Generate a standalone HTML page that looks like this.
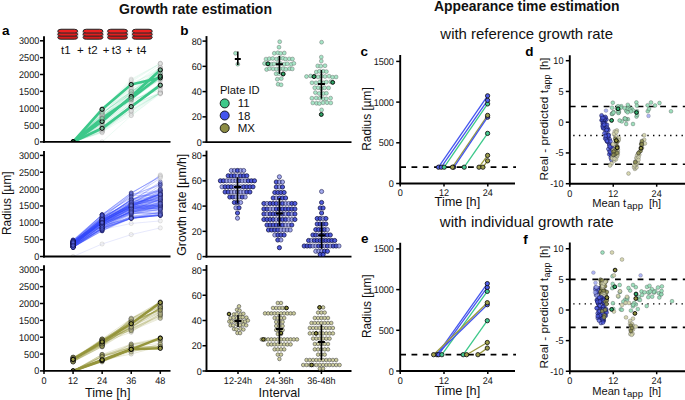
<!DOCTYPE html>
<html><head><meta charset="utf-8"><style>
html,body{margin:0;padding:0;background:#fff;width:685px;height:400px;overflow:hidden}
svg{display:block;font-family:"Liberation Sans", sans-serif}
.c0{fill:#e4e4e4;fill-opacity:0.4;stroke:#888;stroke-width:0.6;stroke-opacity:0.35}
.c1{fill:#8fd0ae;fill-opacity:0.5;stroke:#666;stroke-width:0.6;stroke-opacity:0.5}
.c2{fill:#3aa06a;fill-opacity:0.55;stroke:#000;stroke-width:1.0;stroke-opacity:1}
.c3{fill:#6cc496;fill-opacity:0.7;stroke:#444;stroke-width:0.7;stroke-opacity:0.7}
.c4{fill:#5a68e0;fill-opacity:0.55;stroke:#14145a;stroke-width:0.7;stroke-opacity:0.75}
.c5{fill:#6a76dc;fill-opacity:0.45;stroke:#1a1a5a;stroke-width:0.6;stroke-opacity:0.6}
.c6{fill:#a8a860;fill-opacity:0.45;stroke:#222;stroke-width:0.6;stroke-opacity:0.55}
.c7{fill:#d0d0a8;fill-opacity:0.45;stroke:#666;stroke-width:0.6;stroke-opacity:0.45}
.c8{fill:#a8a860;fill-opacity:0.6;stroke:#222;stroke-width:0.7;stroke-opacity:0.7}
.c9{fill:#9a9a40;fill-opacity:0.8;stroke:#000;stroke-width:1.0;stroke-opacity:1}
.c10{fill:#3ec98a;fill-opacity:1;stroke:#111;stroke-width:0.9;stroke-opacity:1}
.c11{fill:#4455ee;fill-opacity:1;stroke:#111;stroke-width:0.9;stroke-opacity:1}
.c12{fill:#8c8c44;fill-opacity:1;stroke:#111;stroke-width:0.9;stroke-opacity:1}
.c13{fill:#a2e4c4;fill-opacity:0.95;stroke:#555;stroke-width:0.55;stroke-opacity:0.7}
.c14{fill:#2fa466;fill-opacity:1;stroke:#000;stroke-width:0.9;stroke-opacity:1}
.c15{fill:#7c86e6;fill-opacity:0.7;stroke:#1a1a50;stroke-width:0.7;stroke-opacity:0.85}
.c16{fill:#3e4bd8;fill-opacity:0.9;stroke:#0e0e3e;stroke-width:0.8;stroke-opacity:0.95}
.c17{fill:#cdcd9e;fill-opacity:1;stroke:#333;stroke-width:0.6;stroke-opacity:0.85}
.c18{fill:#8e8e3a;fill-opacity:1;stroke:#000;stroke-width:0.9;stroke-opacity:1}
.c19{fill:#4f5eea;fill-opacity:1;stroke:#111;stroke-width:0.85;stroke-opacity:1}
.c20{fill:#45c98f;fill-opacity:1;stroke:#111;stroke-width:0.85;stroke-opacity:1}
.c21{fill:#9d9d4a;fill-opacity:1;stroke:#111;stroke-width:0.85;stroke-opacity:1}
.c22{fill:#4e5ce6;fill-opacity:0.7;stroke:#14144e;stroke-width:0.65;stroke-opacity:0.8}
.c23{fill:#d2d2a8;fill-opacity:0.9;stroke:#555;stroke-width:0.55;stroke-opacity:0.6}
.c24{fill:#8c8c50;fill-opacity:0.9;stroke:#222;stroke-width:0.6;stroke-opacity:0.7}
.c25{fill:#94dcb6;fill-opacity:0.9;stroke:#444;stroke-width:0.55;stroke-opacity:0.6}
.c26{fill:#9aa2f0;fill-opacity:0.8;stroke:#555;stroke-width:0.5;stroke-opacity:0.5}
.c27{fill:#2fae6c;fill-opacity:1;stroke:#000;stroke-width:0.9;stroke-opacity:1}
.c28{fill:#8e8e3a;fill-opacity:1;stroke:#000;stroke-width:0.9;stroke-opacity:1}
</style></head><body>
<svg width="685" height="400" viewBox="0 0 685 400">
<rect width="685" height="400" fill="#fff"/>
<text x="195.50" y="14.00" font-size="14" text-anchor="middle" font-weight="bold" fill="#111" textLength="153" lengthAdjust="spacingAndGlyphs">Growth rate estimation</text>
<text x="526.80" y="11.40" font-size="14" text-anchor="middle" font-weight="bold" fill="#111" textLength="185.5" lengthAdjust="spacingAndGlyphs">Appearance time estimation</text>
<text x="526.70" y="38.60" font-size="15" text-anchor="middle" font-weight="normal" fill="#111" textLength="172.7" lengthAdjust="spacingAndGlyphs">with reference growth rate</text>
<text x="526.70" y="227.10" font-size="15" text-anchor="middle" font-weight="normal" fill="#111" textLength="173.7" lengthAdjust="spacingAndGlyphs">with individual growth rate</text>
<text x="2.00" y="35.00" font-size="13.5" text-anchor="start" font-weight="bold" fill="#000" >a</text>
<text x="180.20" y="35.00" font-size="13.5" text-anchor="start" font-weight="bold" fill="#000" >b</text>
<text x="360.50" y="56.20" font-size="13.5" text-anchor="start" font-weight="bold" fill="#000" >c</text>
<text x="525.30" y="55.90" font-size="13.5" text-anchor="start" font-weight="bold" fill="#000" >d</text>
<text x="361.00" y="242.80" font-size="13.5" text-anchor="start" font-weight="bold" fill="#000" >e</text>
<text x="523.30" y="243.50" font-size="13.5" text-anchor="start" font-weight="bold" fill="#000" >f</text>
<clipPath id="ca0"><rect x="40" y="29.9" width="140" height="112"/></clipPath>
<clipPath id="ca1"><rect x="40" y="144.5" width="140" height="112"/></clipPath>
<clipPath id="ca2"><rect x="40" y="258.9" width="140" height="112"/></clipPath>
<text x="10.60" y="203.00" font-size="11.9" text-anchor="middle" font-weight="normal" fill="#111" transform="rotate(-90 10.8 203)" textLength="63.5" lengthAdjust="spacingAndGlyphs">Radius [µm]</text>
<text x="107.70" y="396.70" font-size="11.9" text-anchor="middle" font-weight="normal" fill="#111" textLength="45.5" lengthAdjust="spacingAndGlyphs">Time [h]</text>
<g transform="translate(57.20,28.8)">
<rect x="-0.4" y="-0.2" width="21.8" height="11.2" rx="5" ry="4" fill="#999" opacity="0.35"/>
<rect x="0.6" y="6.9" width="19.8" height="3.5" rx="3.2" ry="1.75" fill="#d81a1a" stroke="#2a2a2a" stroke-width="1"/>
<rect x="0.6" y="3.8" width="19.8" height="3.5" rx="3.2" ry="1.75" fill="#e21e1e" stroke="#2a2a2a" stroke-width="1"/>
<rect x="0.6" y="0.5" width="19.8" height="3.7" rx="3.2" ry="1.85" fill="#ec2222" stroke="#2a2a2a" stroke-width="1"/>
</g>
<g transform="translate(82.50,28.8)">
<rect x="-0.4" y="-0.2" width="21.8" height="11.2" rx="5" ry="4" fill="#999" opacity="0.35"/>
<rect x="0.6" y="6.9" width="19.8" height="3.5" rx="3.2" ry="1.75" fill="#d81a1a" stroke="#2a2a2a" stroke-width="1"/>
<rect x="0.6" y="3.8" width="19.8" height="3.5" rx="3.2" ry="1.75" fill="#e21e1e" stroke="#2a2a2a" stroke-width="1"/>
<rect x="0.6" y="0.5" width="19.8" height="3.7" rx="3.2" ry="1.85" fill="#ec2222" stroke="#2a2a2a" stroke-width="1"/>
</g>
<g transform="translate(107.00,28.8)">
<rect x="-0.4" y="-0.2" width="21.8" height="11.2" rx="5" ry="4" fill="#999" opacity="0.35"/>
<rect x="0.6" y="6.9" width="19.8" height="3.5" rx="3.2" ry="1.75" fill="#d81a1a" stroke="#2a2a2a" stroke-width="1"/>
<rect x="0.6" y="3.8" width="19.8" height="3.5" rx="3.2" ry="1.75" fill="#e21e1e" stroke="#2a2a2a" stroke-width="1"/>
<rect x="0.6" y="0.5" width="19.8" height="3.7" rx="3.2" ry="1.85" fill="#ec2222" stroke="#2a2a2a" stroke-width="1"/>
</g>
<g transform="translate(131.80,28.8)">
<rect x="-0.4" y="-0.2" width="21.8" height="11.2" rx="5" ry="4" fill="#999" opacity="0.35"/>
<rect x="0.6" y="6.9" width="19.8" height="3.5" rx="3.2" ry="1.75" fill="#d81a1a" stroke="#2a2a2a" stroke-width="1"/>
<rect x="0.6" y="3.8" width="19.8" height="3.5" rx="3.2" ry="1.75" fill="#e21e1e" stroke="#2a2a2a" stroke-width="1"/>
<rect x="0.6" y="0.5" width="19.8" height="3.7" rx="3.2" ry="1.85" fill="#ec2222" stroke="#2a2a2a" stroke-width="1"/>
</g>
<text x="61.00" y="54.40" font-size="11.5" text-anchor="start" font-weight="normal" fill="#111" >t1</text>
<text x="77.00" y="54.40" font-size="11.5" text-anchor="start" font-weight="normal" fill="#111" >+</text>
<text x="88.00" y="54.40" font-size="11.5" text-anchor="start" font-weight="normal" fill="#111" >t2</text>
<text x="102.70" y="54.40" font-size="11.5" text-anchor="start" font-weight="normal" fill="#111" >+</text>
<text x="111.80" y="54.40" font-size="11.5" text-anchor="start" font-weight="normal" fill="#111" >t3</text>
<text x="125.80" y="54.40" font-size="11.5" text-anchor="start" font-weight="normal" fill="#111" >+</text>
<text x="136.80" y="54.40" font-size="11.5" text-anchor="start" font-weight="normal" fill="#111" >t4</text>
<g clip-path="url(#ca0)">
<polyline points="73.1,141.9 102.1,124.4 131.2,106.5 160.3,87.1" fill="none" stroke="#3cc88a" stroke-width="0.9" stroke-opacity="0.1" stroke-linejoin="round"/>
<polyline points="73.1,141.9 102.1,131.4 131.2,106.4 160.3,91.8" fill="none" stroke="#3cc88a" stroke-width="0.9" stroke-opacity="0.1" stroke-linejoin="round"/>
<polyline points="73.1,141.9 102.1,131.9 131.2,107.3 160.3,93.0" fill="none" stroke="#3cc88a" stroke-width="0.9" stroke-opacity="0.1" stroke-linejoin="round"/>
<polyline points="73.1,141.9 102.1,121.3 131.2,104.9 160.3,93.0" fill="none" stroke="#3cc88a" stroke-width="0.9" stroke-opacity="0.1" stroke-linejoin="round"/>
<polyline points="73.1,141.9 102.1,121.6 131.2,91.1 160.3,80.6" fill="none" stroke="#3cc88a" stroke-width="0.9" stroke-opacity="0.1" stroke-linejoin="round"/>
<polyline points="73.1,141.9 102.1,127.2 131.2,100.4 160.3,76.0" fill="none" stroke="#3cc88a" stroke-width="0.9" stroke-opacity="0.1" stroke-linejoin="round"/>
<polyline points="73.1,141.9 102.1,117.3 131.2,94.8 160.3,69.9" fill="none" stroke="#3cc88a" stroke-width="0.9" stroke-opacity="0.1" stroke-linejoin="round"/>
<polyline points="73.1,141.9 102.1,132.2 131.2,101.1 160.3,87.8" fill="none" stroke="#3cc88a" stroke-width="0.9" stroke-opacity="0.1" stroke-linejoin="round"/>
<polyline points="73.1,141.9 102.1,129.4 131.2,112.1 160.3,93.0" fill="none" stroke="#3cc88a" stroke-width="0.9" stroke-opacity="0.1" stroke-linejoin="round"/>
<polyline points="73.1,141.9 102.1,110.6 131.2,92.1 160.3,73.9" fill="none" stroke="#3cc88a" stroke-width="0.9" stroke-opacity="0.1" stroke-linejoin="round"/>
<polyline points="73.1,141.9 102.1,115.6 131.2,93.5 160.3,75.9" fill="none" stroke="#3cc88a" stroke-width="0.9" stroke-opacity="0.1" stroke-linejoin="round"/>
<polyline points="73.1,141.9 102.1,131.7 131.2,115.4 160.3,93.0" fill="none" stroke="#3cc88a" stroke-width="0.9" stroke-opacity="0.1" stroke-linejoin="round"/>
<polyline points="73.1,141.9 102.1,114.4 131.2,91.4 160.3,77.6" fill="none" stroke="#3cc88a" stroke-width="0.9" stroke-opacity="0.1" stroke-linejoin="round"/>
<polyline points="73.1,141.9 102.1,117.1 131.2,93.5 160.3,80.1" fill="none" stroke="#3cc88a" stroke-width="0.9" stroke-opacity="0.1" stroke-linejoin="round"/>
<polyline points="73.1,141.9 102.1,111.3 131.2,83.1 160.3,70.6" fill="none" stroke="#3cc88a" stroke-width="0.9" stroke-opacity="0.1" stroke-linejoin="round"/>
<polyline points="73.1,141.9 102.1,117.4 131.2,92.5 160.3,69.3" fill="none" stroke="#3cc88a" stroke-width="0.9" stroke-opacity="0.1" stroke-linejoin="round"/>
<polyline points="73.1,141.9 102.1,113.1 131.2,92.6 160.3,67.6" fill="none" stroke="#3cc88a" stroke-width="0.9" stroke-opacity="0.1" stroke-linejoin="round"/>
<polyline points="73.1,141.9 102.1,130.2 131.2,107.3 160.3,86.1" fill="none" stroke="#3cc88a" stroke-width="0.9" stroke-opacity="0.1" stroke-linejoin="round"/>
<polyline points="73.1,141.9 102.1,129.2 131.2,105.0 160.3,93.0" fill="none" stroke="#3cc88a" stroke-width="0.9" stroke-opacity="0.1" stroke-linejoin="round"/>
<polyline points="73.1,141.9 102.1,114.8 131.2,85.4 160.3,67.4" fill="none" stroke="#3cc88a" stroke-width="0.9" stroke-opacity="0.1" stroke-linejoin="round"/>
<polyline points="73.1,141.9 102.1,109.0 131.2,88.0 160.3,67.9" fill="none" stroke="#3cc88a" stroke-width="0.9" stroke-opacity="0.1" stroke-linejoin="round"/>
<polyline points="73.1,141.9 102.1,116.8 131.2,90.9 160.3,74.8" fill="none" stroke="#3cc88a" stroke-width="0.9" stroke-opacity="0.1" stroke-linejoin="round"/>
<polyline points="73.1,141.9 102.1,110.0 131.2,79.2 160.3,63.4" fill="none" stroke="#3cc88a" stroke-width="0.9" stroke-opacity="0.1" stroke-linejoin="round"/>
<polyline points="73.1,141.9 102.1,114.9 131.2,98.6 160.3,78.4" fill="none" stroke="#3cc88a" stroke-width="0.9" stroke-opacity="0.1" stroke-linejoin="round"/>
<polyline points="73.1,141.9 102.1,115.4 131.2,81.8 160.3,63.4" fill="none" stroke="#3cc88a" stroke-width="0.9" stroke-opacity="0.1" stroke-linejoin="round"/>
<polyline points="73.1,141.9 102.1,125.5 131.2,103.2 160.3,83.5" fill="none" stroke="#3cc88a" stroke-width="0.9" stroke-opacity="0.1" stroke-linejoin="round"/>
<polyline points="73.1,141.9 102.1,132.8 131.2,109.1 160.3,93.0" fill="none" stroke="#3cc88a" stroke-width="0.9" stroke-opacity="0.1" stroke-linejoin="round"/>
<polyline points="73.1,141.9 102.1,130.2 131.2,113.9 160.3,92.6" fill="none" stroke="#3cc88a" stroke-width="0.9" stroke-opacity="0.1" stroke-linejoin="round"/>
<polyline points="73.1,141.9 102.1,129.9 131.2,110.1 160.3,93.0" fill="none" stroke="#3cc88a" stroke-width="0.9" stroke-opacity="0.1" stroke-linejoin="round"/>
<polyline points="73.1,141.9 102.1,109.1 131.2,92.4 160.3,76.4" fill="none" stroke="#3cc88a" stroke-width="0.9" stroke-opacity="0.1" stroke-linejoin="round"/>
<polyline points="73.1,141.9 102.1,118.1 131.2,86.6 160.3,64.3" fill="none" stroke="#3cc88a" stroke-width="0.9" stroke-opacity="0.1" stroke-linejoin="round"/>
<polyline points="73.1,141.9 102.1,109.3 131.2,89.0 160.3,73.6" fill="none" stroke="#3cc88a" stroke-width="0.9" stroke-opacity="0.1" stroke-linejoin="round"/>
<polyline points="73.1,141.9 102.1,123.4 131.2,91.9 160.3,67.3" fill="none" stroke="#3cc88a" stroke-width="0.9" stroke-opacity="0.1" stroke-linejoin="round"/>
<polyline points="73.1,141.9 102.1,129.3 131.2,110.8 160.3,93.0" fill="none" stroke="#3cc88a" stroke-width="0.9" stroke-opacity="0.1" stroke-linejoin="round"/>
<polyline points="73.1,141.9 102.1,126.9 131.2,102.8 160.3,84.4" fill="none" stroke="#3cc88a" stroke-width="0.9" stroke-opacity="0.1" stroke-linejoin="round"/>
<polyline points="73.1,141.9 102.1,126.1 131.2,110.9 160.3,93.0" fill="none" stroke="#3cc88a" stroke-width="0.9" stroke-opacity="0.1" stroke-linejoin="round"/>
<polyline points="73.1,141.9 102.1,123.1 131.2,97.5 160.3,73.0" fill="none" stroke="#3cc88a" stroke-width="0.9" stroke-opacity="0.1" stroke-linejoin="round"/>
<polyline points="73.1,141.9 102.1,114.2 131.2,89.4 160.3,70.6" fill="none" stroke="#3cc88a" stroke-width="0.9" stroke-opacity="0.1" stroke-linejoin="round"/>
<polyline points="73.1,141.9 102.1,114.6 131.2,98.4 160.3,74.8" fill="none" stroke="#3cc88a" stroke-width="0.9" stroke-opacity="0.1" stroke-linejoin="round"/>
<polyline points="73.1,141.9 102.1,111.7 131.2,80.3 160.3,63.4" fill="none" stroke="#3cc88a" stroke-width="0.9" stroke-opacity="0.1" stroke-linejoin="round"/>
<polyline points="73.1,141.9 102.1,122.5 131.2,99.9 160.3,89.8" fill="none" stroke="#3cc88a" stroke-width="0.9" stroke-opacity="0.1" stroke-linejoin="round"/>
<polyline points="73.1,141.9 102.1,115.7 131.2,99.4 160.3,89.9" fill="none" stroke="#3cc88a" stroke-width="0.9" stroke-opacity="0.1" stroke-linejoin="round"/>
<polyline points="73.1,141.9 102.1,141.9 131.2,115.6 160.3,94.0" fill="none" stroke="#3cc88a" stroke-width="0.9" stroke-opacity="0.1" stroke-linejoin="round"/>
<polyline points="73.1,141.9 102.1,113.6 131.2,91.3 160.3,73.8" fill="none" stroke="#3cc88a" stroke-width="1.0" stroke-opacity="0.2" stroke-linejoin="round"/>
<polyline points="73.1,141.9 102.1,124.4 131.2,99.8 160.3,78.9" fill="none" stroke="#3cc88a" stroke-width="1.0" stroke-opacity="0.2" stroke-linejoin="round"/>
<polyline points="73.1,141.9 102.1,112.2 131.2,94.0 160.3,72.5" fill="none" stroke="#3cc88a" stroke-width="1.0" stroke-opacity="0.2" stroke-linejoin="round"/>
<polyline points="73.1,141.9 102.1,109.3 131.2,84.5 160.3,77.8" fill="none" stroke="#3cc88a" stroke-width="2.7" stroke-opacity="1" stroke-linejoin="round"/>
<polyline points="73.1,141.9 102.1,121.5 131.2,96.5 160.3,69.9" fill="none" stroke="#3cc88a" stroke-width="2.7" stroke-opacity="1" stroke-linejoin="round"/>
<polyline points="73.1,141.9 102.1,128.3 131.2,106.6 160.3,85.2" fill="none" stroke="#3cc88a" stroke-width="2.7" stroke-opacity="1" stroke-linejoin="round"/>
<polyline points="73.1,141.9 102.1,118.3 131.2,98.3 160.3,76.2" fill="none" stroke="#3cc88a" stroke-width="2.7" stroke-opacity="1" stroke-linejoin="round"/>
<circle class="c0" cx="102.1" cy="124.4" r="2.1"/>
<circle class="c0" cx="131.2" cy="106.5" r="2.1"/>
<circle class="c0" cx="160.3" cy="87.1" r="2.1"/>
<circle class="c0" cx="102.1" cy="131.4" r="2.1"/>
<circle class="c0" cx="131.2" cy="106.4" r="2.1"/>
<circle class="c0" cx="160.3" cy="91.8" r="2.1"/>
<circle class="c0" cx="102.1" cy="131.9" r="2.1"/>
<circle class="c0" cx="131.2" cy="107.3" r="2.1"/>
<circle class="c0" cx="160.3" cy="93.0" r="2.1"/>
<circle class="c0" cx="102.1" cy="121.3" r="2.1"/>
<circle class="c0" cx="131.2" cy="104.9" r="2.1"/>
<circle class="c0" cx="160.3" cy="93.0" r="2.1"/>
<circle class="c0" cx="102.1" cy="121.6" r="2.1"/>
<circle class="c0" cx="131.2" cy="91.1" r="2.1"/>
<circle class="c0" cx="160.3" cy="80.6" r="2.1"/>
<circle class="c0" cx="102.1" cy="127.2" r="2.1"/>
<circle class="c0" cx="131.2" cy="100.4" r="2.1"/>
<circle class="c0" cx="160.3" cy="76.0" r="2.1"/>
<circle class="c0" cx="102.1" cy="117.3" r="2.1"/>
<circle class="c0" cx="131.2" cy="94.8" r="2.1"/>
<circle class="c0" cx="160.3" cy="69.9" r="2.1"/>
<circle class="c0" cx="102.1" cy="132.2" r="2.1"/>
<circle class="c0" cx="131.2" cy="101.1" r="2.1"/>
<circle class="c0" cx="160.3" cy="87.8" r="2.1"/>
<circle class="c0" cx="102.1" cy="129.4" r="2.1"/>
<circle class="c0" cx="131.2" cy="112.1" r="2.1"/>
<circle class="c0" cx="160.3" cy="93.0" r="2.1"/>
<circle class="c0" cx="102.1" cy="110.6" r="2.1"/>
<circle class="c0" cx="131.2" cy="92.1" r="2.1"/>
<circle class="c0" cx="160.3" cy="73.9" r="2.1"/>
<circle class="c0" cx="102.1" cy="115.6" r="2.1"/>
<circle class="c0" cx="131.2" cy="93.5" r="2.1"/>
<circle class="c0" cx="160.3" cy="75.9" r="2.1"/>
<circle class="c0" cx="102.1" cy="131.7" r="2.1"/>
<circle class="c0" cx="131.2" cy="115.4" r="2.1"/>
<circle class="c0" cx="160.3" cy="93.0" r="2.1"/>
<circle class="c0" cx="102.1" cy="114.4" r="2.1"/>
<circle class="c0" cx="131.2" cy="91.4" r="2.1"/>
<circle class="c0" cx="160.3" cy="77.6" r="2.1"/>
<circle class="c0" cx="102.1" cy="117.1" r="2.1"/>
<circle class="c0" cx="131.2" cy="93.5" r="2.1"/>
<circle class="c0" cx="160.3" cy="80.1" r="2.1"/>
<circle class="c0" cx="102.1" cy="111.3" r="2.1"/>
<circle class="c0" cx="131.2" cy="83.1" r="2.1"/>
<circle class="c0" cx="160.3" cy="70.6" r="2.1"/>
<circle class="c0" cx="102.1" cy="117.4" r="2.1"/>
<circle class="c0" cx="131.2" cy="92.5" r="2.1"/>
<circle class="c0" cx="160.3" cy="69.3" r="2.1"/>
<circle class="c0" cx="102.1" cy="113.1" r="2.1"/>
<circle class="c0" cx="131.2" cy="92.6" r="2.1"/>
<circle class="c0" cx="160.3" cy="67.6" r="2.1"/>
<circle class="c0" cx="102.1" cy="130.2" r="2.1"/>
<circle class="c0" cx="131.2" cy="107.3" r="2.1"/>
<circle class="c0" cx="160.3" cy="86.1" r="2.1"/>
<circle class="c0" cx="102.1" cy="129.2" r="2.1"/>
<circle class="c0" cx="131.2" cy="105.0" r="2.1"/>
<circle class="c0" cx="160.3" cy="93.0" r="2.1"/>
<circle class="c0" cx="102.1" cy="114.8" r="2.1"/>
<circle class="c0" cx="131.2" cy="85.4" r="2.1"/>
<circle class="c0" cx="160.3" cy="67.4" r="2.1"/>
<circle class="c0" cx="102.1" cy="109.0" r="2.1"/>
<circle class="c0" cx="131.2" cy="88.0" r="2.1"/>
<circle class="c0" cx="160.3" cy="67.9" r="2.1"/>
<circle class="c0" cx="102.1" cy="116.8" r="2.1"/>
<circle class="c0" cx="131.2" cy="90.9" r="2.1"/>
<circle class="c0" cx="160.3" cy="74.8" r="2.1"/>
<circle class="c0" cx="102.1" cy="110.0" r="2.1"/>
<circle class="c0" cx="131.2" cy="79.2" r="2.1"/>
<circle class="c0" cx="160.3" cy="63.4" r="2.1"/>
<circle class="c0" cx="102.1" cy="114.9" r="2.1"/>
<circle class="c0" cx="131.2" cy="98.6" r="2.1"/>
<circle class="c0" cx="160.3" cy="78.4" r="2.1"/>
<circle class="c0" cx="102.1" cy="115.4" r="2.1"/>
<circle class="c0" cx="131.2" cy="81.8" r="2.1"/>
<circle class="c0" cx="160.3" cy="63.4" r="2.1"/>
<circle class="c0" cx="102.1" cy="125.5" r="2.1"/>
<circle class="c0" cx="131.2" cy="103.2" r="2.1"/>
<circle class="c0" cx="160.3" cy="83.5" r="2.1"/>
<circle class="c0" cx="102.1" cy="132.8" r="2.1"/>
<circle class="c0" cx="131.2" cy="109.1" r="2.1"/>
<circle class="c0" cx="160.3" cy="93.0" r="2.1"/>
<circle class="c0" cx="102.1" cy="130.2" r="2.1"/>
<circle class="c0" cx="131.2" cy="113.9" r="2.1"/>
<circle class="c0" cx="160.3" cy="92.6" r="2.1"/>
<circle class="c0" cx="102.1" cy="129.9" r="2.1"/>
<circle class="c0" cx="131.2" cy="110.1" r="2.1"/>
<circle class="c0" cx="160.3" cy="93.0" r="2.1"/>
<circle class="c0" cx="102.1" cy="109.1" r="2.1"/>
<circle class="c0" cx="131.2" cy="92.4" r="2.1"/>
<circle class="c0" cx="160.3" cy="76.4" r="2.1"/>
<circle class="c0" cx="102.1" cy="118.1" r="2.1"/>
<circle class="c0" cx="131.2" cy="86.6" r="2.1"/>
<circle class="c0" cx="160.3" cy="64.3" r="2.1"/>
<circle class="c0" cx="102.1" cy="109.3" r="2.1"/>
<circle class="c0" cx="131.2" cy="89.0" r="2.1"/>
<circle class="c0" cx="160.3" cy="73.6" r="2.1"/>
<circle class="c0" cx="102.1" cy="123.4" r="2.1"/>
<circle class="c0" cx="131.2" cy="91.9" r="2.1"/>
<circle class="c0" cx="160.3" cy="67.3" r="2.1"/>
<circle class="c0" cx="102.1" cy="129.3" r="2.1"/>
<circle class="c0" cx="131.2" cy="110.8" r="2.1"/>
<circle class="c0" cx="160.3" cy="93.0" r="2.1"/>
<circle class="c0" cx="102.1" cy="126.9" r="2.1"/>
<circle class="c0" cx="131.2" cy="102.8" r="2.1"/>
<circle class="c0" cx="160.3" cy="84.4" r="2.1"/>
<circle class="c0" cx="102.1" cy="126.1" r="2.1"/>
<circle class="c0" cx="131.2" cy="110.9" r="2.1"/>
<circle class="c0" cx="160.3" cy="93.0" r="2.1"/>
<circle class="c0" cx="102.1" cy="123.1" r="2.1"/>
<circle class="c0" cx="131.2" cy="97.5" r="2.1"/>
<circle class="c0" cx="160.3" cy="73.0" r="2.1"/>
<circle class="c0" cx="102.1" cy="114.2" r="2.1"/>
<circle class="c0" cx="131.2" cy="89.4" r="2.1"/>
<circle class="c0" cx="160.3" cy="70.6" r="2.1"/>
<circle class="c0" cx="102.1" cy="114.6" r="2.1"/>
<circle class="c0" cx="131.2" cy="98.4" r="2.1"/>
<circle class="c0" cx="160.3" cy="74.8" r="2.1"/>
<circle class="c0" cx="102.1" cy="111.7" r="2.1"/>
<circle class="c0" cx="131.2" cy="80.3" r="2.1"/>
<circle class="c0" cx="160.3" cy="63.4" r="2.1"/>
<circle class="c0" cx="102.1" cy="122.5" r="2.1"/>
<circle class="c0" cx="131.2" cy="99.9" r="2.1"/>
<circle class="c0" cx="160.3" cy="89.8" r="2.1"/>
<circle class="c0" cx="102.1" cy="115.7" r="2.1"/>
<circle class="c0" cx="131.2" cy="99.4" r="2.1"/>
<circle class="c0" cx="160.3" cy="89.9" r="2.1"/>
<circle class="c0" cx="102.1" cy="141.9" r="2.1"/>
<circle class="c0" cx="131.2" cy="115.6" r="2.1"/>
<circle class="c0" cx="160.3" cy="94.0" r="2.1"/>
<circle class="c1" cx="102.1" cy="113.6" r="2.1"/>
<circle class="c1" cx="131.2" cy="91.3" r="2.1"/>
<circle class="c1" cx="160.3" cy="73.8" r="2.1"/>
<circle class="c1" cx="102.1" cy="124.4" r="2.1"/>
<circle class="c1" cx="131.2" cy="99.8" r="2.1"/>
<circle class="c1" cx="160.3" cy="78.9" r="2.1"/>
<circle class="c1" cx="102.1" cy="112.2" r="2.1"/>
<circle class="c1" cx="131.2" cy="94.0" r="2.1"/>
<circle class="c1" cx="160.3" cy="72.5" r="2.1"/>
<circle class="c2" cx="73.1" cy="141.9" r="2.1"/>
<circle class="c2" cx="102.1" cy="109.3" r="2.1"/>
<circle class="c2" cx="131.2" cy="84.5" r="2.1"/>
<circle class="c2" cx="160.3" cy="77.8" r="2.1"/>
<circle class="c2" cx="73.1" cy="141.9" r="2.1"/>
<circle class="c2" cx="102.1" cy="121.5" r="2.1"/>
<circle class="c2" cx="131.2" cy="96.5" r="2.1"/>
<circle class="c2" cx="160.3" cy="69.9" r="2.1"/>
<circle class="c2" cx="73.1" cy="141.9" r="2.1"/>
<circle class="c2" cx="102.1" cy="128.3" r="2.1"/>
<circle class="c2" cx="131.2" cy="106.6" r="2.1"/>
<circle class="c2" cx="160.3" cy="85.2" r="2.1"/>
<circle class="c2" cx="73.1" cy="141.9" r="2.1"/>
<circle class="c3" cx="102.1" cy="118.3" r="2.1"/>
<circle class="c3" cx="131.2" cy="98.3" r="2.1"/>
<circle class="c2" cx="160.3" cy="76.2" r="2.1"/>
</g>
<g clip-path="url(#ca1)">
<polyline points="73.1,243.2 102.1,222.2 131.2,206.1 160.3,197.4" fill="none" stroke="#3248fa" stroke-width="1.0" stroke-opacity="0.24" stroke-linejoin="round"/>
<polyline points="73.1,243.3 102.1,221.6 131.2,202.9 160.3,199.7" fill="none" stroke="#3248fa" stroke-width="1.0" stroke-opacity="0.24" stroke-linejoin="round"/>
<polyline points="73.1,245.1 102.1,224.0 131.2,208.0 160.3,206.0" fill="none" stroke="#3248fa" stroke-width="1.0" stroke-opacity="0.24" stroke-linejoin="round"/>
<polyline points="73.1,241.5 102.1,225.0 131.2,208.0 160.3,196.5" fill="none" stroke="#3248fa" stroke-width="1.0" stroke-opacity="0.24" stroke-linejoin="round"/>
<polyline points="73.1,243.1 102.1,221.7 131.2,203.7 160.3,196.2" fill="none" stroke="#3248fa" stroke-width="1.0" stroke-opacity="0.24" stroke-linejoin="round"/>
<polyline points="73.1,242.5 102.1,223.8 131.2,212.0 160.3,206.0" fill="none" stroke="#3248fa" stroke-width="1.0" stroke-opacity="0.24" stroke-linejoin="round"/>
<polyline points="73.1,244.5 102.1,227.4 131.2,210.1 160.3,199.2" fill="none" stroke="#3248fa" stroke-width="1.0" stroke-opacity="0.24" stroke-linejoin="round"/>
<polyline points="73.1,246.1 102.1,225.2 131.2,212.5 160.3,206.0" fill="none" stroke="#3248fa" stroke-width="1.0" stroke-opacity="0.24" stroke-linejoin="round"/>
<polyline points="73.1,247.3 102.1,229.0 131.2,216.2 160.3,212.3" fill="none" stroke="#3248fa" stroke-width="1.0" stroke-opacity="0.24" stroke-linejoin="round"/>
<polyline points="73.1,246.6 102.1,230.9 131.2,218.4 160.3,215.4" fill="none" stroke="#3248fa" stroke-width="1.0" stroke-opacity="0.24" stroke-linejoin="round"/>
<polyline points="73.1,242.5 102.1,222.1 131.2,206.1 160.3,196.3" fill="none" stroke="#3248fa" stroke-width="1.0" stroke-opacity="0.24" stroke-linejoin="round"/>
<polyline points="73.1,243.9 102.1,219.6 131.2,204.3 160.3,200.7" fill="none" stroke="#3248fa" stroke-width="1.0" stroke-opacity="0.24" stroke-linejoin="round"/>
<polyline points="73.1,240.8 102.1,214.7 131.2,192.9 160.3,176.7" fill="none" stroke="#3248fa" stroke-width="1.0" stroke-opacity="0.24" stroke-linejoin="round"/>
<polyline points="73.1,242.6 102.1,219.0 131.2,207.1 160.3,200.1" fill="none" stroke="#3248fa" stroke-width="1.0" stroke-opacity="0.24" stroke-linejoin="round"/>
<polyline points="73.1,244.0 102.1,221.8 131.2,207.5 160.3,190.6" fill="none" stroke="#3248fa" stroke-width="1.0" stroke-opacity="0.24" stroke-linejoin="round"/>
<polyline points="73.1,241.3 102.1,221.2 131.2,203.2 160.3,198.3" fill="none" stroke="#3248fa" stroke-width="1.0" stroke-opacity="0.24" stroke-linejoin="round"/>
<polyline points="73.1,241.1 102.1,221.1 131.2,199.4 160.3,190.3" fill="none" stroke="#3248fa" stroke-width="1.0" stroke-opacity="0.24" stroke-linejoin="round"/>
<polyline points="73.1,246.3 102.1,221.0 131.2,208.9 160.3,204.7" fill="none" stroke="#3248fa" stroke-width="1.0" stroke-opacity="0.24" stroke-linejoin="round"/>
<polyline points="73.1,242.9 102.1,218.8 131.2,207.7 160.3,193.0" fill="none" stroke="#3248fa" stroke-width="1.0" stroke-opacity="0.24" stroke-linejoin="round"/>
<polyline points="73.1,240.1 102.1,217.5 131.2,200.6 160.3,183.6" fill="none" stroke="#3248fa" stroke-width="1.0" stroke-opacity="0.24" stroke-linejoin="round"/>
<polyline points="73.1,243.7 102.1,219.9 131.2,207.6 160.3,208.4" fill="none" stroke="#3248fa" stroke-width="1.0" stroke-opacity="0.24" stroke-linejoin="round"/>
<polyline points="73.1,246.6 102.1,222.6 131.2,209.2 160.3,206.7" fill="none" stroke="#3248fa" stroke-width="1.0" stroke-opacity="0.24" stroke-linejoin="round"/>
<polyline points="73.1,243.2 102.1,222.4 131.2,204.6 160.3,201.2" fill="none" stroke="#3248fa" stroke-width="1.0" stroke-opacity="0.24" stroke-linejoin="round"/>
<polyline points="73.1,240.8 102.1,216.3 131.2,203.1 160.3,188.2" fill="none" stroke="#3248fa" stroke-width="1.0" stroke-opacity="0.24" stroke-linejoin="round"/>
<polyline points="73.1,247.4 102.1,230.9 131.2,216.2 160.3,215.4" fill="none" stroke="#3248fa" stroke-width="1.0" stroke-opacity="0.24" stroke-linejoin="round"/>
<polyline points="73.1,244.2 102.1,222.6 131.2,209.1 160.3,200.1" fill="none" stroke="#3248fa" stroke-width="1.0" stroke-opacity="0.24" stroke-linejoin="round"/>
<polyline points="73.1,241.0 102.1,215.3 131.2,194.7 160.3,185.3" fill="none" stroke="#3248fa" stroke-width="1.0" stroke-opacity="0.24" stroke-linejoin="round"/>
<polyline points="73.1,246.7 102.1,225.3 131.2,218.4 160.3,214.6" fill="none" stroke="#3248fa" stroke-width="1.0" stroke-opacity="0.24" stroke-linejoin="round"/>
<polyline points="73.1,241.5 102.1,218.9 131.2,199.8 160.3,191.1" fill="none" stroke="#3248fa" stroke-width="1.0" stroke-opacity="0.24" stroke-linejoin="round"/>
<polyline points="73.1,247.4 102.1,227.6 131.2,212.4 160.3,213.7" fill="none" stroke="#3248fa" stroke-width="1.0" stroke-opacity="0.24" stroke-linejoin="round"/>
<polyline points="73.1,246.3 102.1,228.0 131.2,213.2 160.3,213.5" fill="none" stroke="#3248fa" stroke-width="1.0" stroke-opacity="0.24" stroke-linejoin="round"/>
<polyline points="73.1,245.8 102.1,220.7 131.2,207.0 160.3,204.8" fill="none" stroke="#3248fa" stroke-width="1.0" stroke-opacity="0.24" stroke-linejoin="round"/>
<polyline points="73.1,243.1 102.1,223.3 131.2,205.4 160.3,193.2" fill="none" stroke="#3248fa" stroke-width="1.0" stroke-opacity="0.24" stroke-linejoin="round"/>
<polyline points="73.1,244.0 102.1,223.0 131.2,208.8 160.3,203.9" fill="none" stroke="#3248fa" stroke-width="1.0" stroke-opacity="0.24" stroke-linejoin="round"/>
<polyline points="73.1,241.1 102.1,217.1 131.2,204.7 160.3,185.4" fill="none" stroke="#3248fa" stroke-width="1.0" stroke-opacity="0.24" stroke-linejoin="round"/>
<polyline points="73.1,242.1 102.1,218.5 131.2,195.3 160.3,195.5" fill="none" stroke="#3248fa" stroke-width="1.0" stroke-opacity="0.24" stroke-linejoin="round"/>
<polyline points="73.1,240.8 102.1,222.2 131.2,203.2 160.3,189.6" fill="none" stroke="#3248fa" stroke-width="1.0" stroke-opacity="0.24" stroke-linejoin="round"/>
<polyline points="73.1,243.7 102.1,221.5 131.2,210.5 160.3,202.3" fill="none" stroke="#3248fa" stroke-width="1.0" stroke-opacity="0.24" stroke-linejoin="round"/>
<polyline points="73.1,242.7 102.1,221.5 131.2,206.4 160.3,202.0" fill="none" stroke="#3248fa" stroke-width="1.0" stroke-opacity="0.24" stroke-linejoin="round"/>
<polyline points="73.1,243.7 102.1,223.6 131.2,211.8 160.3,207.3" fill="none" stroke="#3248fa" stroke-width="1.0" stroke-opacity="0.24" stroke-linejoin="round"/>
<polyline points="73.1,239.8 102.1,214.7 131.2,198.4 160.3,174.9" fill="none" stroke="#3248fa" stroke-width="1.0" stroke-opacity="0.24" stroke-linejoin="round"/>
<polyline points="73.1,241.5 102.1,220.1 131.2,205.0 160.3,194.6" fill="none" stroke="#3248fa" stroke-width="1.0" stroke-opacity="0.24" stroke-linejoin="round"/>
<polyline points="73.1,246.3 102.1,228.8 131.2,218.4 160.3,213.7" fill="none" stroke="#3248fa" stroke-width="1.0" stroke-opacity="0.24" stroke-linejoin="round"/>
<polyline points="73.1,242.4 102.1,217.1 131.2,196.3 160.3,183.8" fill="none" stroke="#3248fa" stroke-width="1.0" stroke-opacity="0.24" stroke-linejoin="round"/>
<polyline points="73.1,245.7 102.1,220.7 131.2,207.5 160.3,208.9" fill="none" stroke="#3248fa" stroke-width="1.0" stroke-opacity="0.24" stroke-linejoin="round"/>
<polyline points="73.1,244.6 102.1,225.7 131.2,211.3 160.3,210.1" fill="none" stroke="#3248fa" stroke-width="1.0" stroke-opacity="0.24" stroke-linejoin="round"/>
<polyline points="73.1,245.2 102.1,228.8 131.2,214.5 160.3,209.0" fill="none" stroke="#3248fa" stroke-width="1.0" stroke-opacity="0.24" stroke-linejoin="round"/>
<polyline points="73.1,243.9 102.1,220.8 131.2,203.5 160.3,194.7" fill="none" stroke="#3248fa" stroke-width="1.0" stroke-opacity="0.24" stroke-linejoin="round"/>
<polyline points="73.1,242.7 102.1,220.7 131.2,202.0 160.3,194.9" fill="none" stroke="#3248fa" stroke-width="1.0" stroke-opacity="0.24" stroke-linejoin="round"/>
<polyline points="73.1,246.1 102.1,225.4 131.2,212.8 160.3,207.8" fill="none" stroke="#3248fa" stroke-width="1.0" stroke-opacity="0.24" stroke-linejoin="round"/>
<polyline points="73.1,243.9 102.1,222.7 131.2,210.6 160.3,199.3" fill="none" stroke="#3248fa" stroke-width="1.0" stroke-opacity="0.24" stroke-linejoin="round"/>
<polyline points="73.1,241.8 102.1,219.0 131.2,200.4 160.3,194.9" fill="none" stroke="#3248fa" stroke-width="1.0" stroke-opacity="0.24" stroke-linejoin="round"/>
<polyline points="73.1,247.2 102.1,230.6 131.2,217.1 160.3,215.4" fill="none" stroke="#3248fa" stroke-width="1.0" stroke-opacity="0.24" stroke-linejoin="round"/>
<polyline points="73.1,247.4 102.1,227.9 131.2,218.4 160.3,215.4" fill="none" stroke="#3248fa" stroke-width="1.0" stroke-opacity="0.24" stroke-linejoin="round"/>
<polyline points="73.1,244.8 102.1,224.4 131.2,211.7 160.3,202.3" fill="none" stroke="#3248fa" stroke-width="1.0" stroke-opacity="0.24" stroke-linejoin="round"/>
<polyline points="73.1,242.9 102.1,219.1 131.2,199.6 160.3,190.9" fill="none" stroke="#3248fa" stroke-width="1.0" stroke-opacity="0.24" stroke-linejoin="round"/>
<polyline points="73.1,243.4 102.1,219.1 131.2,199.9 160.3,192.7" fill="none" stroke="#3248fa" stroke-width="1.0" stroke-opacity="0.24" stroke-linejoin="round"/>
<polyline points="73.1,241.6 102.1,217.3 131.2,201.8 160.3,181.7" fill="none" stroke="#3248fa" stroke-width="1.0" stroke-opacity="0.24" stroke-linejoin="round"/>
<polyline points="73.1,242.2 102.1,217.9 131.2,194.2 160.3,190.9" fill="none" stroke="#3248fa" stroke-width="1.0" stroke-opacity="0.24" stroke-linejoin="round"/>
<polyline points="73.1,241.6 102.1,219.4 131.2,205.2 160.3,192.2" fill="none" stroke="#3248fa" stroke-width="1.0" stroke-opacity="0.24" stroke-linejoin="round"/>
<polyline points="73.1,242.3 102.1,220.0 131.2,205.5 160.3,194.5" fill="none" stroke="#3248fa" stroke-width="1.0" stroke-opacity="0.24" stroke-linejoin="round"/>
<polyline points="73.1,242.9 102.1,220.5 131.2,205.0 160.3,193.4" fill="none" stroke="#3248fa" stroke-width="1.0" stroke-opacity="0.24" stroke-linejoin="round"/>
<polyline points="73.1,246.4 102.1,226.2 131.2,217.3 160.3,212.1" fill="none" stroke="#3248fa" stroke-width="1.0" stroke-opacity="0.24" stroke-linejoin="round"/>
<polyline points="73.1,247.4 102.1,228.7 131.2,218.1 160.3,215.4" fill="none" stroke="#3248fa" stroke-width="1.0" stroke-opacity="0.24" stroke-linejoin="round"/>
<polyline points="73.1,245.9 102.1,220.5 131.2,207.8 160.3,199.0" fill="none" stroke="#3248fa" stroke-width="1.0" stroke-opacity="0.24" stroke-linejoin="round"/>
<polyline points="73.1,245.7 102.1,228.3 131.2,211.0 160.3,205.5" fill="none" stroke="#3248fa" stroke-width="1.0" stroke-opacity="0.24" stroke-linejoin="round"/>
<polyline points="73.1,247.3 102.1,228.2 131.2,218.4 160.3,215.4" fill="none" stroke="#3248fa" stroke-width="1.0" stroke-opacity="0.24" stroke-linejoin="round"/>
<polyline points="73.1,246.5 102.1,228.4 131.2,213.8 160.3,209.7" fill="none" stroke="#3248fa" stroke-width="1.0" stroke-opacity="0.24" stroke-linejoin="round"/>
<polyline points="73.1,242.3 102.1,217.9 131.2,201.1 160.3,200.0" fill="none" stroke="#3248fa" stroke-width="1.0" stroke-opacity="0.24" stroke-linejoin="round"/>
<polyline points="73.1,246.0 102.1,225.9 131.2,210.8 160.3,205.5" fill="none" stroke="#3248fa" stroke-width="1.0" stroke-opacity="0.24" stroke-linejoin="round"/>
<polyline points="73.1,244.8 102.1,222.6 131.2,204.8 160.3,197.2" fill="none" stroke="#3248fa" stroke-width="1.0" stroke-opacity="0.24" stroke-linejoin="round"/>
<polyline points="73.1,244.6 102.1,224.7 131.2,207.8 160.3,202.4" fill="none" stroke="#3248fa" stroke-width="1.0" stroke-opacity="0.24" stroke-linejoin="round"/>
<polyline points="73.1,244.9 102.1,223.0 131.2,214.6 160.3,205.3" fill="none" stroke="#3248fa" stroke-width="1.0" stroke-opacity="0.24" stroke-linejoin="round"/>
<polyline points="73.1,245.5 102.1,222.0 131.2,207.1 160.3,205.7" fill="none" stroke="#3248fa" stroke-width="1.0" stroke-opacity="0.24" stroke-linejoin="round"/>
<polyline points="73.1,244.8 102.1,222.7 131.2,207.7 160.3,203.3" fill="none" stroke="#3248fa" stroke-width="1.0" stroke-opacity="0.24" stroke-linejoin="round"/>
<polyline points="73.1,245.6 102.1,225.6 131.2,210.9 160.3,207.5" fill="none" stroke="#3248fa" stroke-width="1.0" stroke-opacity="0.24" stroke-linejoin="round"/>
<polyline points="73.1,246.6 102.1,225.6 131.2,213.6 160.3,211.6" fill="none" stroke="#3248fa" stroke-width="1.0" stroke-opacity="0.24" stroke-linejoin="round"/>
<polyline points="73.1,244.7 102.1,222.7 131.2,207.1 160.3,203.5" fill="none" stroke="#3248fa" stroke-width="1.0" stroke-opacity="0.24" stroke-linejoin="round"/>
<polyline points="73.1,240.4 102.1,214.7 131.2,193.6 160.3,175.6" fill="none" stroke="#3248fa" stroke-width="1.0" stroke-opacity="0.24" stroke-linejoin="round"/>
<polyline points="73.1,247.4 102.1,229.9 131.2,218.4 160.3,212.3" fill="none" stroke="#3248fa" stroke-width="1.0" stroke-opacity="0.24" stroke-linejoin="round"/>
<polyline points="73.1,242.2 102.1,220.2 131.2,203.5 160.3,196.1" fill="none" stroke="#3248fa" stroke-width="1.0" stroke-opacity="0.24" stroke-linejoin="round"/>
<polyline points="73.1,243.8 102.1,224.7 131.2,205.8 160.3,206.1" fill="none" stroke="#3248fa" stroke-width="1.0" stroke-opacity="0.24" stroke-linejoin="round"/>
<polyline points="73.1,241.5 102.1,221.9 131.2,206.1 160.3,194.3" fill="none" stroke="#3248fa" stroke-width="1.0" stroke-opacity="0.24" stroke-linejoin="round"/>
<polyline points="73.1,244.8 102.1,222.0 131.2,206.1 160.3,198.0" fill="none" stroke="#3248fa" stroke-width="1.0" stroke-opacity="0.24" stroke-linejoin="round"/>
<polyline points="73.1,243.6 102.1,222.7 131.2,212.1 160.3,206.9" fill="none" stroke="#3248fa" stroke-width="1.0" stroke-opacity="0.24" stroke-linejoin="round"/>
<polyline points="73.1,243.3 102.1,225.0 131.2,208.6 160.3,206.6" fill="none" stroke="#3248fa" stroke-width="1.0" stroke-opacity="0.24" stroke-linejoin="round"/>
<polyline points="73.1,244.5 102.1,222.9 131.2,211.8 160.3,209.7" fill="none" stroke="#3248fa" stroke-width="1.0" stroke-opacity="0.24" stroke-linejoin="round"/>
<polyline points="73.1,242.7 102.1,219.1 131.2,199.3 160.3,189.3" fill="none" stroke="#3248fa" stroke-width="1.0" stroke-opacity="0.24" stroke-linejoin="round"/>
<polyline points="73.1,242.6 102.1,224.3 131.2,208.8 160.3,208.0" fill="none" stroke="#3248fa" stroke-width="1.0" stroke-opacity="0.24" stroke-linejoin="round"/>
<polyline points="73.1,245.9 102.1,219.9 131.2,204.7 160.3,205.8" fill="none" stroke="#3248fa" stroke-width="1.0" stroke-opacity="0.24" stroke-linejoin="round"/>
<polyline points="73.1,247.4 102.1,226.0 131.2,217.6 160.3,214.8" fill="none" stroke="#3248fa" stroke-width="1.0" stroke-opacity="0.24" stroke-linejoin="round"/>
<polyline points="73.1,244.7 102.1,225.2 131.2,209.4 160.3,209.1" fill="none" stroke="#3248fa" stroke-width="1.0" stroke-opacity="0.24" stroke-linejoin="round"/>
<polyline points="73.1,243.8 102.1,222.0 131.2,208.6 160.3,204.9" fill="none" stroke="#3248fa" stroke-width="1.0" stroke-opacity="0.24" stroke-linejoin="round"/>
<polyline points="73.1,244.3 102.1,219.5 131.2,204.9 160.3,199.9" fill="none" stroke="#3248fa" stroke-width="1.0" stroke-opacity="0.24" stroke-linejoin="round"/>
<polyline points="73.1,245.5 102.1,225.6 131.2,211.2 160.3,204.1" fill="none" stroke="#3248fa" stroke-width="1.0" stroke-opacity="0.24" stroke-linejoin="round"/>
<polyline points="73.1,242.6 102.1,217.5 131.2,206.3 160.3,196.2" fill="none" stroke="#3248fa" stroke-width="1.0" stroke-opacity="0.24" stroke-linejoin="round"/>
<polyline points="73.1,241.5 102.1,214.7 131.2,192.8 160.3,176.7" fill="none" stroke="#3248fa" stroke-width="1.0" stroke-opacity="0.24" stroke-linejoin="round"/>
<polyline points="73.1,243.6 102.1,220.5 131.2,205.1 160.3,194.3" fill="none" stroke="#3248fa" stroke-width="1.0" stroke-opacity="0.24" stroke-linejoin="round"/>
<polyline points="73.1,247.4 102.1,229.2 131.2,218.4 160.3,215.4" fill="none" stroke="#3248fa" stroke-width="1.0" stroke-opacity="0.24" stroke-linejoin="round"/>
<polyline points="73.1,243.6 102.1,219.3 131.2,202.2 160.3,194.0" fill="none" stroke="#3248fa" stroke-width="1.0" stroke-opacity="0.24" stroke-linejoin="round"/>
<polyline points="73.1,243.3 102.1,222.8 131.2,204.7 160.3,194.6" fill="none" stroke="#3248fa" stroke-width="1.0" stroke-opacity="0.24" stroke-linejoin="round"/>
<polyline points="73.1,245.0 102.1,223.2 131.2,212.8 160.3,203.3" fill="none" stroke="#3248fa" stroke-width="1.0" stroke-opacity="0.24" stroke-linejoin="round"/>
<polyline points="73.1,241.5 102.1,215.7 131.2,197.0 160.3,178.2" fill="none" stroke="#3248fa" stroke-width="1.0" stroke-opacity="0.24" stroke-linejoin="round"/>
<polyline points="73.1,242.6 102.1,222.4 131.2,205.8 160.3,198.1" fill="none" stroke="#3248fa" stroke-width="1.0" stroke-opacity="0.24" stroke-linejoin="round"/>
<polyline points="73.1,245.6 102.1,227.4 131.2,218.4 160.3,214.3" fill="none" stroke="#3248fa" stroke-width="1.0" stroke-opacity="0.24" stroke-linejoin="round"/>
<polyline points="73.1,256.5 102.1,244.0 131.2,234.6 160.3,227.9" fill="none" stroke="#3a4ae8" stroke-width="1" stroke-opacity="0.12" stroke-linejoin="round"/>
<polyline points="73.1,245.4 102.1,229.5 131.2,223.5 160.3,220.9" fill="none" stroke="#3a4ae8" stroke-width="1" stroke-opacity="0.12" stroke-linejoin="round"/>
<circle class="c0" cx="73.1" cy="256.5" r="2.1"/>
<circle class="c0" cx="102.1" cy="244.0" r="2.1"/>
<circle class="c0" cx="131.2" cy="234.6" r="2.1"/>
<circle class="c0" cx="160.3" cy="227.9" r="2.1"/>
<circle class="c0" cx="73.1" cy="245.4" r="2.1"/>
<circle class="c0" cx="102.1" cy="229.5" r="2.1"/>
<circle class="c0" cx="131.2" cy="223.5" r="2.1"/>
<circle class="c0" cx="160.3" cy="220.9" r="2.1"/>
<circle class="c4" cx="73.1" cy="243.2" r="1.9"/>
<circle class="c4" cx="102.1" cy="222.2" r="1.9"/>
<circle class="c5" cx="131.2" cy="206.1" r="1.9"/>
<circle class="c5" cx="160.3" cy="197.4" r="1.9"/>
<circle class="c4" cx="73.1" cy="243.3" r="1.9"/>
<circle class="c4" cx="102.1" cy="221.6" r="1.9"/>
<circle class="c5" cx="131.2" cy="202.9" r="1.9"/>
<circle class="c5" cx="160.3" cy="199.7" r="1.9"/>
<circle class="c4" cx="73.1" cy="245.1" r="1.9"/>
<circle class="c4" cx="102.1" cy="224.0" r="1.9"/>
<circle class="c5" cx="131.2" cy="208.0" r="1.9"/>
<circle class="c5" cx="160.3" cy="206.0" r="1.9"/>
<circle class="c4" cx="73.1" cy="241.5" r="1.9"/>
<circle class="c4" cx="102.1" cy="225.0" r="1.9"/>
<circle class="c5" cx="131.2" cy="208.0" r="1.9"/>
<circle class="c5" cx="160.3" cy="196.5" r="1.9"/>
<circle class="c4" cx="73.1" cy="243.1" r="1.9"/>
<circle class="c4" cx="102.1" cy="221.7" r="1.9"/>
<circle class="c5" cx="131.2" cy="203.7" r="1.9"/>
<circle class="c5" cx="160.3" cy="196.2" r="1.9"/>
<circle class="c4" cx="73.1" cy="242.5" r="1.9"/>
<circle class="c4" cx="102.1" cy="223.8" r="1.9"/>
<circle class="c5" cx="131.2" cy="212.0" r="1.9"/>
<circle class="c5" cx="160.3" cy="206.0" r="1.9"/>
<circle class="c4" cx="73.1" cy="244.5" r="1.9"/>
<circle class="c4" cx="102.1" cy="227.4" r="1.9"/>
<circle class="c5" cx="131.2" cy="210.1" r="1.9"/>
<circle class="c5" cx="160.3" cy="199.2" r="1.9"/>
<circle class="c4" cx="73.1" cy="246.1" r="1.9"/>
<circle class="c4" cx="102.1" cy="225.2" r="1.9"/>
<circle class="c5" cx="131.2" cy="212.5" r="1.9"/>
<circle class="c5" cx="160.3" cy="206.0" r="1.9"/>
<circle class="c4" cx="73.1" cy="247.3" r="1.9"/>
<circle class="c4" cx="102.1" cy="229.0" r="1.9"/>
<circle class="c5" cx="131.2" cy="216.2" r="1.9"/>
<circle class="c5" cx="160.3" cy="212.3" r="1.9"/>
<circle class="c4" cx="73.1" cy="246.6" r="1.9"/>
<circle class="c4" cx="102.1" cy="230.9" r="1.9"/>
<circle class="c5" cx="131.2" cy="218.4" r="1.9"/>
<circle class="c5" cx="160.3" cy="215.4" r="1.9"/>
<circle class="c4" cx="73.1" cy="242.5" r="1.9"/>
<circle class="c4" cx="102.1" cy="222.1" r="1.9"/>
<circle class="c5" cx="131.2" cy="206.1" r="1.9"/>
<circle class="c5" cx="160.3" cy="196.3" r="1.9"/>
<circle class="c4" cx="73.1" cy="243.9" r="1.9"/>
<circle class="c4" cx="102.1" cy="219.6" r="1.9"/>
<circle class="c5" cx="131.2" cy="204.3" r="1.9"/>
<circle class="c5" cx="160.3" cy="200.7" r="1.9"/>
<circle class="c4" cx="73.1" cy="240.8" r="1.9"/>
<circle class="c4" cx="102.1" cy="214.7" r="1.9"/>
<circle class="c5" cx="131.2" cy="192.9" r="1.9"/>
<circle class="c0" cx="160.3" cy="176.7" r="2.1"/>
<circle class="c4" cx="73.1" cy="242.6" r="1.9"/>
<circle class="c4" cx="102.1" cy="219.0" r="1.9"/>
<circle class="c5" cx="131.2" cy="207.1" r="1.9"/>
<circle class="c5" cx="160.3" cy="200.1" r="1.9"/>
<circle class="c4" cx="73.1" cy="244.0" r="1.9"/>
<circle class="c4" cx="102.1" cy="221.8" r="1.9"/>
<circle class="c5" cx="131.2" cy="207.5" r="1.9"/>
<circle class="c5" cx="160.3" cy="190.6" r="1.9"/>
<circle class="c4" cx="73.1" cy="241.3" r="1.9"/>
<circle class="c4" cx="102.1" cy="221.2" r="1.9"/>
<circle class="c5" cx="131.2" cy="203.2" r="1.9"/>
<circle class="c5" cx="160.3" cy="198.3" r="1.9"/>
<circle class="c4" cx="73.1" cy="241.1" r="1.9"/>
<circle class="c4" cx="102.1" cy="221.1" r="1.9"/>
<circle class="c5" cx="131.2" cy="199.4" r="1.9"/>
<circle class="c5" cx="160.3" cy="190.3" r="1.9"/>
<circle class="c4" cx="73.1" cy="246.3" r="1.9"/>
<circle class="c4" cx="102.1" cy="221.0" r="1.9"/>
<circle class="c5" cx="131.2" cy="208.9" r="1.9"/>
<circle class="c5" cx="160.3" cy="204.7" r="1.9"/>
<circle class="c4" cx="73.1" cy="242.9" r="1.9"/>
<circle class="c4" cx="102.1" cy="218.8" r="1.9"/>
<circle class="c5" cx="131.2" cy="207.7" r="1.9"/>
<circle class="c5" cx="160.3" cy="193.0" r="1.9"/>
<circle class="c4" cx="73.1" cy="240.1" r="1.9"/>
<circle class="c4" cx="102.1" cy="217.5" r="1.9"/>
<circle class="c5" cx="131.2" cy="200.6" r="1.9"/>
<circle class="c5" cx="160.3" cy="183.6" r="1.9"/>
<circle class="c4" cx="73.1" cy="243.7" r="1.9"/>
<circle class="c4" cx="102.1" cy="219.9" r="1.9"/>
<circle class="c5" cx="131.2" cy="207.6" r="1.9"/>
<circle class="c5" cx="160.3" cy="208.4" r="1.9"/>
<circle class="c4" cx="73.1" cy="246.6" r="1.9"/>
<circle class="c4" cx="102.1" cy="222.6" r="1.9"/>
<circle class="c5" cx="131.2" cy="209.2" r="1.9"/>
<circle class="c5" cx="160.3" cy="206.7" r="1.9"/>
<circle class="c4" cx="73.1" cy="243.2" r="1.9"/>
<circle class="c4" cx="102.1" cy="222.4" r="1.9"/>
<circle class="c5" cx="131.2" cy="204.6" r="1.9"/>
<circle class="c5" cx="160.3" cy="201.2" r="1.9"/>
<circle class="c4" cx="73.1" cy="240.8" r="1.9"/>
<circle class="c4" cx="102.1" cy="216.3" r="1.9"/>
<circle class="c5" cx="131.2" cy="203.1" r="1.9"/>
<circle class="c5" cx="160.3" cy="188.2" r="1.9"/>
<circle class="c4" cx="73.1" cy="247.4" r="1.9"/>
<circle class="c4" cx="102.1" cy="230.9" r="1.9"/>
<circle class="c5" cx="131.2" cy="216.2" r="1.9"/>
<circle class="c5" cx="160.3" cy="215.4" r="1.9"/>
<circle class="c4" cx="73.1" cy="244.2" r="1.9"/>
<circle class="c4" cx="102.1" cy="222.6" r="1.9"/>
<circle class="c5" cx="131.2" cy="209.1" r="1.9"/>
<circle class="c5" cx="160.3" cy="200.1" r="1.9"/>
<circle class="c4" cx="73.1" cy="241.0" r="1.9"/>
<circle class="c4" cx="102.1" cy="215.3" r="1.9"/>
<circle class="c5" cx="131.2" cy="194.7" r="1.9"/>
<circle class="c5" cx="160.3" cy="185.3" r="1.9"/>
<circle class="c4" cx="73.1" cy="246.7" r="1.9"/>
<circle class="c4" cx="102.1" cy="225.3" r="1.9"/>
<circle class="c5" cx="131.2" cy="218.4" r="1.9"/>
<circle class="c5" cx="160.3" cy="214.6" r="1.9"/>
<circle class="c4" cx="73.1" cy="241.5" r="1.9"/>
<circle class="c4" cx="102.1" cy="218.9" r="1.9"/>
<circle class="c5" cx="131.2" cy="199.8" r="1.9"/>
<circle class="c5" cx="160.3" cy="191.1" r="1.9"/>
<circle class="c4" cx="73.1" cy="247.4" r="1.9"/>
<circle class="c4" cx="102.1" cy="227.6" r="1.9"/>
<circle class="c5" cx="131.2" cy="212.4" r="1.9"/>
<circle class="c5" cx="160.3" cy="213.7" r="1.9"/>
<circle class="c4" cx="73.1" cy="246.3" r="1.9"/>
<circle class="c4" cx="102.1" cy="228.0" r="1.9"/>
<circle class="c5" cx="131.2" cy="213.2" r="1.9"/>
<circle class="c5" cx="160.3" cy="213.5" r="1.9"/>
<circle class="c4" cx="73.1" cy="245.8" r="1.9"/>
<circle class="c4" cx="102.1" cy="220.7" r="1.9"/>
<circle class="c5" cx="131.2" cy="207.0" r="1.9"/>
<circle class="c5" cx="160.3" cy="204.8" r="1.9"/>
<circle class="c4" cx="73.1" cy="243.1" r="1.9"/>
<circle class="c4" cx="102.1" cy="223.3" r="1.9"/>
<circle class="c5" cx="131.2" cy="205.4" r="1.9"/>
<circle class="c5" cx="160.3" cy="193.2" r="1.9"/>
<circle class="c4" cx="73.1" cy="244.0" r="1.9"/>
<circle class="c4" cx="102.1" cy="223.0" r="1.9"/>
<circle class="c5" cx="131.2" cy="208.8" r="1.9"/>
<circle class="c5" cx="160.3" cy="203.9" r="1.9"/>
<circle class="c4" cx="73.1" cy="241.1" r="1.9"/>
<circle class="c4" cx="102.1" cy="217.1" r="1.9"/>
<circle class="c5" cx="131.2" cy="204.7" r="1.9"/>
<circle class="c5" cx="160.3" cy="185.4" r="1.9"/>
<circle class="c4" cx="73.1" cy="242.1" r="1.9"/>
<circle class="c4" cx="102.1" cy="218.5" r="1.9"/>
<circle class="c5" cx="131.2" cy="195.3" r="1.9"/>
<circle class="c5" cx="160.3" cy="195.5" r="1.9"/>
<circle class="c4" cx="73.1" cy="240.8" r="1.9"/>
<circle class="c4" cx="102.1" cy="222.2" r="1.9"/>
<circle class="c5" cx="131.2" cy="203.2" r="1.9"/>
<circle class="c5" cx="160.3" cy="189.6" r="1.9"/>
<circle class="c4" cx="73.1" cy="243.7" r="1.9"/>
<circle class="c4" cx="102.1" cy="221.5" r="1.9"/>
<circle class="c5" cx="131.2" cy="210.5" r="1.9"/>
<circle class="c5" cx="160.3" cy="202.3" r="1.9"/>
<circle class="c4" cx="73.1" cy="242.7" r="1.9"/>
<circle class="c4" cx="102.1" cy="221.5" r="1.9"/>
<circle class="c5" cx="131.2" cy="206.4" r="1.9"/>
<circle class="c5" cx="160.3" cy="202.0" r="1.9"/>
<circle class="c4" cx="73.1" cy="243.7" r="1.9"/>
<circle class="c4" cx="102.1" cy="223.6" r="1.9"/>
<circle class="c5" cx="131.2" cy="211.8" r="1.9"/>
<circle class="c5" cx="160.3" cy="207.3" r="1.9"/>
<circle class="c4" cx="73.1" cy="239.8" r="1.9"/>
<circle class="c4" cx="102.1" cy="214.7" r="1.9"/>
<circle class="c5" cx="131.2" cy="198.4" r="1.9"/>
<circle class="c0" cx="160.3" cy="174.9" r="2.1"/>
<circle class="c4" cx="73.1" cy="241.5" r="1.9"/>
<circle class="c4" cx="102.1" cy="220.1" r="1.9"/>
<circle class="c5" cx="131.2" cy="205.0" r="1.9"/>
<circle class="c5" cx="160.3" cy="194.6" r="1.9"/>
<circle class="c4" cx="73.1" cy="246.3" r="1.9"/>
<circle class="c4" cx="102.1" cy="228.8" r="1.9"/>
<circle class="c5" cx="131.2" cy="218.4" r="1.9"/>
<circle class="c5" cx="160.3" cy="213.7" r="1.9"/>
<circle class="c4" cx="73.1" cy="242.4" r="1.9"/>
<circle class="c4" cx="102.1" cy="217.1" r="1.9"/>
<circle class="c5" cx="131.2" cy="196.3" r="1.9"/>
<circle class="c5" cx="160.3" cy="183.8" r="1.9"/>
<circle class="c4" cx="73.1" cy="245.7" r="1.9"/>
<circle class="c4" cx="102.1" cy="220.7" r="1.9"/>
<circle class="c5" cx="131.2" cy="207.5" r="1.9"/>
<circle class="c5" cx="160.3" cy="208.9" r="1.9"/>
<circle class="c4" cx="73.1" cy="244.6" r="1.9"/>
<circle class="c4" cx="102.1" cy="225.7" r="1.9"/>
<circle class="c5" cx="131.2" cy="211.3" r="1.9"/>
<circle class="c5" cx="160.3" cy="210.1" r="1.9"/>
<circle class="c4" cx="73.1" cy="245.2" r="1.9"/>
<circle class="c4" cx="102.1" cy="228.8" r="1.9"/>
<circle class="c5" cx="131.2" cy="214.5" r="1.9"/>
<circle class="c5" cx="160.3" cy="209.0" r="1.9"/>
<circle class="c4" cx="73.1" cy="243.9" r="1.9"/>
<circle class="c4" cx="102.1" cy="220.8" r="1.9"/>
<circle class="c5" cx="131.2" cy="203.5" r="1.9"/>
<circle class="c5" cx="160.3" cy="194.7" r="1.9"/>
<circle class="c4" cx="73.1" cy="242.7" r="1.9"/>
<circle class="c4" cx="102.1" cy="220.7" r="1.9"/>
<circle class="c5" cx="131.2" cy="202.0" r="1.9"/>
<circle class="c5" cx="160.3" cy="194.9" r="1.9"/>
<circle class="c4" cx="73.1" cy="246.1" r="1.9"/>
<circle class="c4" cx="102.1" cy="225.4" r="1.9"/>
<circle class="c5" cx="131.2" cy="212.8" r="1.9"/>
<circle class="c5" cx="160.3" cy="207.8" r="1.9"/>
<circle class="c4" cx="73.1" cy="243.9" r="1.9"/>
<circle class="c4" cx="102.1" cy="222.7" r="1.9"/>
<circle class="c5" cx="131.2" cy="210.6" r="1.9"/>
<circle class="c5" cx="160.3" cy="199.3" r="1.9"/>
<circle class="c4" cx="73.1" cy="241.8" r="1.9"/>
<circle class="c4" cx="102.1" cy="219.0" r="1.9"/>
<circle class="c5" cx="131.2" cy="200.4" r="1.9"/>
<circle class="c5" cx="160.3" cy="194.9" r="1.9"/>
<circle class="c4" cx="73.1" cy="247.2" r="1.9"/>
<circle class="c4" cx="102.1" cy="230.6" r="1.9"/>
<circle class="c5" cx="131.2" cy="217.1" r="1.9"/>
<circle class="c5" cx="160.3" cy="215.4" r="1.9"/>
<circle class="c4" cx="73.1" cy="247.4" r="1.9"/>
<circle class="c4" cx="102.1" cy="227.9" r="1.9"/>
<circle class="c5" cx="131.2" cy="218.4" r="1.9"/>
<circle class="c5" cx="160.3" cy="215.4" r="1.9"/>
<circle class="c4" cx="73.1" cy="244.8" r="1.9"/>
<circle class="c4" cx="102.1" cy="224.4" r="1.9"/>
<circle class="c5" cx="131.2" cy="211.7" r="1.9"/>
<circle class="c5" cx="160.3" cy="202.3" r="1.9"/>
<circle class="c4" cx="73.1" cy="242.9" r="1.9"/>
<circle class="c4" cx="102.1" cy="219.1" r="1.9"/>
<circle class="c5" cx="131.2" cy="199.6" r="1.9"/>
<circle class="c5" cx="160.3" cy="190.9" r="1.9"/>
<circle class="c4" cx="73.1" cy="243.4" r="1.9"/>
<circle class="c4" cx="102.1" cy="219.1" r="1.9"/>
<circle class="c5" cx="131.2" cy="199.9" r="1.9"/>
<circle class="c5" cx="160.3" cy="192.7" r="1.9"/>
<circle class="c4" cx="73.1" cy="241.6" r="1.9"/>
<circle class="c4" cx="102.1" cy="217.3" r="1.9"/>
<circle class="c5" cx="131.2" cy="201.8" r="1.9"/>
<circle class="c5" cx="160.3" cy="181.7" r="1.9"/>
<circle class="c4" cx="73.1" cy="242.2" r="1.9"/>
<circle class="c4" cx="102.1" cy="217.9" r="1.9"/>
<circle class="c5" cx="131.2" cy="194.2" r="1.9"/>
<circle class="c5" cx="160.3" cy="190.9" r="1.9"/>
<circle class="c4" cx="73.1" cy="241.6" r="1.9"/>
<circle class="c4" cx="102.1" cy="219.4" r="1.9"/>
<circle class="c5" cx="131.2" cy="205.2" r="1.9"/>
<circle class="c5" cx="160.3" cy="192.2" r="1.9"/>
<circle class="c4" cx="73.1" cy="242.3" r="1.9"/>
<circle class="c4" cx="102.1" cy="220.0" r="1.9"/>
<circle class="c5" cx="131.2" cy="205.5" r="1.9"/>
<circle class="c5" cx="160.3" cy="194.5" r="1.9"/>
<circle class="c4" cx="73.1" cy="242.9" r="1.9"/>
<circle class="c4" cx="102.1" cy="220.5" r="1.9"/>
<circle class="c5" cx="131.2" cy="205.0" r="1.9"/>
<circle class="c5" cx="160.3" cy="193.4" r="1.9"/>
<circle class="c4" cx="73.1" cy="246.4" r="1.9"/>
<circle class="c4" cx="102.1" cy="226.2" r="1.9"/>
<circle class="c5" cx="131.2" cy="217.3" r="1.9"/>
<circle class="c5" cx="160.3" cy="212.1" r="1.9"/>
<circle class="c4" cx="73.1" cy="247.4" r="1.9"/>
<circle class="c4" cx="102.1" cy="228.7" r="1.9"/>
<circle class="c5" cx="131.2" cy="218.1" r="1.9"/>
<circle class="c5" cx="160.3" cy="215.4" r="1.9"/>
<circle class="c4" cx="73.1" cy="245.9" r="1.9"/>
<circle class="c4" cx="102.1" cy="220.5" r="1.9"/>
<circle class="c5" cx="131.2" cy="207.8" r="1.9"/>
<circle class="c5" cx="160.3" cy="199.0" r="1.9"/>
<circle class="c4" cx="73.1" cy="245.7" r="1.9"/>
<circle class="c4" cx="102.1" cy="228.3" r="1.9"/>
<circle class="c5" cx="131.2" cy="211.0" r="1.9"/>
<circle class="c5" cx="160.3" cy="205.5" r="1.9"/>
<circle class="c4" cx="73.1" cy="247.3" r="1.9"/>
<circle class="c4" cx="102.1" cy="228.2" r="1.9"/>
<circle class="c5" cx="131.2" cy="218.4" r="1.9"/>
<circle class="c5" cx="160.3" cy="215.4" r="1.9"/>
<circle class="c4" cx="73.1" cy="246.5" r="1.9"/>
<circle class="c4" cx="102.1" cy="228.4" r="1.9"/>
<circle class="c5" cx="131.2" cy="213.8" r="1.9"/>
<circle class="c5" cx="160.3" cy="209.7" r="1.9"/>
<circle class="c4" cx="73.1" cy="242.3" r="1.9"/>
<circle class="c4" cx="102.1" cy="217.9" r="1.9"/>
<circle class="c5" cx="131.2" cy="201.1" r="1.9"/>
<circle class="c5" cx="160.3" cy="200.0" r="1.9"/>
<circle class="c4" cx="73.1" cy="246.0" r="1.9"/>
<circle class="c4" cx="102.1" cy="225.9" r="1.9"/>
<circle class="c5" cx="131.2" cy="210.8" r="1.9"/>
<circle class="c5" cx="160.3" cy="205.5" r="1.9"/>
<circle class="c4" cx="73.1" cy="244.8" r="1.9"/>
<circle class="c4" cx="102.1" cy="222.6" r="1.9"/>
<circle class="c5" cx="131.2" cy="204.8" r="1.9"/>
<circle class="c5" cx="160.3" cy="197.2" r="1.9"/>
<circle class="c4" cx="73.1" cy="244.6" r="1.9"/>
<circle class="c4" cx="102.1" cy="224.7" r="1.9"/>
<circle class="c5" cx="131.2" cy="207.8" r="1.9"/>
<circle class="c5" cx="160.3" cy="202.4" r="1.9"/>
<circle class="c4" cx="73.1" cy="244.9" r="1.9"/>
<circle class="c4" cx="102.1" cy="223.0" r="1.9"/>
<circle class="c5" cx="131.2" cy="214.6" r="1.9"/>
<circle class="c5" cx="160.3" cy="205.3" r="1.9"/>
<circle class="c4" cx="73.1" cy="245.5" r="1.9"/>
<circle class="c4" cx="102.1" cy="222.0" r="1.9"/>
<circle class="c5" cx="131.2" cy="207.1" r="1.9"/>
<circle class="c5" cx="160.3" cy="205.7" r="1.9"/>
<circle class="c4" cx="73.1" cy="244.8" r="1.9"/>
<circle class="c4" cx="102.1" cy="222.7" r="1.9"/>
<circle class="c5" cx="131.2" cy="207.7" r="1.9"/>
<circle class="c5" cx="160.3" cy="203.3" r="1.9"/>
<circle class="c4" cx="73.1" cy="245.6" r="1.9"/>
<circle class="c4" cx="102.1" cy="225.6" r="1.9"/>
<circle class="c5" cx="131.2" cy="210.9" r="1.9"/>
<circle class="c5" cx="160.3" cy="207.5" r="1.9"/>
<circle class="c4" cx="73.1" cy="246.6" r="1.9"/>
<circle class="c4" cx="102.1" cy="225.6" r="1.9"/>
<circle class="c5" cx="131.2" cy="213.6" r="1.9"/>
<circle class="c5" cx="160.3" cy="211.6" r="1.9"/>
<circle class="c4" cx="73.1" cy="244.7" r="1.9"/>
<circle class="c4" cx="102.1" cy="222.7" r="1.9"/>
<circle class="c5" cx="131.2" cy="207.1" r="1.9"/>
<circle class="c5" cx="160.3" cy="203.5" r="1.9"/>
<circle class="c4" cx="73.1" cy="240.4" r="1.9"/>
<circle class="c4" cx="102.1" cy="214.7" r="1.9"/>
<circle class="c5" cx="131.2" cy="193.6" r="1.9"/>
<circle class="c0" cx="160.3" cy="175.6" r="2.1"/>
<circle class="c4" cx="73.1" cy="247.4" r="1.9"/>
<circle class="c4" cx="102.1" cy="229.9" r="1.9"/>
<circle class="c5" cx="131.2" cy="218.4" r="1.9"/>
<circle class="c5" cx="160.3" cy="212.3" r="1.9"/>
<circle class="c4" cx="73.1" cy="242.2" r="1.9"/>
<circle class="c4" cx="102.1" cy="220.2" r="1.9"/>
<circle class="c5" cx="131.2" cy="203.5" r="1.9"/>
<circle class="c5" cx="160.3" cy="196.1" r="1.9"/>
<circle class="c4" cx="73.1" cy="243.8" r="1.9"/>
<circle class="c4" cx="102.1" cy="224.7" r="1.9"/>
<circle class="c5" cx="131.2" cy="205.8" r="1.9"/>
<circle class="c5" cx="160.3" cy="206.1" r="1.9"/>
<circle class="c4" cx="73.1" cy="241.5" r="1.9"/>
<circle class="c4" cx="102.1" cy="221.9" r="1.9"/>
<circle class="c5" cx="131.2" cy="206.1" r="1.9"/>
<circle class="c5" cx="160.3" cy="194.3" r="1.9"/>
<circle class="c4" cx="73.1" cy="244.8" r="1.9"/>
<circle class="c4" cx="102.1" cy="222.0" r="1.9"/>
<circle class="c5" cx="131.2" cy="206.1" r="1.9"/>
<circle class="c5" cx="160.3" cy="198.0" r="1.9"/>
<circle class="c4" cx="73.1" cy="243.6" r="1.9"/>
<circle class="c4" cx="102.1" cy="222.7" r="1.9"/>
<circle class="c5" cx="131.2" cy="212.1" r="1.9"/>
<circle class="c5" cx="160.3" cy="206.9" r="1.9"/>
<circle class="c4" cx="73.1" cy="243.3" r="1.9"/>
<circle class="c4" cx="102.1" cy="225.0" r="1.9"/>
<circle class="c5" cx="131.2" cy="208.6" r="1.9"/>
<circle class="c5" cx="160.3" cy="206.6" r="1.9"/>
<circle class="c4" cx="73.1" cy="244.5" r="1.9"/>
<circle class="c4" cx="102.1" cy="222.9" r="1.9"/>
<circle class="c5" cx="131.2" cy="211.8" r="1.9"/>
<circle class="c5" cx="160.3" cy="209.7" r="1.9"/>
<circle class="c4" cx="73.1" cy="242.7" r="1.9"/>
<circle class="c4" cx="102.1" cy="219.1" r="1.9"/>
<circle class="c5" cx="131.2" cy="199.3" r="1.9"/>
<circle class="c5" cx="160.3" cy="189.3" r="1.9"/>
<circle class="c4" cx="73.1" cy="242.6" r="1.9"/>
<circle class="c4" cx="102.1" cy="224.3" r="1.9"/>
<circle class="c5" cx="131.2" cy="208.8" r="1.9"/>
<circle class="c5" cx="160.3" cy="208.0" r="1.9"/>
<circle class="c4" cx="73.1" cy="245.9" r="1.9"/>
<circle class="c4" cx="102.1" cy="219.9" r="1.9"/>
<circle class="c5" cx="131.2" cy="204.7" r="1.9"/>
<circle class="c5" cx="160.3" cy="205.8" r="1.9"/>
<circle class="c4" cx="73.1" cy="247.4" r="1.9"/>
<circle class="c4" cx="102.1" cy="226.0" r="1.9"/>
<circle class="c5" cx="131.2" cy="217.6" r="1.9"/>
<circle class="c5" cx="160.3" cy="214.8" r="1.9"/>
<circle class="c4" cx="73.1" cy="244.7" r="1.9"/>
<circle class="c4" cx="102.1" cy="225.2" r="1.9"/>
<circle class="c5" cx="131.2" cy="209.4" r="1.9"/>
<circle class="c5" cx="160.3" cy="209.1" r="1.9"/>
<circle class="c4" cx="73.1" cy="243.8" r="1.9"/>
<circle class="c4" cx="102.1" cy="222.0" r="1.9"/>
<circle class="c5" cx="131.2" cy="208.6" r="1.9"/>
<circle class="c5" cx="160.3" cy="204.9" r="1.9"/>
<circle class="c4" cx="73.1" cy="244.3" r="1.9"/>
<circle class="c4" cx="102.1" cy="219.5" r="1.9"/>
<circle class="c5" cx="131.2" cy="204.9" r="1.9"/>
<circle class="c5" cx="160.3" cy="199.9" r="1.9"/>
<circle class="c4" cx="73.1" cy="245.5" r="1.9"/>
<circle class="c4" cx="102.1" cy="225.6" r="1.9"/>
<circle class="c5" cx="131.2" cy="211.2" r="1.9"/>
<circle class="c5" cx="160.3" cy="204.1" r="1.9"/>
<circle class="c4" cx="73.1" cy="242.6" r="1.9"/>
<circle class="c4" cx="102.1" cy="217.5" r="1.9"/>
<circle class="c5" cx="131.2" cy="206.3" r="1.9"/>
<circle class="c5" cx="160.3" cy="196.2" r="1.9"/>
<circle class="c4" cx="73.1" cy="241.5" r="1.9"/>
<circle class="c4" cx="102.1" cy="214.7" r="1.9"/>
<circle class="c5" cx="131.2" cy="192.8" r="1.9"/>
<circle class="c0" cx="160.3" cy="176.7" r="2.1"/>
<circle class="c4" cx="73.1" cy="243.6" r="1.9"/>
<circle class="c4" cx="102.1" cy="220.5" r="1.9"/>
<circle class="c5" cx="131.2" cy="205.1" r="1.9"/>
<circle class="c5" cx="160.3" cy="194.3" r="1.9"/>
<circle class="c4" cx="73.1" cy="247.4" r="1.9"/>
<circle class="c4" cx="102.1" cy="229.2" r="1.9"/>
<circle class="c5" cx="131.2" cy="218.4" r="1.9"/>
<circle class="c5" cx="160.3" cy="215.4" r="1.9"/>
<circle class="c4" cx="73.1" cy="243.6" r="1.9"/>
<circle class="c4" cx="102.1" cy="219.3" r="1.9"/>
<circle class="c5" cx="131.2" cy="202.2" r="1.9"/>
<circle class="c5" cx="160.3" cy="194.0" r="1.9"/>
<circle class="c4" cx="73.1" cy="243.3" r="1.9"/>
<circle class="c4" cx="102.1" cy="222.8" r="1.9"/>
<circle class="c5" cx="131.2" cy="204.7" r="1.9"/>
<circle class="c5" cx="160.3" cy="194.6" r="1.9"/>
<circle class="c4" cx="73.1" cy="245.0" r="1.9"/>
<circle class="c4" cx="102.1" cy="223.2" r="1.9"/>
<circle class="c5" cx="131.2" cy="212.8" r="1.9"/>
<circle class="c5" cx="160.3" cy="203.3" r="1.9"/>
<circle class="c4" cx="73.1" cy="241.5" r="1.9"/>
<circle class="c4" cx="102.1" cy="215.7" r="1.9"/>
<circle class="c5" cx="131.2" cy="197.0" r="1.9"/>
<circle class="c0" cx="160.3" cy="178.2" r="2.1"/>
<circle class="c4" cx="73.1" cy="242.6" r="1.9"/>
<circle class="c4" cx="102.1" cy="222.4" r="1.9"/>
<circle class="c5" cx="131.2" cy="205.8" r="1.9"/>
<circle class="c5" cx="160.3" cy="198.1" r="1.9"/>
<circle class="c4" cx="73.1" cy="245.6" r="1.9"/>
<circle class="c4" cx="102.1" cy="227.4" r="1.9"/>
<circle class="c5" cx="131.2" cy="218.4" r="1.9"/>
<circle class="c5" cx="160.3" cy="214.3" r="1.9"/>
</g>
<g clip-path="url(#ca2)">
<polyline points="73.1,361.6 102.1,345.7 131.2,324.9 160.3,307.4" fill="none" stroke="#95953c" stroke-width="1" stroke-opacity="0.2" stroke-linejoin="round"/>
<polyline points="73.1,357.4 102.1,341.1 131.2,323.0 160.3,304.8" fill="none" stroke="#95953c" stroke-width="1" stroke-opacity="0.2" stroke-linejoin="round"/>
<polyline points="73.1,359.8 102.1,342.5 131.2,332.2 160.3,313.8" fill="none" stroke="#95953c" stroke-width="1" stroke-opacity="0.2" stroke-linejoin="round"/>
<polyline points="73.1,361.0 102.1,339.5 131.2,323.0 160.3,308.7" fill="none" stroke="#95953c" stroke-width="1" stroke-opacity="0.2" stroke-linejoin="round"/>
<polyline points="73.1,361.5 102.1,344.9 131.2,323.2 160.3,305.5" fill="none" stroke="#95953c" stroke-width="1" stroke-opacity="0.2" stroke-linejoin="round"/>
<polyline points="73.1,361.6 102.1,346.4 131.2,324.9 160.3,308.2" fill="none" stroke="#95953c" stroke-width="1" stroke-opacity="0.2" stroke-linejoin="round"/>
<polyline points="73.1,360.2 102.1,345.2 131.2,323.7 160.3,311.8" fill="none" stroke="#95953c" stroke-width="1" stroke-opacity="0.2" stroke-linejoin="round"/>
<polyline points="73.1,360.6 102.1,343.2 131.2,318.3 160.3,301.8" fill="none" stroke="#95953c" stroke-width="1" stroke-opacity="0.2" stroke-linejoin="round"/>
<polyline points="73.1,357.7 102.1,343.1 131.2,329.3 160.3,315.4" fill="none" stroke="#95953c" stroke-width="1" stroke-opacity="0.2" stroke-linejoin="round"/>
<polyline points="73.1,357.3 102.1,341.3 131.2,328.2 160.3,316.2" fill="none" stroke="#95953c" stroke-width="1" stroke-opacity="0.2" stroke-linejoin="round"/>
<polyline points="73.1,359.6 102.1,341.5 131.2,326.4 160.3,312.5" fill="none" stroke="#95953c" stroke-width="1" stroke-opacity="0.2" stroke-linejoin="round"/>
<polyline points="73.1,358.8 102.1,339.5 131.2,329.4 160.3,317.3" fill="none" stroke="#95953c" stroke-width="1" stroke-opacity="0.2" stroke-linejoin="round"/>
<polyline points="73.1,360.4 102.1,343.6 131.2,322.5 160.3,309.0" fill="none" stroke="#95953c" stroke-width="1" stroke-opacity="0.2" stroke-linejoin="round"/>
<polyline points="73.1,358.1 102.1,341.0 131.2,325.2 160.3,311.6" fill="none" stroke="#95953c" stroke-width="1" stroke-opacity="0.2" stroke-linejoin="round"/>
<polyline points="73.1,357.2 102.1,344.5 131.2,320.4 160.3,306.6" fill="none" stroke="#95953c" stroke-width="1" stroke-opacity="0.2" stroke-linejoin="round"/>
<polyline points="73.1,361.0 102.1,340.8 131.2,328.3 160.3,308.5" fill="none" stroke="#95953c" stroke-width="1" stroke-opacity="0.2" stroke-linejoin="round"/>
<polyline points="73.1,359.6 102.1,345.5 131.2,329.4 160.3,314.1" fill="none" stroke="#95953c" stroke-width="1" stroke-opacity="0.2" stroke-linejoin="round"/>
<polyline points="73.1,358.8 102.1,339.3 131.2,330.6 160.3,315.5" fill="none" stroke="#95953c" stroke-width="1" stroke-opacity="0.2" stroke-linejoin="round"/>
<polyline points="73.1,361.1 102.1,339.1 131.2,330.7 160.3,318.4" fill="none" stroke="#95953c" stroke-width="1" stroke-opacity="0.2" stroke-linejoin="round"/>
<polyline points="73.1,361.8 102.1,343.8 131.2,319.2 160.3,301.8" fill="none" stroke="#95953c" stroke-width="1" stroke-opacity="0.2" stroke-linejoin="round"/>
<polyline points="73.1,358.4 102.1,338.9 131.2,318.7 160.3,304.1" fill="none" stroke="#95953c" stroke-width="1" stroke-opacity="0.2" stroke-linejoin="round"/>
<polyline points="73.1,361.2 102.1,339.4 131.2,321.5 160.3,309.4" fill="none" stroke="#95953c" stroke-width="1" stroke-opacity="0.2" stroke-linejoin="round"/>
<polyline points="73.1,358.8 102.1,343.9 131.2,327.1 160.3,312.6" fill="none" stroke="#95953c" stroke-width="1" stroke-opacity="0.2" stroke-linejoin="round"/>
<polyline points="73.1,361.3 102.1,346.9 131.2,328.6 160.3,313.8" fill="none" stroke="#95953c" stroke-width="1" stroke-opacity="0.2" stroke-linejoin="round"/>
<polyline points="73.1,357.3 102.1,346.0 131.2,318.2 160.3,304.7" fill="none" stroke="#95953c" stroke-width="1" stroke-opacity="0.2" stroke-linejoin="round"/>
<polyline points="73.1,360.3 102.1,340.3 131.2,320.4 160.3,304.9" fill="none" stroke="#95953c" stroke-width="1" stroke-opacity="0.2" stroke-linejoin="round"/>
<polyline points="73.1,361.9 102.1,343.1 131.2,327.2 160.3,307.6" fill="none" stroke="#95953c" stroke-width="1" stroke-opacity="0.2" stroke-linejoin="round"/>
<polyline points="73.1,361.2 102.1,344.0 131.2,319.2 160.3,307.2" fill="none" stroke="#95953c" stroke-width="1" stroke-opacity="0.2" stroke-linejoin="round"/>
<polyline points="73.1,360.1 102.1,340.4 131.2,321.2 160.3,309.1" fill="none" stroke="#95953c" stroke-width="1" stroke-opacity="0.2" stroke-linejoin="round"/>
<polyline points="73.1,362.0 102.1,346.5 131.2,318.9 160.3,304.9" fill="none" stroke="#95953c" stroke-width="1" stroke-opacity="0.2" stroke-linejoin="round"/>
<polyline points="73.1,370.9 102.1,356.1 131.2,344.7 160.3,341.2" fill="none" stroke="#95953c" stroke-width="1" stroke-opacity="0.2" stroke-linejoin="round"/>
<polyline points="73.1,370.9 102.1,359.9 131.2,344.0 160.3,337.9" fill="none" stroke="#95953c" stroke-width="1" stroke-opacity="0.2" stroke-linejoin="round"/>
<polyline points="73.1,370.9 102.1,360.0 131.2,346.6 160.3,343.4" fill="none" stroke="#95953c" stroke-width="1" stroke-opacity="0.2" stroke-linejoin="round"/>
<polyline points="73.1,370.9 102.1,359.9 131.2,354.0 160.3,346.4" fill="none" stroke="#95953c" stroke-width="1" stroke-opacity="0.2" stroke-linejoin="round"/>
<polyline points="73.1,370.9 102.1,354.7 131.2,347.4 160.3,337.9" fill="none" stroke="#95953c" stroke-width="1" stroke-opacity="0.2" stroke-linejoin="round"/>
<polyline points="73.1,370.9 102.1,361.9 131.2,351.6 160.3,346.8" fill="none" stroke="#95953c" stroke-width="1" stroke-opacity="0.2" stroke-linejoin="round"/>
<polyline points="73.1,370.9 102.1,354.4 131.2,344.1 160.3,340.2" fill="none" stroke="#95953c" stroke-width="1" stroke-opacity="0.2" stroke-linejoin="round"/>
<polyline points="73.1,370.9 102.1,360.1 131.2,349.6 160.3,344.6" fill="none" stroke="#95953c" stroke-width="1" stroke-opacity="0.2" stroke-linejoin="round"/>
<polyline points="73.1,370.9 102.1,354.6 131.2,352.1 160.3,344.0" fill="none" stroke="#95953c" stroke-width="1" stroke-opacity="0.2" stroke-linejoin="round"/>
<polyline points="73.1,370.9 102.1,356.2 131.2,345.5 160.3,337.9" fill="none" stroke="#95953c" stroke-width="1" stroke-opacity="0.2" stroke-linejoin="round"/>
<polyline points="73.1,358.8 102.1,343.9 131.2,327.1 160.3,307.5" fill="none" stroke="#95953c" stroke-width="1.3" stroke-opacity="0.55" stroke-linejoin="round"/>
<polyline points="73.1,359.8 102.1,340.6 131.2,322.0 160.3,310.2" fill="none" stroke="#95953c" stroke-width="1.3" stroke-opacity="0.55" stroke-linejoin="round"/>
<polyline points="73.1,370.9 102.1,356.7 131.2,347.3 160.3,346.6" fill="none" stroke="#95953c" stroke-width="1.3" stroke-opacity="0.55" stroke-linejoin="round"/>
<polyline points="73.1,359.4 102.1,341.9 131.2,323.7 160.3,302.5" fill="none" stroke="#95953c" stroke-width="2.5" stroke-opacity="1" stroke-linejoin="round"/>
<polyline points="73.1,370.9 102.1,360.8 131.2,349.3 160.3,338.2" fill="none" stroke="#95953c" stroke-width="2.5" stroke-opacity="1" stroke-linejoin="round"/>
<polyline points="73.1,370.9 102.1,359.8 131.2,349.3 160.3,348.3" fill="none" stroke="#95953c" stroke-width="2.5" stroke-opacity="1" stroke-linejoin="round"/>
<circle class="c6" cx="73.1" cy="361.6" r="2.1"/>
<circle class="c6" cx="102.1" cy="345.7" r="2.1"/>
<circle class="c7" cx="131.2" cy="324.9" r="2.1"/>
<circle class="c6" cx="160.3" cy="307.4" r="2.1"/>
<circle class="c6" cx="73.1" cy="357.4" r="2.1"/>
<circle class="c6" cx="102.1" cy="341.1" r="2.1"/>
<circle class="c6" cx="131.2" cy="323.0" r="2.1"/>
<circle class="c6" cx="160.3" cy="304.8" r="2.1"/>
<circle class="c6" cx="73.1" cy="359.8" r="2.1"/>
<circle class="c6" cx="102.1" cy="342.5" r="2.1"/>
<circle class="c7" cx="131.2" cy="332.2" r="2.1"/>
<circle class="c6" cx="160.3" cy="313.8" r="2.1"/>
<circle class="c6" cx="73.1" cy="361.0" r="2.1"/>
<circle class="c6" cx="102.1" cy="339.5" r="2.1"/>
<circle class="c6" cx="131.2" cy="323.0" r="2.1"/>
<circle class="c7" cx="160.3" cy="308.7" r="2.1"/>
<circle class="c6" cx="73.1" cy="361.5" r="2.1"/>
<circle class="c6" cx="102.1" cy="344.9" r="2.1"/>
<circle class="c6" cx="131.2" cy="323.2" r="2.1"/>
<circle class="c6" cx="160.3" cy="305.5" r="2.1"/>
<circle class="c6" cx="73.1" cy="361.6" r="2.1"/>
<circle class="c6" cx="102.1" cy="346.4" r="2.1"/>
<circle class="c6" cx="131.2" cy="324.9" r="2.1"/>
<circle class="c7" cx="160.3" cy="308.2" r="2.1"/>
<circle class="c6" cx="73.1" cy="360.2" r="2.1"/>
<circle class="c6" cx="102.1" cy="345.2" r="2.1"/>
<circle class="c6" cx="131.2" cy="323.7" r="2.1"/>
<circle class="c7" cx="160.3" cy="311.8" r="2.1"/>
<circle class="c6" cx="73.1" cy="360.6" r="2.1"/>
<circle class="c6" cx="102.1" cy="343.2" r="2.1"/>
<circle class="c7" cx="131.2" cy="318.3" r="2.1"/>
<circle class="c7" cx="160.3" cy="301.8" r="2.1"/>
<circle class="c6" cx="73.1" cy="357.7" r="2.1"/>
<circle class="c6" cx="102.1" cy="343.1" r="2.1"/>
<circle class="c6" cx="131.2" cy="329.3" r="2.1"/>
<circle class="c6" cx="160.3" cy="315.4" r="2.1"/>
<circle class="c6" cx="73.1" cy="357.3" r="2.1"/>
<circle class="c6" cx="102.1" cy="341.3" r="2.1"/>
<circle class="c6" cx="131.2" cy="328.2" r="2.1"/>
<circle class="c7" cx="160.3" cy="316.2" r="2.1"/>
<circle class="c6" cx="73.1" cy="359.6" r="2.1"/>
<circle class="c6" cx="102.1" cy="341.5" r="2.1"/>
<circle class="c7" cx="131.2" cy="326.4" r="2.1"/>
<circle class="c7" cx="160.3" cy="312.5" r="2.1"/>
<circle class="c6" cx="73.1" cy="358.8" r="2.1"/>
<circle class="c6" cx="102.1" cy="339.5" r="2.1"/>
<circle class="c6" cx="131.2" cy="329.4" r="2.1"/>
<circle class="c7" cx="160.3" cy="317.3" r="2.1"/>
<circle class="c6" cx="73.1" cy="360.4" r="2.1"/>
<circle class="c6" cx="102.1" cy="343.6" r="2.1"/>
<circle class="c7" cx="131.2" cy="322.5" r="2.1"/>
<circle class="c7" cx="160.3" cy="309.0" r="2.1"/>
<circle class="c6" cx="73.1" cy="358.1" r="2.1"/>
<circle class="c6" cx="102.1" cy="341.0" r="2.1"/>
<circle class="c7" cx="131.2" cy="325.2" r="2.1"/>
<circle class="c7" cx="160.3" cy="311.6" r="2.1"/>
<circle class="c6" cx="73.1" cy="357.2" r="2.1"/>
<circle class="c6" cx="102.1" cy="344.5" r="2.1"/>
<circle class="c7" cx="131.2" cy="320.4" r="2.1"/>
<circle class="c6" cx="160.3" cy="306.6" r="2.1"/>
<circle class="c6" cx="73.1" cy="361.0" r="2.1"/>
<circle class="c6" cx="102.1" cy="340.8" r="2.1"/>
<circle class="c7" cx="131.2" cy="328.3" r="2.1"/>
<circle class="c6" cx="160.3" cy="308.5" r="2.1"/>
<circle class="c6" cx="73.1" cy="359.6" r="2.1"/>
<circle class="c6" cx="102.1" cy="345.5" r="2.1"/>
<circle class="c7" cx="131.2" cy="329.4" r="2.1"/>
<circle class="c6" cx="160.3" cy="314.1" r="2.1"/>
<circle class="c6" cx="73.1" cy="358.8" r="2.1"/>
<circle class="c6" cx="102.1" cy="339.3" r="2.1"/>
<circle class="c7" cx="131.2" cy="330.6" r="2.1"/>
<circle class="c6" cx="160.3" cy="315.5" r="2.1"/>
<circle class="c6" cx="73.1" cy="361.1" r="2.1"/>
<circle class="c6" cx="102.1" cy="339.1" r="2.1"/>
<circle class="c6" cx="131.2" cy="330.7" r="2.1"/>
<circle class="c6" cx="160.3" cy="318.4" r="2.1"/>
<circle class="c6" cx="73.1" cy="361.8" r="2.1"/>
<circle class="c6" cx="102.1" cy="343.8" r="2.1"/>
<circle class="c6" cx="131.2" cy="319.2" r="2.1"/>
<circle class="c7" cx="160.3" cy="301.8" r="2.1"/>
<circle class="c6" cx="73.1" cy="358.4" r="2.1"/>
<circle class="c6" cx="102.1" cy="338.9" r="2.1"/>
<circle class="c7" cx="131.2" cy="318.7" r="2.1"/>
<circle class="c6" cx="160.3" cy="304.1" r="2.1"/>
<circle class="c6" cx="73.1" cy="361.2" r="2.1"/>
<circle class="c6" cx="102.1" cy="339.4" r="2.1"/>
<circle class="c6" cx="131.2" cy="321.5" r="2.1"/>
<circle class="c7" cx="160.3" cy="309.4" r="2.1"/>
<circle class="c6" cx="73.1" cy="358.8" r="2.1"/>
<circle class="c6" cx="102.1" cy="343.9" r="2.1"/>
<circle class="c7" cx="131.2" cy="327.1" r="2.1"/>
<circle class="c6" cx="160.3" cy="312.6" r="2.1"/>
<circle class="c6" cx="73.1" cy="361.3" r="2.1"/>
<circle class="c6" cx="102.1" cy="346.9" r="2.1"/>
<circle class="c7" cx="131.2" cy="328.6" r="2.1"/>
<circle class="c7" cx="160.3" cy="313.8" r="2.1"/>
<circle class="c6" cx="73.1" cy="357.3" r="2.1"/>
<circle class="c6" cx="102.1" cy="346.0" r="2.1"/>
<circle class="c7" cx="131.2" cy="318.2" r="2.1"/>
<circle class="c6" cx="160.3" cy="304.7" r="2.1"/>
<circle class="c6" cx="73.1" cy="360.3" r="2.1"/>
<circle class="c6" cx="102.1" cy="340.3" r="2.1"/>
<circle class="c7" cx="131.2" cy="320.4" r="2.1"/>
<circle class="c7" cx="160.3" cy="304.9" r="2.1"/>
<circle class="c6" cx="73.1" cy="361.9" r="2.1"/>
<circle class="c6" cx="102.1" cy="343.1" r="2.1"/>
<circle class="c7" cx="131.2" cy="327.2" r="2.1"/>
<circle class="c7" cx="160.3" cy="307.6" r="2.1"/>
<circle class="c6" cx="73.1" cy="361.2" r="2.1"/>
<circle class="c6" cx="102.1" cy="344.0" r="2.1"/>
<circle class="c6" cx="131.2" cy="319.2" r="2.1"/>
<circle class="c6" cx="160.3" cy="307.2" r="2.1"/>
<circle class="c6" cx="73.1" cy="360.1" r="2.1"/>
<circle class="c6" cx="102.1" cy="340.4" r="2.1"/>
<circle class="c6" cx="131.2" cy="321.2" r="2.1"/>
<circle class="c6" cx="160.3" cy="309.1" r="2.1"/>
<circle class="c6" cx="73.1" cy="362.0" r="2.1"/>
<circle class="c6" cx="102.1" cy="346.5" r="2.1"/>
<circle class="c7" cx="131.2" cy="318.9" r="2.1"/>
<circle class="c7" cx="160.3" cy="304.9" r="2.1"/>
<circle class="c6" cx="102.1" cy="356.1" r="2.1"/>
<circle class="c7" cx="131.2" cy="344.7" r="2.1"/>
<circle class="c6" cx="160.3" cy="341.2" r="2.1"/>
<circle class="c6" cx="102.1" cy="359.9" r="2.1"/>
<circle class="c7" cx="131.2" cy="344.0" r="2.1"/>
<circle class="c7" cx="160.3" cy="337.9" r="2.1"/>
<circle class="c6" cx="102.1" cy="360.0" r="2.1"/>
<circle class="c6" cx="131.2" cy="346.6" r="2.1"/>
<circle class="c7" cx="160.3" cy="343.4" r="2.1"/>
<circle class="c6" cx="102.1" cy="359.9" r="2.1"/>
<circle class="c7" cx="131.2" cy="354.0" r="2.1"/>
<circle class="c6" cx="160.3" cy="346.4" r="2.1"/>
<circle class="c6" cx="102.1" cy="354.7" r="2.1"/>
<circle class="c7" cx="131.2" cy="347.4" r="2.1"/>
<circle class="c7" cx="160.3" cy="337.9" r="2.1"/>
<circle class="c6" cx="102.1" cy="361.9" r="2.1"/>
<circle class="c6" cx="131.2" cy="351.6" r="2.1"/>
<circle class="c6" cx="160.3" cy="346.8" r="2.1"/>
<circle class="c6" cx="102.1" cy="354.4" r="2.1"/>
<circle class="c6" cx="131.2" cy="344.1" r="2.1"/>
<circle class="c6" cx="160.3" cy="340.2" r="2.1"/>
<circle class="c6" cx="102.1" cy="360.1" r="2.1"/>
<circle class="c6" cx="131.2" cy="349.6" r="2.1"/>
<circle class="c7" cx="160.3" cy="344.6" r="2.1"/>
<circle class="c6" cx="102.1" cy="354.6" r="2.1"/>
<circle class="c7" cx="131.2" cy="352.1" r="2.1"/>
<circle class="c6" cx="160.3" cy="344.0" r="2.1"/>
<circle class="c6" cx="102.1" cy="356.2" r="2.1"/>
<circle class="c6" cx="131.2" cy="345.5" r="2.1"/>
<circle class="c6" cx="160.3" cy="337.9" r="2.1"/>
<circle class="c8" cx="73.1" cy="358.8" r="2.1"/>
<circle class="c8" cx="102.1" cy="343.9" r="2.1"/>
<circle class="c8" cx="131.2" cy="327.1" r="2.1"/>
<circle class="c8" cx="160.3" cy="307.5" r="2.1"/>
<circle class="c8" cx="73.1" cy="359.8" r="2.1"/>
<circle class="c8" cx="102.1" cy="340.6" r="2.1"/>
<circle class="c8" cx="131.2" cy="322.0" r="2.1"/>
<circle class="c8" cx="160.3" cy="310.2" r="2.1"/>
<circle class="c8" cx="102.1" cy="356.7" r="2.1"/>
<circle class="c8" cx="131.2" cy="347.3" r="2.1"/>
<circle class="c8" cx="160.3" cy="346.6" r="2.1"/>
<circle class="c9" cx="73.1" cy="359.4" r="2.1"/>
<circle class="c9" cx="102.1" cy="341.9" r="2.1"/>
<circle class="c9" cx="131.2" cy="323.7" r="2.1"/>
<circle class="c9" cx="160.3" cy="302.5" r="2.1"/>
<circle class="c9" cx="73.1" cy="370.9" r="2.1"/>
<circle class="c9" cx="102.1" cy="360.8" r="2.1"/>
<circle class="c9" cx="131.2" cy="349.3" r="2.1"/>
<circle class="c9" cx="160.3" cy="338.2" r="2.1"/>
<circle class="c9" cx="73.1" cy="370.9" r="2.1"/>
<circle class="c9" cx="102.1" cy="359.8" r="2.1"/>
<circle class="c9" cx="131.2" cy="349.3" r="2.1"/>
<circle class="c9" cx="160.3" cy="348.3" r="2.1"/>
</g>
<line x1="44.00" y1="36.30" x2="44.00" y2="142.80" stroke="#000" stroke-width="1.9" />
<line x1="40.00" y1="141.90" x2="44.00" y2="141.90" stroke="#000" stroke-width="1.5" />
<text transform="translate(39.30 145.40) skewX(0.3) scale(0.93 1)" font-size="9.8" text-anchor="end" fill="#111">0</text>
<line x1="40.00" y1="125.05" x2="44.00" y2="125.05" stroke="#000" stroke-width="1.5" />
<text transform="translate(39.30 128.55) skewX(0.3) scale(0.93 1)" font-size="9.8" text-anchor="end" fill="#111">500</text>
<line x1="40.00" y1="108.20" x2="44.00" y2="108.20" stroke="#000" stroke-width="1.5" />
<text transform="translate(39.30 111.70) skewX(0.3) scale(0.93 1)" font-size="9.8" text-anchor="end" fill="#111">1000</text>
<line x1="40.00" y1="91.35" x2="44.00" y2="91.35" stroke="#000" stroke-width="1.5" />
<text transform="translate(39.30 94.85) skewX(0.3) scale(0.93 1)" font-size="9.8" text-anchor="end" fill="#111">1500</text>
<line x1="40.00" y1="74.50" x2="44.00" y2="74.50" stroke="#000" stroke-width="1.5" />
<text transform="translate(39.30 78.00) skewX(0.3) scale(0.93 1)" font-size="9.8" text-anchor="end" fill="#111">2000</text>
<line x1="40.00" y1="57.65" x2="44.00" y2="57.65" stroke="#000" stroke-width="1.5" />
<text transform="translate(39.30 61.15) skewX(0.3) scale(0.93 1)" font-size="9.8" text-anchor="end" fill="#111">2500</text>
<line x1="40.00" y1="40.80" x2="44.00" y2="40.80" stroke="#000" stroke-width="1.5" />
<text transform="translate(39.30 44.30) skewX(0.3) scale(0.93 1)" font-size="9.8" text-anchor="end" fill="#111">3000</text>
<line x1="43.10" y1="141.90" x2="170.50" y2="141.90" stroke="#000" stroke-width="1.9" />
<line x1="44.00" y1="150.90" x2="44.00" y2="257.40" stroke="#000" stroke-width="1.9" />
<line x1="40.00" y1="256.50" x2="44.00" y2="256.50" stroke="#000" stroke-width="1.5" />
<text transform="translate(39.30 260.00) skewX(0.3) scale(0.93 1)" font-size="9.8" text-anchor="end" fill="#111">0</text>
<line x1="40.00" y1="239.65" x2="44.00" y2="239.65" stroke="#000" stroke-width="1.5" />
<text transform="translate(39.30 243.15) skewX(0.3) scale(0.93 1)" font-size="9.8" text-anchor="end" fill="#111">500</text>
<line x1="40.00" y1="222.80" x2="44.00" y2="222.80" stroke="#000" stroke-width="1.5" />
<text transform="translate(39.30 226.30) skewX(0.3) scale(0.93 1)" font-size="9.8" text-anchor="end" fill="#111">1000</text>
<line x1="40.00" y1="205.95" x2="44.00" y2="205.95" stroke="#000" stroke-width="1.5" />
<text transform="translate(39.30 209.45) skewX(0.3) scale(0.93 1)" font-size="9.8" text-anchor="end" fill="#111">1500</text>
<line x1="40.00" y1="189.10" x2="44.00" y2="189.10" stroke="#000" stroke-width="1.5" />
<text transform="translate(39.30 192.60) skewX(0.3) scale(0.93 1)" font-size="9.8" text-anchor="end" fill="#111">2000</text>
<line x1="40.00" y1="172.25" x2="44.00" y2="172.25" stroke="#000" stroke-width="1.5" />
<text transform="translate(39.30 175.75) skewX(0.3) scale(0.93 1)" font-size="9.8" text-anchor="end" fill="#111">2500</text>
<line x1="40.00" y1="155.40" x2="44.00" y2="155.40" stroke="#000" stroke-width="1.5" />
<text transform="translate(39.30 158.90) skewX(0.3) scale(0.93 1)" font-size="9.8" text-anchor="end" fill="#111">3000</text>
<line x1="43.10" y1="256.50" x2="170.50" y2="256.50" stroke="#000" stroke-width="1.9" />
<line x1="44.00" y1="265.30" x2="44.00" y2="371.80" stroke="#000" stroke-width="1.9" />
<line x1="40.00" y1="370.90" x2="44.00" y2="370.90" stroke="#000" stroke-width="1.5" />
<text transform="translate(39.30 374.40) skewX(0.3) scale(0.93 1)" font-size="9.8" text-anchor="end" fill="#111">0</text>
<line x1="40.00" y1="354.05" x2="44.00" y2="354.05" stroke="#000" stroke-width="1.5" />
<text transform="translate(39.30 357.55) skewX(0.3) scale(0.93 1)" font-size="9.8" text-anchor="end" fill="#111">500</text>
<line x1="40.00" y1="337.20" x2="44.00" y2="337.20" stroke="#000" stroke-width="1.5" />
<text transform="translate(39.30 340.70) skewX(0.3) scale(0.93 1)" font-size="9.8" text-anchor="end" fill="#111">1000</text>
<line x1="40.00" y1="320.35" x2="44.00" y2="320.35" stroke="#000" stroke-width="1.5" />
<text transform="translate(39.30 323.85) skewX(0.3) scale(0.93 1)" font-size="9.8" text-anchor="end" fill="#111">1500</text>
<line x1="40.00" y1="303.50" x2="44.00" y2="303.50" stroke="#000" stroke-width="1.5" />
<text transform="translate(39.30 307.00) skewX(0.3) scale(0.93 1)" font-size="9.8" text-anchor="end" fill="#111">2000</text>
<line x1="40.00" y1="286.65" x2="44.00" y2="286.65" stroke="#000" stroke-width="1.5" />
<text transform="translate(39.30 290.15) skewX(0.3) scale(0.93 1)" font-size="9.8" text-anchor="end" fill="#111">2500</text>
<line x1="40.00" y1="269.80" x2="44.00" y2="269.80" stroke="#000" stroke-width="1.5" />
<text transform="translate(39.30 273.30) skewX(0.3) scale(0.93 1)" font-size="9.8" text-anchor="end" fill="#111">3000</text>
<line x1="43.10" y1="370.90" x2="170.50" y2="370.90" stroke="#000" stroke-width="1.9" />
<line x1="44.00" y1="370.90" x2="44.00" y2="373.90" stroke="#000" stroke-width="1.5" />
<text transform="translate(44.00 383.80) skewX(0.3) scale(0.93 1)" font-size="9.8" text-anchor="middle" fill="#111">0</text>
<line x1="73.07" y1="370.90" x2="73.07" y2="373.90" stroke="#000" stroke-width="1.5" />
<text transform="translate(73.07 383.80) skewX(0.3) scale(0.93 1)" font-size="9.8" text-anchor="middle" fill="#111">12</text>
<line x1="102.15" y1="370.90" x2="102.15" y2="373.90" stroke="#000" stroke-width="1.5" />
<text transform="translate(102.15 383.80) skewX(0.3) scale(0.93 1)" font-size="9.8" text-anchor="middle" fill="#111">24</text>
<line x1="131.22" y1="370.90" x2="131.22" y2="373.90" stroke="#000" stroke-width="1.5" />
<text transform="translate(131.22 383.80) skewX(0.3) scale(0.93 1)" font-size="9.8" text-anchor="middle" fill="#111">36</text>
<line x1="160.30" y1="370.90" x2="160.30" y2="373.90" stroke="#000" stroke-width="1.5" />
<text transform="translate(160.30 383.80) skewX(0.3) scale(0.93 1)" font-size="9.8" text-anchor="middle" fill="#111">48</text>
<line x1="206.50" y1="36.10" x2="206.50" y2="143.00" stroke="#000" stroke-width="1.9" />
<line x1="202.50" y1="142.10" x2="206.50" y2="142.10" stroke="#000" stroke-width="1.5" />
<text transform="translate(201.80 145.60) skewX(0.3) scale(0.93 1)" font-size="9.8" text-anchor="end" fill="#111">0</text>
<line x1="202.50" y1="116.85" x2="206.50" y2="116.85" stroke="#000" stroke-width="1.5" />
<text transform="translate(201.80 120.35) skewX(0.3) scale(0.93 1)" font-size="9.8" text-anchor="end" fill="#111">20</text>
<line x1="202.50" y1="91.60" x2="206.50" y2="91.60" stroke="#000" stroke-width="1.5" />
<text transform="translate(201.80 95.10) skewX(0.3) scale(0.93 1)" font-size="9.8" text-anchor="end" fill="#111">40</text>
<line x1="202.50" y1="66.35" x2="206.50" y2="66.35" stroke="#000" stroke-width="1.5" />
<text transform="translate(201.80 69.85) skewX(0.3) scale(0.93 1)" font-size="9.8" text-anchor="end" fill="#111">60</text>
<line x1="202.50" y1="41.10" x2="206.50" y2="41.10" stroke="#000" stroke-width="1.5" />
<text transform="translate(201.80 44.60) skewX(0.3) scale(0.93 1)" font-size="9.8" text-anchor="end" fill="#111">80</text>
<line x1="205.60" y1="142.10" x2="351.50" y2="142.10" stroke="#000" stroke-width="1.9" />
<line x1="206.50" y1="150.60" x2="206.50" y2="257.50" stroke="#000" stroke-width="1.9" />
<line x1="202.50" y1="256.60" x2="206.50" y2="256.60" stroke="#000" stroke-width="1.5" />
<text transform="translate(201.80 260.10) skewX(0.3) scale(0.93 1)" font-size="9.8" text-anchor="end" fill="#111">0</text>
<line x1="202.50" y1="231.35" x2="206.50" y2="231.35" stroke="#000" stroke-width="1.5" />
<text transform="translate(201.80 234.85) skewX(0.3) scale(0.93 1)" font-size="9.8" text-anchor="end" fill="#111">20</text>
<line x1="202.50" y1="206.10" x2="206.50" y2="206.10" stroke="#000" stroke-width="1.5" />
<text transform="translate(201.80 209.60) skewX(0.3) scale(0.93 1)" font-size="9.8" text-anchor="end" fill="#111">40</text>
<line x1="202.50" y1="180.85" x2="206.50" y2="180.85" stroke="#000" stroke-width="1.5" />
<text transform="translate(201.80 184.35) skewX(0.3) scale(0.93 1)" font-size="9.8" text-anchor="end" fill="#111">60</text>
<line x1="202.50" y1="155.60" x2="206.50" y2="155.60" stroke="#000" stroke-width="1.5" />
<text transform="translate(201.80 159.10) skewX(0.3) scale(0.93 1)" font-size="9.8" text-anchor="end" fill="#111">80</text>
<line x1="205.60" y1="256.60" x2="351.50" y2="256.60" stroke="#000" stroke-width="1.9" />
<line x1="206.50" y1="265.00" x2="206.50" y2="371.90" stroke="#000" stroke-width="1.9" />
<line x1="202.50" y1="371.00" x2="206.50" y2="371.00" stroke="#000" stroke-width="1.5" />
<text transform="translate(201.80 374.50) skewX(0.3) scale(0.93 1)" font-size="9.8" text-anchor="end" fill="#111">0</text>
<line x1="202.50" y1="345.75" x2="206.50" y2="345.75" stroke="#000" stroke-width="1.5" />
<text transform="translate(201.80 349.25) skewX(0.3) scale(0.93 1)" font-size="9.8" text-anchor="end" fill="#111">20</text>
<line x1="202.50" y1="320.50" x2="206.50" y2="320.50" stroke="#000" stroke-width="1.5" />
<text transform="translate(201.80 324.00) skewX(0.3) scale(0.93 1)" font-size="9.8" text-anchor="end" fill="#111">40</text>
<line x1="202.50" y1="295.25" x2="206.50" y2="295.25" stroke="#000" stroke-width="1.5" />
<text transform="translate(201.80 298.75) skewX(0.3) scale(0.93 1)" font-size="9.8" text-anchor="end" fill="#111">60</text>
<line x1="202.50" y1="270.00" x2="206.50" y2="270.00" stroke="#000" stroke-width="1.5" />
<text transform="translate(201.80 273.50) skewX(0.3) scale(0.93 1)" font-size="9.8" text-anchor="end" fill="#111">80</text>
<line x1="205.60" y1="371.00" x2="351.50" y2="371.00" stroke="#000" stroke-width="1.9" />
<line x1="238.00" y1="371.00" x2="238.00" y2="374.00" stroke="#000" stroke-width="1.5" />
<line x1="279.40" y1="371.00" x2="279.40" y2="374.00" stroke="#000" stroke-width="1.5" />
<line x1="321.40" y1="371.00" x2="321.40" y2="374.00" stroke="#000" stroke-width="1.5" />
<text transform="translate(238.00 384.00) skewX(0.3) scale(0.93 1)" font-size="9.8" text-anchor="middle" fill="#111">12-24h</text>
<text transform="translate(279.40 384.00) skewX(0.3) scale(0.93 1)" font-size="9.8" text-anchor="middle" fill="#111">24-36h</text>
<text transform="translate(321.40 384.00) skewX(0.3) scale(0.93 1)" font-size="9.8" text-anchor="middle" fill="#111">36-48h</text>
<text x="279.40" y="397.10" font-size="11.9" text-anchor="middle" font-weight="normal" fill="#111" textLength="41.6" lengthAdjust="spacingAndGlyphs">Interval</text>
<text x="185.40" y="204.50" font-size="11.9" text-anchor="middle" font-weight="normal" fill="#111" transform="rotate(-90 185.6 204.5)" textLength="102" lengthAdjust="spacingAndGlyphs">Growth rate [µm/h]</text>
<text x="219.90" y="93.75" font-size="11.5" text-anchor="start" font-weight="normal" fill="#111" textLength="39.8" lengthAdjust="spacingAndGlyphs">Plate ID</text>
<circle class="c10" cx="224.7" cy="103.4" r="4.5"/>
<text x="237.70" y="107.40" font-size="11.5" text-anchor="start" font-weight="normal" fill="#111" >11</text>
<circle class="c11" cx="224.7" cy="115.5" r="4.5"/>
<text x="237.70" y="119.50" font-size="11.5" text-anchor="start" font-weight="normal" fill="#111" >18</text>
<circle class="c12" cx="224.7" cy="128.1" r="4.5"/>
<text x="237.70" y="132.10" font-size="11.5" text-anchor="start" font-weight="normal" fill="#111" >MX</text>
<circle class="c13" cx="235.5" cy="53.3" r="1.95"/>
<circle class="c13" cx="237.8" cy="64.2" r="1.95"/>
<line x1="237.80" y1="51.50" x2="237.80" y2="65.00" stroke="#000" stroke-width="1.6" />
<line x1="234.80" y1="59.00" x2="240.80" y2="59.00" stroke="#000" stroke-width="2.0" />
<circle class="c13" cx="279.7" cy="41.7" r="1.95"/>
<circle class="c13" cx="279.0" cy="47.2" r="1.95"/>
<circle class="c13" cx="274.3" cy="53.3" r="1.95"/>
<circle class="c13" cx="277.9" cy="52.8" r="1.95"/>
<circle class="c13" cx="280.7" cy="53.4" r="1.95"/>
<circle class="c13" cx="284.3" cy="53.0" r="1.95"/>
<circle class="c13" cx="266.0" cy="59.1" r="1.95"/>
<circle class="c13" cx="269.3" cy="58.7" r="1.95"/>
<circle class="c13" cx="272.7" cy="58.5" r="1.95"/>
<circle class="c13" cx="276.5" cy="59.1" r="1.95"/>
<circle class="c13" cx="279.3" cy="58.3" r="1.95"/>
<circle class="c13" cx="282.9" cy="58.3" r="1.95"/>
<circle class="c13" cx="285.5" cy="59.0" r="1.95"/>
<circle class="c13" cx="289.2" cy="58.9" r="1.95"/>
<circle class="c13" cx="292.5" cy="59.0" r="1.95"/>
<circle class="c13" cx="264.5" cy="63.5" r="1.95"/>
<circle class="c13" cx="267.4" cy="63.9" r="1.95"/>
<circle class="c13" cx="271.3" cy="64.2" r="1.95"/>
<circle class="c13" cx="274.0" cy="63.9" r="1.95"/>
<circle class="c13" cx="277.6" cy="63.8" r="1.95"/>
<circle class="c13" cx="280.7" cy="63.6" r="1.95"/>
<circle class="c13" cx="284.4" cy="64.2" r="1.95"/>
<circle class="c13" cx="287.3" cy="63.8" r="1.95"/>
<circle class="c13" cx="291.3" cy="64.3" r="1.95"/>
<circle class="c13" cx="293.9" cy="63.4" r="1.95"/>
<circle class="c13" cx="266.6" cy="69.5" r="1.95"/>
<circle class="c13" cx="269.5" cy="68.6" r="1.95"/>
<circle class="c13" cx="273.2" cy="68.9" r="1.95"/>
<circle class="c13" cx="276.5" cy="69.1" r="1.95"/>
<circle class="c13" cx="279.7" cy="68.7" r="1.95"/>
<circle class="c13" cx="283.0" cy="68.7" r="1.95"/>
<circle class="c13" cx="285.9" cy="69.3" r="1.95"/>
<circle class="c13" cx="289.6" cy="68.7" r="1.95"/>
<circle class="c13" cx="292.3" cy="68.9" r="1.95"/>
<circle class="c13" cx="276.1" cy="73.8" r="1.95"/>
<circle class="c13" cx="279.0" cy="73.6" r="1.95"/>
<circle class="c13" cx="282.9" cy="74.3" r="1.95"/>
<circle class="c13" cx="277.3" cy="79.2" r="1.95"/>
<circle class="c13" cx="281.3" cy="78.6" r="1.95"/>
<circle class="c13" cx="278.1" cy="84.3" r="1.95"/>
<circle class="c13" cx="281.1" cy="84.8" r="1.95"/>
<circle class="c14" cx="268.0" cy="63.8" r="1.95"/>
<circle class="c14" cx="283.2" cy="73.9" r="1.95"/>
<line x1="279.40" y1="55.90" x2="279.40" y2="73.90" stroke="#000" stroke-width="1.6" />
<line x1="275.90" y1="64.20" x2="282.90" y2="64.20" stroke="#000" stroke-width="2.0" />
<circle class="c13" cx="321.6" cy="42.2" r="1.95"/>
<circle class="c13" cx="321.3" cy="57.1" r="1.95"/>
<circle class="c13" cx="321.3" cy="61.1" r="1.95"/>
<circle class="c13" cx="317.7" cy="65.9" r="1.95"/>
<circle class="c13" cx="320.8" cy="66.1" r="1.95"/>
<circle class="c13" cx="325.0" cy="65.7" r="1.95"/>
<circle class="c13" cx="316.3" cy="72.0" r="1.95"/>
<circle class="c13" cx="319.5" cy="71.3" r="1.95"/>
<circle class="c13" cx="323.2" cy="71.2" r="1.95"/>
<circle class="c13" cx="326.4" cy="71.6" r="1.95"/>
<circle class="c13" cx="306.5" cy="76.5" r="1.95"/>
<circle class="c13" cx="310.6" cy="76.0" r="1.95"/>
<circle class="c13" cx="314.4" cy="76.1" r="1.95"/>
<circle class="c13" cx="318.1" cy="76.9" r="1.95"/>
<circle class="c13" cx="321.4" cy="76.1" r="1.95"/>
<circle class="c13" cx="325.0" cy="76.5" r="1.95"/>
<circle class="c13" cx="329.1" cy="76.2" r="1.95"/>
<circle class="c13" cx="332.6" cy="77.2" r="1.95"/>
<circle class="c13" cx="336.1" cy="77.0" r="1.95"/>
<circle class="c13" cx="312.0" cy="82.8" r="1.95"/>
<circle class="c13" cx="316.0" cy="82.8" r="1.95"/>
<circle class="c13" cx="320.1" cy="81.8" r="1.95"/>
<circle class="c13" cx="323.5" cy="82.8" r="1.95"/>
<circle class="c13" cx="326.3" cy="82.1" r="1.95"/>
<circle class="c13" cx="330.7" cy="81.8" r="1.95"/>
<circle class="c13" cx="314.7" cy="87.8" r="1.95"/>
<circle class="c13" cx="318.2" cy="87.7" r="1.95"/>
<circle class="c13" cx="321.4" cy="88.6" r="1.95"/>
<circle class="c13" cx="324.6" cy="87.8" r="1.95"/>
<circle class="c13" cx="328.6" cy="87.9" r="1.95"/>
<circle class="c13" cx="315.4" cy="92.6" r="1.95"/>
<circle class="c13" cx="319.2" cy="93.5" r="1.95"/>
<circle class="c13" cx="323.4" cy="93.5" r="1.95"/>
<circle class="c13" cx="326.4" cy="93.3" r="1.95"/>
<circle class="c13" cx="311.9" cy="98.2" r="1.95"/>
<circle class="c13" cx="316.2" cy="98.0" r="1.95"/>
<circle class="c13" cx="320.0" cy="98.3" r="1.95"/>
<circle class="c13" cx="323.3" cy="98.7" r="1.95"/>
<circle class="c13" cx="326.3" cy="98.8" r="1.95"/>
<circle class="c13" cx="330.6" cy="98.1" r="1.95"/>
<circle class="c13" cx="312.8" cy="102.9" r="1.95"/>
<circle class="c13" cx="316.6" cy="103.3" r="1.95"/>
<circle class="c13" cx="319.4" cy="103.5" r="1.95"/>
<circle class="c13" cx="323.1" cy="102.8" r="1.95"/>
<circle class="c13" cx="327.1" cy="102.7" r="1.95"/>
<circle class="c13" cx="330.8" cy="102.9" r="1.95"/>
<circle class="c13" cx="321.6" cy="109.9" r="1.95"/>
<circle class="c14" cx="314.0" cy="76.6" r="1.95"/>
<circle class="c14" cx="332.7" cy="82.4" r="1.95"/>
<circle class="c14" cx="321.3" cy="114.5" r="1.95"/>
<line x1="321.40" y1="70.00" x2="321.40" y2="98.70" stroke="#000" stroke-width="1.6" />
<line x1="317.90" y1="84.00" x2="324.90" y2="84.00" stroke="#000" stroke-width="2.0" />
<circle class="c15" cx="231.3" cy="170.5" r="2.1"/>
<circle class="c15" cx="234.4" cy="170.5" r="2.1"/>
<circle class="c16" cx="237.5" cy="170.5" r="2.1"/>
<circle class="c15" cx="240.6" cy="170.5" r="2.1"/>
<circle class="c15" cx="243.7" cy="170.5" r="2.1"/>
<circle class="c16" cx="228.2" cy="175.8" r="2.1"/>
<circle class="c16" cx="231.3" cy="175.8" r="2.1"/>
<circle class="c16" cx="234.4" cy="175.8" r="2.1"/>
<circle class="c15" cx="237.5" cy="175.8" r="2.1"/>
<circle class="c16" cx="240.6" cy="175.8" r="2.1"/>
<circle class="c16" cx="243.7" cy="175.8" r="2.1"/>
<circle class="c16" cx="246.8" cy="175.8" r="2.1"/>
<circle class="c16" cx="220.4" cy="180.8" r="2.1"/>
<circle class="c16" cx="223.5" cy="180.8" r="2.1"/>
<circle class="c15" cx="226.6" cy="180.8" r="2.1"/>
<circle class="c15" cx="229.8" cy="180.8" r="2.1"/>
<circle class="c15" cx="232.8" cy="180.8" r="2.1"/>
<circle class="c15" cx="235.9" cy="180.8" r="2.1"/>
<circle class="c16" cx="239.0" cy="180.8" r="2.1"/>
<circle class="c15" cx="242.1" cy="180.8" r="2.1"/>
<circle class="c15" cx="245.2" cy="180.8" r="2.1"/>
<circle class="c16" cx="248.3" cy="180.8" r="2.1"/>
<circle class="c16" cx="251.4" cy="180.8" r="2.1"/>
<circle class="c16" cx="254.5" cy="180.8" r="2.1"/>
<circle class="c15" cx="222.0" cy="186.8" r="2.1"/>
<circle class="c16" cx="225.1" cy="186.8" r="2.1"/>
<circle class="c16" cx="228.2" cy="186.8" r="2.1"/>
<circle class="c16" cx="231.3" cy="186.8" r="2.1"/>
<circle class="c15" cx="234.4" cy="186.8" r="2.1"/>
<circle class="c15" cx="237.5" cy="186.8" r="2.1"/>
<circle class="c15" cx="240.6" cy="186.8" r="2.1"/>
<circle class="c16" cx="243.7" cy="186.8" r="2.1"/>
<circle class="c16" cx="246.8" cy="186.8" r="2.1"/>
<circle class="c16" cx="249.9" cy="186.8" r="2.1"/>
<circle class="c16" cx="253.0" cy="186.8" r="2.1"/>
<circle class="c16" cx="225.1" cy="192.0" r="2.1"/>
<circle class="c16" cx="228.2" cy="192.0" r="2.1"/>
<circle class="c15" cx="231.3" cy="192.0" r="2.1"/>
<circle class="c15" cx="234.4" cy="192.0" r="2.1"/>
<circle class="c15" cx="237.5" cy="192.0" r="2.1"/>
<circle class="c15" cx="240.6" cy="192.0" r="2.1"/>
<circle class="c15" cx="243.7" cy="192.0" r="2.1"/>
<circle class="c16" cx="246.8" cy="192.0" r="2.1"/>
<circle class="c16" cx="249.9" cy="192.0" r="2.1"/>
<circle class="c16" cx="229.8" cy="197.0" r="2.1"/>
<circle class="c16" cx="232.8" cy="197.0" r="2.1"/>
<circle class="c15" cx="235.9" cy="197.0" r="2.1"/>
<circle class="c15" cx="239.1" cy="197.0" r="2.1"/>
<circle class="c16" cx="242.2" cy="197.0" r="2.1"/>
<circle class="c15" cx="245.2" cy="197.0" r="2.1"/>
<circle class="c16" cx="234.4" cy="202.5" r="2.1"/>
<circle class="c16" cx="237.5" cy="202.5" r="2.1"/>
<circle class="c15" cx="240.6" cy="202.5" r="2.1"/>
<circle class="c15" cx="235.9" cy="207.8" r="2.1"/>
<circle class="c16" cx="239.0" cy="207.8" r="2.1"/>
<circle class="c16" cx="237.5" cy="213.0" r="2.1"/>
<circle class="c15" cx="237.5" cy="218.2" r="2.1"/>
<line x1="237.50" y1="177.25" x2="237.50" y2="203.50" stroke="#000" stroke-width="1.6" />
<line x1="234.00" y1="187.00" x2="241.00" y2="187.00" stroke="#000" stroke-width="2.0" />
<circle class="c15" cx="279.4" cy="176.8" r="2.1"/>
<circle class="c16" cx="276.3" cy="182.0" r="2.1"/>
<circle class="c15" cx="279.4" cy="182.0" r="2.1"/>
<circle class="c15" cx="282.5" cy="182.0" r="2.1"/>
<circle class="c16" cx="276.3" cy="187.0" r="2.1"/>
<circle class="c15" cx="279.4" cy="187.0" r="2.1"/>
<circle class="c16" cx="282.5" cy="187.0" r="2.1"/>
<circle class="c16" cx="274.8" cy="192.5" r="2.1"/>
<circle class="c16" cx="277.9" cy="192.5" r="2.1"/>
<circle class="c16" cx="280.9" cy="192.5" r="2.1"/>
<circle class="c16" cx="284.1" cy="192.5" r="2.1"/>
<circle class="c16" cx="273.2" cy="198.0" r="2.1"/>
<circle class="c15" cx="276.3" cy="198.0" r="2.1"/>
<circle class="c16" cx="279.4" cy="198.0" r="2.1"/>
<circle class="c16" cx="282.5" cy="198.0" r="2.1"/>
<circle class="c16" cx="285.6" cy="198.0" r="2.1"/>
<circle class="c16" cx="263.9" cy="203.5" r="2.1"/>
<circle class="c15" cx="267.0" cy="203.5" r="2.1"/>
<circle class="c16" cx="270.1" cy="203.5" r="2.1"/>
<circle class="c16" cx="273.2" cy="203.5" r="2.1"/>
<circle class="c16" cx="276.3" cy="203.5" r="2.1"/>
<circle class="c15" cx="279.4" cy="203.5" r="2.1"/>
<circle class="c16" cx="282.5" cy="203.5" r="2.1"/>
<circle class="c15" cx="285.6" cy="203.5" r="2.1"/>
<circle class="c15" cx="288.7" cy="203.5" r="2.1"/>
<circle class="c16" cx="291.8" cy="203.5" r="2.1"/>
<circle class="c16" cx="294.9" cy="203.5" r="2.1"/>
<circle class="c16" cx="263.9" cy="209.0" r="2.1"/>
<circle class="c16" cx="267.0" cy="209.0" r="2.1"/>
<circle class="c15" cx="270.1" cy="209.0" r="2.1"/>
<circle class="c15" cx="273.2" cy="209.0" r="2.1"/>
<circle class="c16" cx="276.3" cy="209.0" r="2.1"/>
<circle class="c16" cx="279.4" cy="209.0" r="2.1"/>
<circle class="c16" cx="282.5" cy="209.0" r="2.1"/>
<circle class="c16" cx="285.6" cy="209.0" r="2.1"/>
<circle class="c16" cx="288.7" cy="209.0" r="2.1"/>
<circle class="c16" cx="291.8" cy="209.0" r="2.1"/>
<circle class="c16" cx="294.9" cy="209.0" r="2.1"/>
<circle class="c16" cx="263.9" cy="214.0" r="2.1"/>
<circle class="c15" cx="267.0" cy="214.0" r="2.1"/>
<circle class="c16" cx="270.1" cy="214.0" r="2.1"/>
<circle class="c16" cx="273.2" cy="214.0" r="2.1"/>
<circle class="c16" cx="276.3" cy="214.0" r="2.1"/>
<circle class="c15" cx="279.4" cy="214.0" r="2.1"/>
<circle class="c16" cx="282.5" cy="214.0" r="2.1"/>
<circle class="c15" cx="285.6" cy="214.0" r="2.1"/>
<circle class="c16" cx="288.7" cy="214.0" r="2.1"/>
<circle class="c15" cx="291.8" cy="214.0" r="2.1"/>
<circle class="c16" cx="294.9" cy="214.0" r="2.1"/>
<circle class="c16" cx="263.9" cy="219.5" r="2.1"/>
<circle class="c16" cx="267.0" cy="219.5" r="2.1"/>
<circle class="c16" cx="270.1" cy="219.5" r="2.1"/>
<circle class="c16" cx="273.2" cy="219.5" r="2.1"/>
<circle class="c15" cx="276.3" cy="219.5" r="2.1"/>
<circle class="c16" cx="279.4" cy="219.5" r="2.1"/>
<circle class="c16" cx="282.5" cy="219.5" r="2.1"/>
<circle class="c16" cx="285.6" cy="219.5" r="2.1"/>
<circle class="c15" cx="288.7" cy="219.5" r="2.1"/>
<circle class="c15" cx="291.8" cy="219.5" r="2.1"/>
<circle class="c16" cx="294.9" cy="219.5" r="2.1"/>
<circle class="c16" cx="267.0" cy="225.0" r="2.1"/>
<circle class="c16" cx="270.1" cy="225.0" r="2.1"/>
<circle class="c16" cx="273.2" cy="225.0" r="2.1"/>
<circle class="c16" cx="276.3" cy="225.0" r="2.1"/>
<circle class="c16" cx="279.4" cy="225.0" r="2.1"/>
<circle class="c16" cx="282.5" cy="225.0" r="2.1"/>
<circle class="c15" cx="285.6" cy="225.0" r="2.1"/>
<circle class="c15" cx="288.7" cy="225.0" r="2.1"/>
<circle class="c16" cx="291.8" cy="225.0" r="2.1"/>
<circle class="c16" cx="268.5" cy="230.0" r="2.1"/>
<circle class="c16" cx="271.6" cy="230.0" r="2.1"/>
<circle class="c16" cx="274.7" cy="230.0" r="2.1"/>
<circle class="c16" cx="277.8" cy="230.0" r="2.1"/>
<circle class="c15" cx="280.9" cy="230.0" r="2.1"/>
<circle class="c15" cx="284.0" cy="230.0" r="2.1"/>
<circle class="c15" cx="287.1" cy="230.0" r="2.1"/>
<circle class="c15" cx="290.2" cy="230.0" r="2.1"/>
<circle class="c15" cx="274.8" cy="235.0" r="2.1"/>
<circle class="c16" cx="277.9" cy="235.0" r="2.1"/>
<circle class="c16" cx="280.9" cy="235.0" r="2.1"/>
<circle class="c16" cx="284.1" cy="235.0" r="2.1"/>
<circle class="c16" cx="277.8" cy="240.0" r="2.1"/>
<circle class="c15" cx="280.9" cy="240.0" r="2.1"/>
<circle class="c16" cx="279.4" cy="247.7" r="2.1"/>
<line x1="279.40" y1="198.00" x2="279.40" y2="226.30" stroke="#000" stroke-width="1.6" />
<line x1="275.90" y1="213.50" x2="282.90" y2="213.50" stroke="#000" stroke-width="2.0" />
<circle class="c15" cx="321.6" cy="191.5" r="2.1"/>
<circle class="c16" cx="321.6" cy="202.5" r="2.1"/>
<circle class="c16" cx="320.2" cy="208.0" r="2.1"/>
<circle class="c16" cx="323.1" cy="208.0" r="2.1"/>
<circle class="c16" cx="321.6" cy="213.0" r="2.1"/>
<circle class="c16" cx="317.2" cy="218.5" r="2.1"/>
<circle class="c16" cx="320.1" cy="218.5" r="2.1"/>
<circle class="c15" cx="323.1" cy="218.5" r="2.1"/>
<circle class="c16" cx="325.9" cy="218.5" r="2.1"/>
<circle class="c16" cx="317.2" cy="224.0" r="2.1"/>
<circle class="c16" cx="320.1" cy="224.0" r="2.1"/>
<circle class="c16" cx="323.1" cy="224.0" r="2.1"/>
<circle class="c16" cx="325.9" cy="224.0" r="2.1"/>
<circle class="c16" cx="315.8" cy="229.6" r="2.1"/>
<circle class="c16" cx="318.7" cy="229.6" r="2.1"/>
<circle class="c16" cx="321.6" cy="229.6" r="2.1"/>
<circle class="c16" cx="324.5" cy="229.6" r="2.1"/>
<circle class="c15" cx="327.4" cy="229.6" r="2.1"/>
<circle class="c16" cx="312.9" cy="235.0" r="2.1"/>
<circle class="c16" cx="315.8" cy="235.0" r="2.1"/>
<circle class="c15" cx="318.7" cy="235.0" r="2.1"/>
<circle class="c16" cx="321.6" cy="235.0" r="2.1"/>
<circle class="c16" cx="324.5" cy="235.0" r="2.1"/>
<circle class="c16" cx="327.4" cy="235.0" r="2.1"/>
<circle class="c16" cx="330.3" cy="235.0" r="2.1"/>
<circle class="c16" cx="308.6" cy="240.5" r="2.1"/>
<circle class="c15" cx="311.4" cy="240.5" r="2.1"/>
<circle class="c16" cx="314.4" cy="240.5" r="2.1"/>
<circle class="c16" cx="317.2" cy="240.5" r="2.1"/>
<circle class="c16" cx="320.2" cy="240.5" r="2.1"/>
<circle class="c16" cx="323.1" cy="240.5" r="2.1"/>
<circle class="c16" cx="325.9" cy="240.5" r="2.1"/>
<circle class="c16" cx="328.9" cy="240.5" r="2.1"/>
<circle class="c16" cx="331.8" cy="240.5" r="2.1"/>
<circle class="c16" cx="334.7" cy="240.5" r="2.1"/>
<circle class="c16" cx="304.2" cy="246.0" r="2.1"/>
<circle class="c16" cx="307.1" cy="246.0" r="2.1"/>
<circle class="c16" cx="310.0" cy="246.0" r="2.1"/>
<circle class="c15" cx="312.9" cy="246.0" r="2.1"/>
<circle class="c15" cx="315.8" cy="246.0" r="2.1"/>
<circle class="c16" cx="318.7" cy="246.0" r="2.1"/>
<circle class="c16" cx="321.6" cy="246.0" r="2.1"/>
<circle class="c15" cx="324.5" cy="246.0" r="2.1"/>
<circle class="c16" cx="327.4" cy="246.0" r="2.1"/>
<circle class="c15" cx="330.3" cy="246.0" r="2.1"/>
<circle class="c16" cx="333.2" cy="246.0" r="2.1"/>
<circle class="c16" cx="336.1" cy="246.0" r="2.1"/>
<circle class="c15" cx="339.0" cy="246.0" r="2.1"/>
<circle class="c15" cx="315.8" cy="251.3" r="2.1"/>
<circle class="c15" cx="318.7" cy="251.3" r="2.1"/>
<circle class="c15" cx="321.6" cy="251.3" r="2.1"/>
<circle class="c16" cx="324.5" cy="251.3" r="2.1"/>
<circle class="c16" cx="327.4" cy="251.3" r="2.1"/>
<circle class="c16" cx="320.2" cy="254.5" r="2.1"/>
<circle class="c16" cx="323.1" cy="254.5" r="2.1"/>
<line x1="321.60" y1="222.25" x2="321.60" y2="248.80" stroke="#000" stroke-width="1.6" />
<line x1="318.10" y1="235.30" x2="325.10" y2="235.30" stroke="#000" stroke-width="2.0" />
<circle class="c17" cx="239.0" cy="306.3" r="1.8"/>
<circle class="c17" cx="237.0" cy="309.8" r="1.8"/>
<circle class="c17" cx="239.6" cy="310.6" r="1.8"/>
<circle class="c17" cx="233.9" cy="314.4" r="1.8"/>
<circle class="c17" cx="236.7" cy="314.1" r="1.8"/>
<circle class="c17" cx="240.7" cy="314.4" r="1.8"/>
<circle class="c17" cx="243.4" cy="313.8" r="1.8"/>
<circle class="c17" cx="230.4" cy="318.0" r="1.8"/>
<circle class="c17" cx="233.6" cy="317.7" r="1.8"/>
<circle class="c17" cx="237.0" cy="318.0" r="1.8"/>
<circle class="c17" cx="240.5" cy="317.2" r="1.8"/>
<circle class="c17" cx="242.7" cy="317.2" r="1.8"/>
<circle class="c17" cx="246.4" cy="317.6" r="1.8"/>
<circle class="c17" cx="229.3" cy="321.5" r="1.8"/>
<circle class="c17" cx="231.6" cy="321.4" r="1.8"/>
<circle class="c17" cx="235.7" cy="321.4" r="1.8"/>
<circle class="c17" cx="238.6" cy="320.7" r="1.8"/>
<circle class="c17" cx="242.1" cy="321.4" r="1.8"/>
<circle class="c17" cx="245.1" cy="321.5" r="1.8"/>
<circle class="c17" cx="247.9" cy="320.5" r="1.8"/>
<circle class="c17" cx="230.6" cy="325.4" r="1.8"/>
<circle class="c17" cx="233.3" cy="325.3" r="1.8"/>
<circle class="c17" cx="237.4" cy="324.7" r="1.8"/>
<circle class="c17" cx="240.2" cy="325.2" r="1.8"/>
<circle class="c17" cx="243.3" cy="324.6" r="1.8"/>
<circle class="c17" cx="246.2" cy="325.3" r="1.8"/>
<circle class="c17" cx="234.0" cy="329.0" r="1.8"/>
<circle class="c17" cx="236.4" cy="329.4" r="1.8"/>
<circle class="c17" cx="240.4" cy="328.7" r="1.8"/>
<circle class="c17" cx="243.4" cy="329.5" r="1.8"/>
<circle class="c17" cx="237.4" cy="333.0" r="1.8"/>
<circle class="c17" cx="240.1" cy="333.1" r="1.8"/>
<circle class="c18" cx="229.0" cy="314.0" r="1.8"/>
<line x1="238.00" y1="315.00" x2="238.00" y2="327.00" stroke="#000" stroke-width="1.6" />
<line x1="234.50" y1="321.00" x2="241.50" y2="321.00" stroke="#000" stroke-width="2.0" />
<circle class="c17" cx="277.8" cy="303.0" r="1.8"/>
<circle class="c17" cx="281.0" cy="303.0" r="1.8"/>
<circle class="c17" cx="273.0" cy="308.0" r="1.8"/>
<circle class="c17" cx="276.2" cy="308.0" r="1.8"/>
<circle class="c17" cx="279.4" cy="308.0" r="1.8"/>
<circle class="c17" cx="282.6" cy="308.0" r="1.8"/>
<circle class="c17" cx="285.8" cy="308.0" r="1.8"/>
<circle class="c17" cx="265.0" cy="313.4" r="1.8"/>
<circle class="c17" cx="268.2" cy="313.4" r="1.8"/>
<circle class="c17" cx="271.4" cy="313.4" r="1.8"/>
<circle class="c17" cx="274.6" cy="313.4" r="1.8"/>
<circle class="c17" cx="277.8" cy="313.4" r="1.8"/>
<circle class="c17" cx="281.0" cy="313.4" r="1.8"/>
<circle class="c17" cx="284.2" cy="313.4" r="1.8"/>
<circle class="c17" cx="287.4" cy="313.4" r="1.8"/>
<circle class="c17" cx="290.6" cy="313.4" r="1.8"/>
<circle class="c17" cx="293.8" cy="313.4" r="1.8"/>
<circle class="c17" cx="274.6" cy="318.0" r="1.8"/>
<circle class="c17" cx="277.8" cy="318.0" r="1.8"/>
<circle class="c17" cx="281.0" cy="318.0" r="1.8"/>
<circle class="c17" cx="284.2" cy="318.0" r="1.8"/>
<circle class="c17" cx="276.2" cy="322.0" r="1.8"/>
<circle class="c17" cx="279.4" cy="322.0" r="1.8"/>
<circle class="c17" cx="282.6" cy="322.0" r="1.8"/>
<circle class="c17" cx="276.2" cy="326.0" r="1.8"/>
<circle class="c17" cx="279.4" cy="326.0" r="1.8"/>
<circle class="c17" cx="282.6" cy="326.0" r="1.8"/>
<circle class="c17" cx="276.2" cy="330.0" r="1.8"/>
<circle class="c17" cx="279.4" cy="330.0" r="1.8"/>
<circle class="c17" cx="282.6" cy="330.0" r="1.8"/>
<circle class="c17" cx="277.8" cy="334.0" r="1.8"/>
<circle class="c17" cx="281.0" cy="334.0" r="1.8"/>
<circle class="c17" cx="261.8" cy="339.4" r="1.8"/>
<circle class="c17" cx="265.0" cy="339.4" r="1.8"/>
<circle class="c17" cx="268.2" cy="339.4" r="1.8"/>
<circle class="c17" cx="271.4" cy="339.4" r="1.8"/>
<circle class="c17" cx="274.6" cy="339.4" r="1.8"/>
<circle class="c17" cx="277.8" cy="339.4" r="1.8"/>
<circle class="c17" cx="281.0" cy="339.4" r="1.8"/>
<circle class="c17" cx="284.2" cy="339.4" r="1.8"/>
<circle class="c17" cx="287.4" cy="339.4" r="1.8"/>
<circle class="c17" cx="290.6" cy="339.4" r="1.8"/>
<circle class="c17" cx="293.8" cy="339.4" r="1.8"/>
<circle class="c17" cx="297.0" cy="339.4" r="1.8"/>
<circle class="c17" cx="268.2" cy="344.4" r="1.8"/>
<circle class="c17" cx="271.4" cy="344.4" r="1.8"/>
<circle class="c17" cx="274.6" cy="344.4" r="1.8"/>
<circle class="c17" cx="277.8" cy="344.4" r="1.8"/>
<circle class="c17" cx="281.0" cy="344.4" r="1.8"/>
<circle class="c17" cx="284.2" cy="344.4" r="1.8"/>
<circle class="c17" cx="287.4" cy="344.4" r="1.8"/>
<circle class="c17" cx="290.6" cy="344.4" r="1.8"/>
<circle class="c17" cx="274.6" cy="349.4" r="1.8"/>
<circle class="c17" cx="277.8" cy="349.4" r="1.8"/>
<circle class="c17" cx="281.0" cy="349.4" r="1.8"/>
<circle class="c17" cx="284.2" cy="349.4" r="1.8"/>
<circle class="c17" cx="277.8" cy="354.6" r="1.8"/>
<circle class="c17" cx="281.0" cy="354.6" r="1.8"/>
<circle class="c17" cx="279.4" cy="359.0" r="1.8"/>
<circle class="c18" cx="286.6" cy="308.0" r="1.8"/>
<circle class="c18" cx="263.4" cy="339.4" r="1.8"/>
<circle class="c18" cx="281.0" cy="333.0" r="1.8"/>
<line x1="279.40" y1="314.00" x2="279.40" y2="344.00" stroke="#000" stroke-width="1.6" />
<line x1="275.90" y1="329.00" x2="282.90" y2="329.00" stroke="#000" stroke-width="2.0" />
<circle class="c17" cx="319.8" cy="307.4" r="1.8"/>
<circle class="c17" cx="323.1" cy="307.4" r="1.8"/>
<circle class="c17" cx="318.1" cy="312.6" r="1.8"/>
<circle class="c17" cx="321.4" cy="312.6" r="1.8"/>
<circle class="c17" cx="324.7" cy="312.6" r="1.8"/>
<circle class="c17" cx="314.8" cy="318.0" r="1.8"/>
<circle class="c17" cx="318.1" cy="318.0" r="1.8"/>
<circle class="c17" cx="321.4" cy="318.0" r="1.8"/>
<circle class="c17" cx="324.7" cy="318.0" r="1.8"/>
<circle class="c17" cx="328.0" cy="318.0" r="1.8"/>
<circle class="c17" cx="311.5" cy="323.0" r="1.8"/>
<circle class="c17" cx="314.8" cy="323.0" r="1.8"/>
<circle class="c17" cx="318.1" cy="323.0" r="1.8"/>
<circle class="c17" cx="321.4" cy="323.0" r="1.8"/>
<circle class="c17" cx="324.7" cy="323.0" r="1.8"/>
<circle class="c17" cx="328.0" cy="323.0" r="1.8"/>
<circle class="c17" cx="331.3" cy="323.0" r="1.8"/>
<circle class="c17" cx="309.8" cy="328.0" r="1.8"/>
<circle class="c17" cx="313.1" cy="328.0" r="1.8"/>
<circle class="c17" cx="316.4" cy="328.0" r="1.8"/>
<circle class="c17" cx="319.7" cy="328.0" r="1.8"/>
<circle class="c17" cx="323.0" cy="328.0" r="1.8"/>
<circle class="c17" cx="326.3" cy="328.0" r="1.8"/>
<circle class="c17" cx="329.6" cy="328.0" r="1.8"/>
<circle class="c17" cx="332.9" cy="328.0" r="1.8"/>
<circle class="c17" cx="309.8" cy="333.4" r="1.8"/>
<circle class="c17" cx="313.1" cy="333.4" r="1.8"/>
<circle class="c17" cx="316.4" cy="333.4" r="1.8"/>
<circle class="c17" cx="319.7" cy="333.4" r="1.8"/>
<circle class="c17" cx="323.0" cy="333.4" r="1.8"/>
<circle class="c17" cx="326.3" cy="333.4" r="1.8"/>
<circle class="c17" cx="329.6" cy="333.4" r="1.8"/>
<circle class="c17" cx="332.9" cy="333.4" r="1.8"/>
<circle class="c17" cx="313.1" cy="338.6" r="1.8"/>
<circle class="c17" cx="316.4" cy="338.6" r="1.8"/>
<circle class="c17" cx="319.8" cy="338.6" r="1.8"/>
<circle class="c17" cx="323.0" cy="338.6" r="1.8"/>
<circle class="c17" cx="326.3" cy="338.6" r="1.8"/>
<circle class="c17" cx="329.6" cy="338.6" r="1.8"/>
<circle class="c17" cx="314.8" cy="344.0" r="1.8"/>
<circle class="c17" cx="318.1" cy="344.0" r="1.8"/>
<circle class="c17" cx="321.4" cy="344.0" r="1.8"/>
<circle class="c17" cx="324.7" cy="344.0" r="1.8"/>
<circle class="c17" cx="328.0" cy="344.0" r="1.8"/>
<circle class="c17" cx="314.8" cy="349.4" r="1.8"/>
<circle class="c17" cx="318.1" cy="349.4" r="1.8"/>
<circle class="c17" cx="321.4" cy="349.4" r="1.8"/>
<circle class="c17" cx="324.7" cy="349.4" r="1.8"/>
<circle class="c17" cx="328.0" cy="349.4" r="1.8"/>
<circle class="c17" cx="318.1" cy="354.6" r="1.8"/>
<circle class="c17" cx="321.4" cy="354.6" r="1.8"/>
<circle class="c17" cx="324.7" cy="354.6" r="1.8"/>
<circle class="c17" cx="306.5" cy="360.0" r="1.8"/>
<circle class="c17" cx="309.8" cy="360.0" r="1.8"/>
<circle class="c17" cx="313.1" cy="360.0" r="1.8"/>
<circle class="c17" cx="316.4" cy="360.0" r="1.8"/>
<circle class="c17" cx="319.7" cy="360.0" r="1.8"/>
<circle class="c17" cx="323.0" cy="360.0" r="1.8"/>
<circle class="c17" cx="326.3" cy="360.0" r="1.8"/>
<circle class="c17" cx="329.6" cy="360.0" r="1.8"/>
<circle class="c17" cx="332.9" cy="360.0" r="1.8"/>
<circle class="c17" cx="336.2" cy="360.0" r="1.8"/>
<circle class="c17" cx="303.2" cy="365.0" r="1.8"/>
<circle class="c17" cx="306.6" cy="365.0" r="1.8"/>
<circle class="c17" cx="309.9" cy="365.0" r="1.8"/>
<circle class="c17" cx="313.1" cy="365.0" r="1.8"/>
<circle class="c17" cx="316.4" cy="365.0" r="1.8"/>
<circle class="c17" cx="319.8" cy="365.0" r="1.8"/>
<circle class="c17" cx="323.1" cy="365.0" r="1.8"/>
<circle class="c17" cx="326.4" cy="365.0" r="1.8"/>
<circle class="c17" cx="329.6" cy="365.0" r="1.8"/>
<circle class="c17" cx="332.9" cy="365.0" r="1.8"/>
<circle class="c17" cx="336.2" cy="365.0" r="1.8"/>
<circle class="c17" cx="339.6" cy="365.0" r="1.8"/>
<circle class="c17" cx="319.8" cy="368.6" r="1.8"/>
<circle class="c17" cx="323.1" cy="368.6" r="1.8"/>
<circle class="c18" cx="319.5" cy="307.4" r="1.8"/>
<circle class="c18" cx="316.0" cy="333.4" r="1.8"/>
<circle class="c18" cx="311.6" cy="365.0" r="1.8"/>
<line x1="321.40" y1="324.60" x2="321.40" y2="360.00" stroke="#000" stroke-width="1.6" />
<line x1="317.90" y1="342.00" x2="324.90" y2="342.00" stroke="#000" stroke-width="2.0" />
<line x1="400.20" y1="55.00" x2="400.20" y2="184.40" stroke="#000" stroke-width="1.9" />
<line x1="396.20" y1="183.50" x2="400.20" y2="183.50" stroke="#000" stroke-width="1.5" />
<text transform="translate(393.90 187.00) skewX(0.3) scale(0.93 1)" font-size="9.8" text-anchor="end" fill="#111">0</text>
<line x1="396.20" y1="142.80" x2="400.20" y2="142.80" stroke="#000" stroke-width="1.5" />
<text transform="translate(393.90 146.30) skewX(0.3) scale(0.93 1)" font-size="9.8" text-anchor="end" fill="#111">500</text>
<line x1="396.20" y1="102.10" x2="400.20" y2="102.10" stroke="#000" stroke-width="1.5" />
<text transform="translate(393.90 105.60) skewX(0.3) scale(0.93 1)" font-size="9.8" text-anchor="end" fill="#111">1000</text>
<line x1="396.20" y1="61.40" x2="400.20" y2="61.40" stroke="#000" stroke-width="1.5" />
<text transform="translate(393.90 64.90) skewX(0.3) scale(0.93 1)" font-size="9.8" text-anchor="end" fill="#111">1500</text>
<line x1="399.30" y1="183.50" x2="515.00" y2="183.50" stroke="#000" stroke-width="1.9" />
<line x1="400.20" y1="183.50" x2="400.20" y2="186.50" stroke="#000" stroke-width="1.5" />
<text transform="translate(400.20 196.30) skewX(0.3) scale(0.93 1)" font-size="9.8" text-anchor="middle" fill="#111">0</text>
<line x1="444.00" y1="183.50" x2="444.00" y2="186.50" stroke="#000" stroke-width="1.5" />
<text transform="translate(444.00 196.30) skewX(0.3) scale(0.93 1)" font-size="9.8" text-anchor="middle" fill="#111">12</text>
<line x1="487.80" y1="183.50" x2="487.80" y2="186.50" stroke="#000" stroke-width="1.5" />
<text transform="translate(487.80 196.30) skewX(0.3) scale(0.93 1)" font-size="9.8" text-anchor="middle" fill="#111">24</text>
<line x1="400.20" y1="167.22" x2="516.00" y2="167.22" stroke="#000" stroke-width="1.7" stroke-dasharray="5.8 5.5"/>
<line x1="438.50" y1="167.22" x2="487.60" y2="95.80" stroke="#4455ee" stroke-width="1.3" />
<line x1="441.30" y1="167.22" x2="487.60" y2="100.30" stroke="#4455ee" stroke-width="1.3" />
<line x1="444.20" y1="167.22" x2="487.60" y2="103.90" stroke="#3cc88a" stroke-width="1.3" />
<line x1="452.50" y1="167.22" x2="487.60" y2="115.40" stroke="#9a9a40" stroke-width="1.3" />
<line x1="454.00" y1="167.22" x2="487.60" y2="117.20" stroke="#4455ee" stroke-width="1.3" />
<line x1="464.20" y1="167.22" x2="487.60" y2="133.40" stroke="#3cc88a" stroke-width="1.3" />
<line x1="479.00" y1="167.22" x2="487.60" y2="155.40" stroke="#9a9a40" stroke-width="1.3" />
<line x1="482.90" y1="167.22" x2="487.60" y2="160.80" stroke="#9a9a40" stroke-width="1.3" />
<circle class="c19" cx="438.5" cy="167.2" r="2.15"/>
<circle class="c19" cx="441.3" cy="167.2" r="2.15"/>
<circle class="c20" cx="444.2" cy="167.2" r="2.15"/>
<circle class="c19" cx="453.6" cy="167.2" r="2.15"/>
<circle class="c21" cx="452.5" cy="167.2" r="2.15"/>
<circle class="c20" cx="464.2" cy="167.2" r="2.15"/>
<circle class="c21" cx="479.0" cy="167.2" r="2.15"/>
<circle class="c21" cx="482.9" cy="167.2" r="2.15"/>
<circle class="c19" cx="487.6" cy="117.2" r="2.15"/>
<circle class="c21" cx="487.6" cy="160.8" r="2.15"/>
<circle class="c21" cx="487.6" cy="155.4" r="2.15"/>
<circle class="c20" cx="487.6" cy="133.4" r="2.15"/>
<circle class="c21" cx="487.6" cy="115.4" r="2.15"/>
<circle class="c20" cx="487.6" cy="103.9" r="2.15"/>
<circle class="c19" cx="487.6" cy="100.3" r="2.15"/>
<circle class="c19" cx="487.6" cy="95.8" r="2.15"/>
<text x="370.60" y="118.80" font-size="11.9" text-anchor="middle" font-weight="normal" fill="#111" transform="rotate(-90 370.8 118.8)" textLength="63.6" lengthAdjust="spacingAndGlyphs">Radius [µm]</text>
<text x="457.40" y="206.40" font-size="11.9" text-anchor="middle" font-weight="normal" fill="#111" textLength="45.6" lengthAdjust="spacingAndGlyphs">Time [h]</text>
<line x1="400.20" y1="242.75" x2="400.20" y2="371.90" stroke="#000" stroke-width="1.9" />
<line x1="396.20" y1="371.00" x2="400.20" y2="371.00" stroke="#000" stroke-width="1.5" />
<text transform="translate(393.90 374.50) skewX(0.3) scale(0.93 1)" font-size="9.8" text-anchor="end" fill="#111">0</text>
<line x1="396.20" y1="330.30" x2="400.20" y2="330.30" stroke="#000" stroke-width="1.5" />
<text transform="translate(393.90 333.80) skewX(0.3) scale(0.93 1)" font-size="9.8" text-anchor="end" fill="#111">500</text>
<line x1="396.20" y1="289.60" x2="400.20" y2="289.60" stroke="#000" stroke-width="1.5" />
<text transform="translate(393.90 293.10) skewX(0.3) scale(0.93 1)" font-size="9.8" text-anchor="end" fill="#111">1000</text>
<line x1="396.20" y1="248.90" x2="400.20" y2="248.90" stroke="#000" stroke-width="1.5" />
<text transform="translate(393.90 252.40) skewX(0.3) scale(0.93 1)" font-size="9.8" text-anchor="end" fill="#111">1500</text>
<line x1="399.30" y1="371.00" x2="515.00" y2="371.00" stroke="#000" stroke-width="1.9" />
<line x1="400.20" y1="371.00" x2="400.20" y2="374.00" stroke="#000" stroke-width="1.5" />
<text transform="translate(400.20 383.80) skewX(0.3) scale(0.93 1)" font-size="9.8" text-anchor="middle" fill="#111">0</text>
<line x1="444.00" y1="371.00" x2="444.00" y2="374.00" stroke="#000" stroke-width="1.5" />
<text transform="translate(444.00 383.80) skewX(0.3) scale(0.93 1)" font-size="9.8" text-anchor="middle" fill="#111">12</text>
<line x1="487.80" y1="371.00" x2="487.80" y2="374.00" stroke="#000" stroke-width="1.5" />
<text transform="translate(487.80 383.80) skewX(0.3) scale(0.93 1)" font-size="9.8" text-anchor="middle" fill="#111">24</text>
<line x1="400.20" y1="354.72" x2="516.00" y2="354.72" stroke="#000" stroke-width="1.7" stroke-dasharray="5.8 5.5"/>
<line x1="437.00" y1="354.72" x2="487.30" y2="283.60" stroke="#4455ee" stroke-width="1.3" />
<line x1="438.60" y1="354.72" x2="487.30" y2="287.40" stroke="#4455ee" stroke-width="1.3" />
<line x1="441.90" y1="354.72" x2="487.30" y2="291.40" stroke="#3cc88a" stroke-width="1.3" />
<line x1="436.00" y1="354.72" x2="487.30" y2="304.70" stroke="#4455ee" stroke-width="1.3" />
<line x1="433.60" y1="354.72" x2="487.30" y2="302.70" stroke="#9a9a40" stroke-width="1.3" />
<line x1="463.25" y1="354.72" x2="487.30" y2="320.70" stroke="#3cc88a" stroke-width="1.3" />
<line x1="466.60" y1="354.72" x2="487.30" y2="342.50" stroke="#9a9a40" stroke-width="1.3" />
<line x1="477.90" y1="354.72" x2="487.30" y2="348.10" stroke="#9a9a40" stroke-width="1.3" />
<circle class="c19" cx="437.0" cy="354.7" r="2.15"/>
<circle class="c19" cx="438.6" cy="354.7" r="2.15"/>
<circle class="c20" cx="441.9" cy="354.7" r="2.15"/>
<circle class="c21" cx="433.6" cy="354.7" r="2.15"/>
<circle class="c20" cx="463.2" cy="354.7" r="2.15"/>
<circle class="c21" cx="466.6" cy="354.7" r="2.15"/>
<circle class="c21" cx="477.9" cy="354.7" r="2.15"/>
<circle class="c19" cx="487.3" cy="304.7" r="2.15"/>
<circle class="c21" cx="487.3" cy="348.1" r="2.15"/>
<circle class="c21" cx="487.3" cy="342.5" r="2.15"/>
<circle class="c20" cx="487.3" cy="320.7" r="2.15"/>
<circle class="c21" cx="487.3" cy="302.7" r="2.15"/>
<circle class="c20" cx="487.3" cy="291.4" r="2.15"/>
<circle class="c19" cx="487.3" cy="287.4" r="2.15"/>
<circle class="c19" cx="487.3" cy="283.6" r="2.15"/>
<text x="370.60" y="306.00" font-size="11.9" text-anchor="middle" font-weight="normal" fill="#111" transform="rotate(-90 370.8 306.0)" textLength="63.6" lengthAdjust="spacingAndGlyphs">Radius [µm]</text>
<text x="457.40" y="394.60" font-size="11.9" text-anchor="middle" font-weight="normal" fill="#111" textLength="45.6" lengthAdjust="spacingAndGlyphs">Time [h]</text>
<line x1="569.80" y1="55.25" x2="569.80" y2="184.60" stroke="#000" stroke-width="1.9" />
<line x1="565.80" y1="60.70" x2="569.80" y2="60.70" stroke="#000" stroke-width="1.5" />
<text transform="translate(563.50 64.20) skewX(0.3) scale(0.93 1)" font-size="9.8" text-anchor="end" fill="#111">10</text>
<line x1="565.80" y1="91.45" x2="569.80" y2="91.45" stroke="#000" stroke-width="1.5" />
<text transform="translate(563.50 94.95) skewX(0.3) scale(0.93 1)" font-size="9.8" text-anchor="end" fill="#111">5</text>
<line x1="565.80" y1="122.20" x2="569.80" y2="122.20" stroke="#000" stroke-width="1.5" />
<text transform="translate(563.50 125.70) skewX(0.3) scale(0.93 1)" font-size="9.8" text-anchor="end" fill="#111">0</text>
<line x1="565.80" y1="152.95" x2="569.80" y2="152.95" stroke="#000" stroke-width="1.5" />
<text transform="translate(563.50 156.45) skewX(0.3) scale(0.93 1)" font-size="9.8" text-anchor="end" fill="#111">-5</text>
<line x1="565.80" y1="183.70" x2="569.80" y2="183.70" stroke="#000" stroke-width="1.5" />
<text transform="translate(563.50 187.20) skewX(0.3) scale(0.93 1)" font-size="9.8" text-anchor="end" fill="#111">-10</text>
<line x1="568.90" y1="183.70" x2="686.00" y2="183.70" stroke="#000" stroke-width="1.9" />
<line x1="569.80" y1="183.70" x2="569.80" y2="186.70" stroke="#000" stroke-width="1.5" />
<text transform="translate(569.80 196.50) skewX(0.3) scale(0.93 1)" font-size="9.8" text-anchor="middle" fill="#111">0</text>
<line x1="613.24" y1="183.70" x2="613.24" y2="186.70" stroke="#000" stroke-width="1.5" />
<text transform="translate(613.24 196.50) skewX(0.3) scale(0.93 1)" font-size="9.8" text-anchor="middle" fill="#111">12</text>
<line x1="656.68" y1="183.70" x2="656.68" y2="186.70" stroke="#000" stroke-width="1.5" />
<text transform="translate(656.68 196.50) skewX(0.3) scale(0.93 1)" font-size="9.8" text-anchor="middle" fill="#111">24</text>
<line x1="569.80" y1="106.52" x2="686.00" y2="106.52" stroke="#000" stroke-width="1.7" stroke-dasharray="5.8 5.5"/>
<line x1="569.80" y1="164.27" x2="686.00" y2="164.27" stroke="#000" stroke-width="1.7" stroke-dasharray="5.8 5.5"/>
<line x1="573.20" y1="135.48" x2="686.00" y2="135.48" stroke="#000" stroke-width="1.4" stroke-dasharray="1.4 4.3"/>
<circle class="c22" cx="607.2" cy="135.5" r="1.9"/>
<circle class="c22" cx="607.8" cy="137.1" r="1.9"/>
<circle class="c22" cx="604.6" cy="123.1" r="1.9"/>
<circle class="c22" cx="602.8" cy="119.3" r="1.9"/>
<circle class="c22" cx="605.4" cy="119.8" r="1.9"/>
<circle class="c22" cx="613.8" cy="157.1" r="1.9"/>
<circle class="c22" cx="609.2" cy="143.5" r="1.9"/>
<circle class="c22" cx="605.2" cy="138.3" r="1.9"/>
<circle class="c22" cx="603.3" cy="124.5" r="1.9"/>
<circle class="c22" cx="608.5" cy="134.6" r="1.9"/>
<circle class="c22" cx="608.1" cy="137.1" r="1.9"/>
<circle class="c22" cx="605.7" cy="135.2" r="1.9"/>
<circle class="c22" cx="614.1" cy="158.3" r="1.9"/>
<circle class="c22" cx="604.3" cy="128.6" r="1.9"/>
<circle class="c22" cx="603.2" cy="128.2" r="1.9"/>
<circle class="c22" cx="609.6" cy="151.1" r="1.9"/>
<circle class="c22" cx="612.9" cy="156.6" r="1.9"/>
<circle class="c22" cx="610.6" cy="154.2" r="1.9"/>
<circle class="c22" cx="610.8" cy="157.8" r="1.9"/>
<circle class="c22" cx="608.4" cy="149.0" r="1.9"/>
<circle class="c22" cx="602.9" cy="120.5" r="1.9"/>
<circle class="c22" cx="602.7" cy="120.8" r="1.9"/>
<circle class="c22" cx="601.6" cy="120.3" r="1.9"/>
<circle class="c22" cx="607.5" cy="139.2" r="1.9"/>
<circle class="c22" cx="605.8" cy="124.5" r="1.9"/>
<circle class="c22" cx="603.6" cy="121.4" r="1.9"/>
<circle class="c22" cx="603.6" cy="125.8" r="1.9"/>
<circle class="c22" cx="607.6" cy="128.6" r="1.9"/>
<circle class="c22" cx="604.2" cy="125.3" r="1.9"/>
<circle class="c22" cx="606.4" cy="119.6" r="1.9"/>
<circle class="c22" cx="603.6" cy="125.0" r="1.9"/>
<circle class="c22" cx="603.3" cy="128.0" r="1.9"/>
<circle class="c22" cx="604.2" cy="119.8" r="1.9"/>
<circle class="c22" cx="605.9" cy="132.3" r="1.9"/>
<circle class="c22" cx="611.1" cy="155.4" r="1.9"/>
<circle class="c22" cx="602.8" cy="123.2" r="1.9"/>
<circle class="c22" cx="612.4" cy="154.2" r="1.9"/>
<circle class="c22" cx="611.6" cy="147.4" r="1.9"/>
<circle class="c22" cx="607.0" cy="124.8" r="1.9"/>
<circle class="c22" cx="604.5" cy="133.2" r="1.9"/>
<circle class="c22" cx="605.7" cy="117.7" r="1.9"/>
<circle class="c22" cx="606.9" cy="127.6" r="1.9"/>
<circle class="c22" cx="607.0" cy="141.4" r="1.9"/>
<circle class="c22" cx="602.2" cy="119.6" r="1.9"/>
<circle class="c22" cx="609.6" cy="139.2" r="1.9"/>
<circle class="c22" cx="609.3" cy="154.3" r="1.9"/>
<circle class="c22" cx="601.9" cy="116.5" r="1.9"/>
<circle class="c22" cx="603.8" cy="123.5" r="1.9"/>
<circle class="c22" cx="605.9" cy="139.3" r="1.9"/>
<circle class="c22" cx="612.2" cy="158.0" r="1.9"/>
<circle class="c22" cx="609.3" cy="145.1" r="1.9"/>
<circle class="c22" cx="605.3" cy="116.9" r="1.9"/>
<circle class="c22" cx="611.4" cy="146.1" r="1.9"/>
<circle class="c22" cx="608.3" cy="136.3" r="1.9"/>
<circle class="c22" cx="608.3" cy="130.0" r="1.9"/>
<circle class="c22" cx="611.3" cy="147.2" r="1.9"/>
<circle class="c22" cx="610.3" cy="147.3" r="1.9"/>
<circle class="c22" cx="607.0" cy="129.7" r="1.9"/>
<circle class="c22" cx="612.6" cy="153.1" r="1.9"/>
<circle class="c22" cx="610.7" cy="152.7" r="1.9"/>
<circle class="c22" cx="607.7" cy="141.7" r="1.9"/>
<circle class="c22" cx="604.4" cy="119.0" r="1.9"/>
<circle class="c22" cx="613.4" cy="157.7" r="1.9"/>
<circle class="c22" cx="609.7" cy="146.4" r="1.9"/>
<circle class="c22" cx="608.5" cy="135.2" r="1.9"/>
<circle class="c22" cx="603.8" cy="117.7" r="1.9"/>
<circle class="c22" cx="605.7" cy="136.0" r="1.9"/>
<circle class="c22" cx="610.4" cy="141.3" r="1.9"/>
<circle class="c22" cx="602.6" cy="126.5" r="1.9"/>
<circle class="c22" cx="603.0" cy="125.2" r="1.9"/>
<circle class="c22" cx="611.5" cy="153.1" r="1.9"/>
<circle class="c22" cx="606.6" cy="130.1" r="1.9"/>
<circle class="c22" cx="604.3" cy="124.7" r="1.9"/>
<circle class="c22" cx="609.9" cy="151.9" r="1.9"/>
<circle class="c22" cx="607.0" cy="140.9" r="1.9"/>
<circle class="c22" cx="601.6" cy="115.3" r="1.9"/>
<circle class="c22" cx="602.5" cy="118.0" r="1.9"/>
<circle class="c22" cx="611.5" cy="160.0" r="1.9"/>
<circle class="c22" cx="612.5" cy="158.0" r="1.9"/>
<circle class="c23" cx="617.0" cy="156.4" r="1.9"/>
<circle class="c23" cx="617.9" cy="152.0" r="1.9"/>
<circle class="c23" cx="614.5" cy="144.3" r="1.9"/>
<circle class="c23" cx="615.9" cy="136.2" r="1.9"/>
<circle class="c23" cx="618.2" cy="139.4" r="1.9"/>
<circle class="c23" cx="614.3" cy="160.6" r="1.9"/>
<circle class="c23" cx="612.1" cy="157.1" r="1.9"/>
<circle class="c23" cx="615.7" cy="151.6" r="1.9"/>
<circle class="c23" cx="614.8" cy="131.4" r="1.9"/>
<circle class="c23" cx="613.0" cy="144.3" r="1.9"/>
<circle class="c23" cx="613.9" cy="134.0" r="1.9"/>
<circle class="c23" cx="615.1" cy="149.0" r="1.9"/>
<circle class="c23" cx="617.7" cy="154.5" r="1.9"/>
<circle class="c23" cx="613.5" cy="150.9" r="1.9"/>
<circle class="c23" cx="616.8" cy="130.4" r="1.9"/>
<circle class="c23" cx="613.3" cy="152.1" r="1.9"/>
<circle class="c23" cx="615.4" cy="152.1" r="1.9"/>
<circle class="c23" cx="617.0" cy="148.4" r="1.9"/>
<circle class="c23" cx="612.3" cy="158.6" r="1.9"/>
<circle class="c23" cx="616.0" cy="159.3" r="1.9"/>
<circle class="c23" cx="617.9" cy="149.8" r="1.9"/>
<circle class="c23" cx="616.5" cy="142.3" r="1.9"/>
<circle class="c23" cx="614.4" cy="158.7" r="1.9"/>
<circle class="c23" cx="613.6" cy="150.0" r="1.9"/>
<circle class="c23" cx="616.7" cy="149.0" r="1.9"/>
<circle class="c23" cx="618.9" cy="138.0" r="1.9"/>
<circle class="c23" cx="617.4" cy="146.5" r="1.9"/>
<circle class="c23" cx="618.7" cy="140.2" r="1.9"/>
<circle class="c23" cx="616.4" cy="132.2" r="1.9"/>
<circle class="c23" cx="617.2" cy="146.9" r="1.9"/>
<circle class="c24" cx="613.5" cy="152.0" r="1.9"/>
<circle class="c24" cx="614.0" cy="151.3" r="1.9"/>
<circle class="c24" cx="615.2" cy="138.7" r="1.9"/>
<circle class="c24" cx="617.0" cy="146.3" r="1.9"/>
<circle class="c24" cx="615.1" cy="154.2" r="1.9"/>
<circle class="c24" cx="613.3" cy="155.0" r="1.9"/>
<circle class="c24" cx="617.4" cy="141.7" r="1.9"/>
<circle class="c24" cx="615.8" cy="148.8" r="1.9"/>
<circle class="c24" cx="615.9" cy="141.0" r="1.9"/>
<circle class="c24" cx="617.1" cy="153.0" r="1.9"/>
<circle class="c23" cx="611.5" cy="163.5" r="1.9"/>
<circle class="c23" cx="610.0" cy="165.5" r="1.9"/>
<circle class="c23" cx="634.9" cy="168.9" r="1.9"/>
<circle class="c23" cx="638.1" cy="153.9" r="1.9"/>
<circle class="c23" cx="637.1" cy="155.4" r="1.9"/>
<circle class="c23" cx="634.9" cy="167.2" r="1.9"/>
<circle class="c23" cx="639.3" cy="154.7" r="1.9"/>
<circle class="c23" cx="636.3" cy="158.0" r="1.9"/>
<circle class="c23" cx="636.5" cy="167.4" r="1.9"/>
<circle class="c23" cx="642.4" cy="144.5" r="1.9"/>
<circle class="c23" cx="638.0" cy="163.1" r="1.9"/>
<circle class="c23" cx="639.6" cy="151.5" r="1.9"/>
<circle class="c23" cx="634.0" cy="167.1" r="1.9"/>
<circle class="c23" cx="635.2" cy="161.6" r="1.9"/>
<circle class="c23" cx="637.3" cy="158.7" r="1.9"/>
<circle class="c23" cx="642.0" cy="147.7" r="1.9"/>
<circle class="c23" cx="644.2" cy="139.7" r="1.9"/>
<circle class="c23" cx="641.7" cy="143.0" r="1.9"/>
<circle class="c23" cx="641.1" cy="147.7" r="1.9"/>
<circle class="c23" cx="638.5" cy="153.2" r="1.9"/>
<circle class="c23" cx="638.6" cy="157.4" r="1.9"/>
<circle class="c23" cx="636.5" cy="164.2" r="1.9"/>
<circle class="c23" cx="638.5" cy="159.9" r="1.9"/>
<circle class="c23" cx="634.9" cy="165.2" r="1.9"/>
<circle class="c23" cx="644.9" cy="143.5" r="1.9"/>
<circle class="c23" cx="634.4" cy="165.2" r="1.9"/>
<circle class="c23" cx="641.2" cy="144.6" r="1.9"/>
<circle class="c23" cx="636.1" cy="163.4" r="1.9"/>
<circle class="c23" cx="641.7" cy="148.4" r="1.9"/>
<circle class="c23" cx="644.2" cy="135.2" r="1.9"/>
<circle class="c24" cx="635.3" cy="162.2" r="1.9"/>
<circle class="c24" cx="640.6" cy="150.9" r="1.9"/>
<circle class="c24" cx="641.4" cy="143.7" r="1.9"/>
<circle class="c24" cx="641.9" cy="141.1" r="1.9"/>
<circle class="c24" cx="638.5" cy="153.0" r="1.9"/>
<circle class="c24" cx="641.8" cy="144.4" r="1.9"/>
<circle class="c23" cx="628.5" cy="173.5" r="1.9"/>
<circle class="c25" cx="612.0" cy="113.7" r="1.9"/>
<circle class="c25" cx="626.2" cy="124.0" r="1.9"/>
<circle class="c25" cx="636.4" cy="102.4" r="1.9"/>
<circle class="c25" cx="631.6" cy="108.6" r="1.9"/>
<circle class="c25" cx="636.9" cy="105.7" r="1.9"/>
<circle class="c25" cx="627.1" cy="110.8" r="1.9"/>
<circle class="c25" cx="627.1" cy="108.3" r="1.9"/>
<circle class="c25" cx="612.0" cy="114.0" r="1.9"/>
<circle class="c25" cx="637.0" cy="111.1" r="1.9"/>
<circle class="c25" cx="618.8" cy="112.6" r="1.9"/>
<circle class="c25" cx="633.1" cy="110.5" r="1.9"/>
<circle class="c25" cx="627.9" cy="119.2" r="1.9"/>
<circle class="c25" cx="617.9" cy="108.4" r="1.9"/>
<circle class="c25" cx="612.0" cy="107.7" r="1.9"/>
<circle class="c25" cx="621.3" cy="106.2" r="1.9"/>
<circle class="c25" cx="621.8" cy="121.4" r="1.9"/>
<circle class="c25" cx="626.2" cy="110.9" r="1.9"/>
<circle class="c25" cx="647.8" cy="111.2" r="1.9"/>
<circle class="c25" cx="612.4" cy="113.7" r="1.9"/>
<circle class="c25" cx="619.6" cy="120.5" r="1.9"/>
<circle class="c25" cx="616.8" cy="108.3" r="1.9"/>
<circle class="c25" cx="613.5" cy="112.0" r="1.9"/>
<circle class="c25" cx="618.9" cy="111.1" r="1.9"/>
<circle class="c25" cx="624.6" cy="108.1" r="1.9"/>
<circle class="c25" cx="636.5" cy="116.6" r="1.9"/>
<circle class="c25" cx="628.6" cy="106.5" r="1.9"/>
<circle class="c25" cx="618.4" cy="113.0" r="1.9"/>
<circle class="c25" cx="649.0" cy="109.0" r="1.9"/>
<circle class="c25" cx="620.9" cy="107.7" r="1.9"/>
<circle class="c25" cx="618.1" cy="106.2" r="1.9"/>
<circle class="c25" cx="626.2" cy="119.4" r="1.9"/>
<circle class="c25" cx="628.0" cy="108.7" r="1.9"/>
<circle class="c25" cx="613.5" cy="112.7" r="1.9"/>
<circle class="c25" cx="627.8" cy="104.8" r="1.9"/>
<circle class="c25" cx="618.2" cy="111.3" r="1.9"/>
<circle class="c25" cx="637.1" cy="114.9" r="1.9"/>
<circle class="c25" cx="629.9" cy="109.7" r="1.9"/>
<circle class="c25" cx="630.9" cy="111.4" r="1.9"/>
<circle class="c25" cx="647.6" cy="105.3" r="1.9"/>
<circle class="c25" cx="624.7" cy="118.5" r="1.9"/>
<circle class="c25" cx="625.6" cy="119.3" r="1.9"/>
<circle class="c25" cx="627.6" cy="112.3" r="1.9"/>
<circle class="c25" cx="659.5" cy="103.0" r="1.9"/>
<circle class="c25" cx="651.0" cy="102.5" r="1.9"/>
<circle class="c25" cx="655.0" cy="105.5" r="1.9"/>
<circle class="c25" cx="671.0" cy="111.3" r="1.9"/>
<circle class="c25" cx="612.8" cy="102.7" r="1.9"/>
<circle class="c25" cx="625.0" cy="118.5" r="1.9"/>
<circle class="c25" cx="633.0" cy="124.0" r="1.9"/>
<circle class="c26" cx="606.0" cy="110.6" r="1.9"/>
<circle class="c26" cx="648.5" cy="115.9" r="1.9"/>
<circle class="c27" cx="618.1" cy="108.8" r="1.9"/>
<circle class="c27" cx="636.5" cy="112.5" r="1.9"/>
<circle class="c27" cx="611.6" cy="120.4" r="1.9"/>
<circle class="c28" cx="641.0" cy="148.2" r="1.9"/>
<circle class="c28" cx="616.3" cy="140.6" r="1.9"/>
<circle class="c28" cx="617.2" cy="147.8" r="1.9"/>
<g transform="translate(548.0 180.5) rotate(-90)" font-size="11.8" fill="#111"><text x="0" y="0" textLength="90.5" lengthAdjust="spacingAndGlyphs">Real - predicted t</text><text x="91" y="1.8" font-size="8.8" textLength="15" lengthAdjust="spacingAndGlyphs">app</text><text x="110.5" y="0" textLength="12.5" lengthAdjust="spacingAndGlyphs">[h]</text></g>
<g font-size="11.8" fill="#111"><text x="592.2" y="207.4" textLength="34" lengthAdjust="spacingAndGlyphs">Mean t</text><text x="627.0" y="209.20000000000002" font-size="8.8" textLength="16" lengthAdjust="spacingAndGlyphs">app</text><text x="648.9" y="207.4" textLength="12.2" lengthAdjust="spacingAndGlyphs">[h]</text></g>
<line x1="569.80" y1="242.50" x2="569.80" y2="372.15" stroke="#000" stroke-width="1.9" />
<line x1="565.80" y1="248.75" x2="569.80" y2="248.75" stroke="#000" stroke-width="1.5" />
<text transform="translate(563.50 252.25) skewX(0.3) scale(0.93 1)" font-size="9.8" text-anchor="end" fill="#111">10</text>
<line x1="565.80" y1="279.38" x2="569.80" y2="279.38" stroke="#000" stroke-width="1.5" />
<text transform="translate(563.50 282.88) skewX(0.3) scale(0.93 1)" font-size="9.8" text-anchor="end" fill="#111">5</text>
<line x1="565.80" y1="310.00" x2="569.80" y2="310.00" stroke="#000" stroke-width="1.5" />
<text transform="translate(563.50 313.50) skewX(0.3) scale(0.93 1)" font-size="9.8" text-anchor="end" fill="#111">0</text>
<line x1="565.80" y1="340.62" x2="569.80" y2="340.62" stroke="#000" stroke-width="1.5" />
<text transform="translate(563.50 344.12) skewX(0.3) scale(0.93 1)" font-size="9.8" text-anchor="end" fill="#111">-5</text>
<line x1="565.80" y1="371.25" x2="569.80" y2="371.25" stroke="#000" stroke-width="1.5" />
<text transform="translate(563.50 374.75) skewX(0.3) scale(0.93 1)" font-size="9.8" text-anchor="end" fill="#111">-10</text>
<line x1="568.90" y1="371.25" x2="686.00" y2="371.25" stroke="#000" stroke-width="1.9" />
<line x1="569.80" y1="371.25" x2="569.80" y2="374.25" stroke="#000" stroke-width="1.5" />
<text transform="translate(569.80 384.05) skewX(0.3) scale(0.93 1)" font-size="9.8" text-anchor="middle" fill="#111">0</text>
<line x1="613.24" y1="371.25" x2="613.24" y2="374.25" stroke="#000" stroke-width="1.5" />
<text transform="translate(613.24 384.05) skewX(0.3) scale(0.93 1)" font-size="9.8" text-anchor="middle" fill="#111">12</text>
<line x1="656.68" y1="371.25" x2="656.68" y2="374.25" stroke="#000" stroke-width="1.5" />
<text transform="translate(656.68 384.05) skewX(0.3) scale(0.93 1)" font-size="9.8" text-anchor="middle" fill="#111">24</text>
<line x1="569.80" y1="279.38" x2="686.00" y2="279.38" stroke="#000" stroke-width="1.7" stroke-dasharray="5.8 5.5"/>
<line x1="569.80" y1="327.46" x2="686.00" y2="327.46" stroke="#000" stroke-width="1.7" stroke-dasharray="5.8 5.5"/>
<line x1="573.20" y1="303.88" x2="686.00" y2="303.88" stroke="#000" stroke-width="1.4" stroke-dasharray="1.4 4.3"/>
<circle class="c22" cx="601.7" cy="293.7" r="1.9"/>
<circle class="c22" cx="602.5" cy="286.2" r="1.9"/>
<circle class="c22" cx="599.1" cy="288.3" r="1.9"/>
<circle class="c22" cx="596.1" cy="295.0" r="1.9"/>
<circle class="c22" cx="600.3" cy="292.6" r="1.9"/>
<circle class="c22" cx="597.7" cy="289.9" r="1.9"/>
<circle class="c22" cx="601.0" cy="288.4" r="1.9"/>
<circle class="c22" cx="595.4" cy="289.4" r="1.9"/>
<circle class="c22" cx="601.2" cy="287.6" r="1.9"/>
<circle class="c22" cx="602.6" cy="290.8" r="1.9"/>
<circle class="c22" cx="603.5" cy="299.6" r="1.9"/>
<circle class="c22" cx="602.3" cy="285.3" r="1.9"/>
<circle class="c22" cx="597.9" cy="300.0" r="1.9"/>
<circle class="c22" cx="603.0" cy="292.7" r="1.9"/>
<circle class="c22" cx="602.5" cy="298.8" r="1.9"/>
<circle class="c22" cx="596.5" cy="293.4" r="1.9"/>
<circle class="c22" cx="595.6" cy="287.4" r="1.9"/>
<circle class="c22" cx="596.5" cy="291.8" r="1.9"/>
<circle class="c24" cx="601.9" cy="289.0" r="1.9"/>
<circle class="c24" cx="603.0" cy="291.4" r="1.9"/>
<circle class="c24" cx="606.6" cy="299.0" r="1.9"/>
<circle class="c24" cx="601.7" cy="295.7" r="1.9"/>
<circle class="c24" cx="604.3" cy="296.6" r="1.9"/>
<circle class="c24" cx="601.9" cy="286.1" r="1.9"/>
<circle class="c24" cx="604.4" cy="290.5" r="1.9"/>
<circle class="c24" cx="601.4" cy="294.8" r="1.9"/>
<circle class="c24" cx="606.1" cy="300.5" r="1.9"/>
<circle class="c24" cx="600.5" cy="279.7" r="1.9"/>
<circle class="c24" cx="600.8" cy="292.9" r="1.9"/>
<circle class="c24" cx="600.6" cy="291.4" r="1.9"/>
<circle class="c24" cx="604.4" cy="291.2" r="1.9"/>
<circle class="c24" cx="603.4" cy="287.0" r="1.9"/>
<circle class="c24" cx="605.8" cy="295.4" r="1.9"/>
<circle class="c24" cx="600.9" cy="281.0" r="1.9"/>
<circle class="c24" cx="601.5" cy="294.1" r="1.9"/>
<circle class="c24" cx="601.9" cy="288.2" r="1.9"/>
<circle class="c24" cx="606.8" cy="292.0" r="1.9"/>
<circle class="c24" cx="603.8" cy="285.8" r="1.9"/>
<circle class="c24" cx="602.6" cy="286.2" r="1.9"/>
<circle class="c24" cx="606.1" cy="281.3" r="1.9"/>
<circle class="c24" cx="603.4" cy="291.0" r="1.9"/>
<circle class="c24" cx="602.1" cy="293.4" r="1.9"/>
<circle class="c24" cx="604.6" cy="283.2" r="1.9"/>
<circle class="c24" cx="602.2" cy="280.5" r="1.9"/>
<circle class="c24" cx="601.1" cy="283.7" r="1.9"/>
<circle class="c24" cx="605.0" cy="286.2" r="1.9"/>
<circle class="c23" cx="604.0" cy="294.2" r="1.9"/>
<circle class="c23" cx="606.5" cy="299.0" r="1.9"/>
<circle class="c23" cx="602.2" cy="295.4" r="1.9"/>
<circle class="c23" cx="602.8" cy="287.2" r="1.9"/>
<circle class="c23" cx="602.6" cy="283.5" r="1.9"/>
<circle class="c23" cx="602.6" cy="286.0" r="1.9"/>
<circle class="c23" cx="603.9" cy="283.6" r="1.9"/>
<circle class="c23" cx="603.8" cy="296.3" r="1.9"/>
<circle class="c23" cx="605.3" cy="281.8" r="1.9"/>
<circle class="c23" cx="602.0" cy="298.5" r="1.9"/>
<circle class="c26" cx="593.4" cy="272.6" r="1.9"/>
<circle class="c26" cx="595.5" cy="282.8" r="1.9"/>
<circle class="c26" cx="596.4" cy="287.1" r="1.9"/>
<circle class="c26" cx="595.0" cy="292.4" r="1.9"/>
<circle class="c26" cx="640.6" cy="275.4" r="1.9"/>
<circle class="c26" cx="597.0" cy="296.0" r="1.9"/>
<circle class="c22" cx="602.2" cy="310.7" r="1.9"/>
<circle class="c22" cx="603.5" cy="320.3" r="1.9"/>
<circle class="c22" cx="604.4" cy="310.2" r="1.9"/>
<circle class="c22" cx="596.9" cy="299.8" r="1.9"/>
<circle class="c22" cx="602.4" cy="297.8" r="1.9"/>
<circle class="c22" cx="603.6" cy="300.9" r="1.9"/>
<circle class="c22" cx="603.9" cy="302.5" r="1.9"/>
<circle class="c22" cx="604.2" cy="309.3" r="1.9"/>
<circle class="c22" cx="603.7" cy="320.8" r="1.9"/>
<circle class="c22" cx="601.9" cy="309.1" r="1.9"/>
<circle class="c22" cx="601.0" cy="317.5" r="1.9"/>
<circle class="c22" cx="603.5" cy="318.1" r="1.9"/>
<circle class="c22" cx="605.7" cy="315.7" r="1.9"/>
<circle class="c22" cx="603.4" cy="318.5" r="1.9"/>
<circle class="c22" cx="601.0" cy="316.2" r="1.9"/>
<circle class="c22" cx="597.9" cy="307.5" r="1.9"/>
<circle class="c22" cx="598.1" cy="303.6" r="1.9"/>
<circle class="c22" cx="600.5" cy="302.0" r="1.9"/>
<circle class="c22" cx="599.1" cy="301.9" r="1.9"/>
<circle class="c22" cx="602.6" cy="300.7" r="1.9"/>
<circle class="c22" cx="600.6" cy="298.8" r="1.9"/>
<circle class="c22" cx="605.7" cy="311.9" r="1.9"/>
<circle class="c22" cx="598.4" cy="302.4" r="1.9"/>
<circle class="c22" cx="603.4" cy="302.8" r="1.9"/>
<circle class="c22" cx="599.0" cy="301.9" r="1.9"/>
<circle class="c22" cx="603.7" cy="301.5" r="1.9"/>
<circle class="c22" cx="601.6" cy="318.0" r="1.9"/>
<circle class="c22" cx="605.1" cy="304.8" r="1.9"/>
<circle class="c22" cx="606.1" cy="310.1" r="1.9"/>
<circle class="c22" cx="598.7" cy="311.4" r="1.9"/>
<circle class="c22" cx="600.7" cy="317.2" r="1.9"/>
<circle class="c22" cx="601.7" cy="309.7" r="1.9"/>
<circle class="c22" cx="599.0" cy="316.1" r="1.9"/>
<circle class="c22" cx="600.7" cy="297.0" r="1.9"/>
<circle class="c22" cx="602.8" cy="315.7" r="1.9"/>
<circle class="c22" cx="597.7" cy="301.3" r="1.9"/>
<circle class="c22" cx="602.0" cy="318.7" r="1.9"/>
<circle class="c22" cx="606.6" cy="312.5" r="1.9"/>
<circle class="c22" cx="603.9" cy="302.7" r="1.9"/>
<circle class="c22" cx="604.2" cy="299.1" r="1.9"/>
<circle class="c22" cx="598.8" cy="298.4" r="1.9"/>
<circle class="c22" cx="597.7" cy="313.4" r="1.9"/>
<circle class="c22" cx="602.8" cy="320.1" r="1.9"/>
<circle class="c22" cx="599.9" cy="318.0" r="1.9"/>
<circle class="c22" cx="597.8" cy="318.1" r="1.9"/>
<circle class="c22" cx="598.9" cy="315.8" r="1.9"/>
<circle class="c22" cx="604.5" cy="301.3" r="1.9"/>
<circle class="c22" cx="599.4" cy="305.9" r="1.9"/>
<circle class="c22" cx="603.6" cy="309.1" r="1.9"/>
<circle class="c22" cx="603.2" cy="307.1" r="1.9"/>
<circle class="c22" cx="606.1" cy="309.2" r="1.9"/>
<circle class="c22" cx="603.4" cy="318.1" r="1.9"/>
<circle class="c22" cx="599.1" cy="314.4" r="1.9"/>
<circle class="c22" cx="601.1" cy="314.1" r="1.9"/>
<circle class="c22" cx="598.9" cy="316.6" r="1.9"/>
<circle class="c22" cx="599.5" cy="311.3" r="1.9"/>
<circle class="c22" cx="599.7" cy="305.7" r="1.9"/>
<circle class="c22" cx="603.1" cy="307.0" r="1.9"/>
<circle class="c22" cx="600.0" cy="315.5" r="1.9"/>
<circle class="c22" cx="602.6" cy="319.6" r="1.9"/>
<circle class="c22" cx="597.7" cy="316.1" r="1.9"/>
<circle class="c22" cx="597.1" cy="300.6" r="1.9"/>
<circle class="c22" cx="600.2" cy="300.7" r="1.9"/>
<circle class="c22" cx="602.8" cy="317.9" r="1.9"/>
<circle class="c22" cx="597.4" cy="302.0" r="1.9"/>
<circle class="c22" cx="597.1" cy="308.3" r="1.9"/>
<circle class="c22" cx="603.0" cy="309.3" r="1.9"/>
<circle class="c22" cx="605.0" cy="315.0" r="1.9"/>
<circle class="c22" cx="596.6" cy="308.1" r="1.9"/>
<circle class="c22" cx="603.4" cy="309.0" r="1.9"/>
<circle class="c22" cx="602.7" cy="313.0" r="1.9"/>
<circle class="c22" cx="599.3" cy="297.6" r="1.9"/>
<circle class="c22" cx="599.9" cy="301.7" r="1.9"/>
<circle class="c22" cx="604.4" cy="310.3" r="1.9"/>
<circle class="c22" cx="603.8" cy="300.4" r="1.9"/>
<circle class="c22" cx="601.0" cy="323.0" r="1.9"/>
<circle class="c22" cx="603.0" cy="322.5" r="1.9"/>
<circle class="c22" cx="599.0" cy="320.5" r="1.9"/>
<circle class="c24" cx="604.3" cy="315.5" r="1.9"/>
<circle class="c24" cx="605.3" cy="301.6" r="1.9"/>
<circle class="c24" cx="604.1" cy="317.4" r="1.9"/>
<circle class="c24" cx="606.7" cy="300.5" r="1.9"/>
<circle class="c24" cx="602.2" cy="311.1" r="1.9"/>
<circle class="c24" cx="605.2" cy="309.8" r="1.9"/>
<circle class="c24" cx="606.6" cy="304.0" r="1.9"/>
<circle class="c25" cx="647.0" cy="286.9" r="1.9"/>
<circle class="c25" cx="654.2" cy="292.5" r="1.9"/>
<circle class="c25" cx="620.8" cy="309.4" r="1.9"/>
<circle class="c25" cx="658.9" cy="293.2" r="1.9"/>
<circle class="c25" cx="641.5" cy="291.4" r="1.9"/>
<circle class="c25" cx="649.1" cy="292.8" r="1.9"/>
<circle class="c25" cx="648.2" cy="292.3" r="1.9"/>
<circle class="c25" cx="612.2" cy="288.2" r="1.9"/>
<circle class="c25" cx="661.0" cy="294.2" r="1.9"/>
<circle class="c25" cx="635.8" cy="304.4" r="1.9"/>
<circle class="c25" cx="632.9" cy="306.3" r="1.9"/>
<circle class="c25" cx="618.4" cy="296.6" r="1.9"/>
<circle class="c25" cx="625.3" cy="299.5" r="1.9"/>
<circle class="c25" cx="630.2" cy="290.6" r="1.9"/>
<circle class="c25" cx="623.3" cy="301.6" r="1.9"/>
<circle class="c25" cx="635.8" cy="287.2" r="1.9"/>
<circle class="c25" cx="655.2" cy="291.0" r="1.9"/>
<circle class="c25" cx="634.1" cy="303.0" r="1.9"/>
<circle class="c25" cx="638.8" cy="297.1" r="1.9"/>
<circle class="c25" cx="659.3" cy="297.5" r="1.9"/>
<circle class="c25" cx="627.1" cy="299.4" r="1.9"/>
<circle class="c25" cx="653.9" cy="291.9" r="1.9"/>
<circle class="c25" cx="644.5" cy="292.3" r="1.9"/>
<circle class="c25" cx="637.8" cy="309.1" r="1.9"/>
<circle class="c25" cx="633.1" cy="304.8" r="1.9"/>
<circle class="c25" cx="633.0" cy="285.0" r="1.9"/>
<circle class="c25" cx="627.5" cy="297.6" r="1.9"/>
<circle class="c25" cx="612.9" cy="303.2" r="1.9"/>
<circle class="c25" cx="619.8" cy="291.9" r="1.9"/>
<circle class="c25" cx="619.7" cy="285.0" r="1.9"/>
<circle class="c25" cx="661.4" cy="294.3" r="1.9"/>
<circle class="c25" cx="652.2" cy="296.7" r="1.9"/>
<circle class="c25" cx="638.6" cy="299.4" r="1.9"/>
<circle class="c25" cx="646.7" cy="306.0" r="1.9"/>
<circle class="c25" cx="630.9" cy="310.6" r="1.9"/>
<circle class="c25" cx="620.0" cy="291.7" r="1.9"/>
<circle class="c25" cx="613.3" cy="309.0" r="1.9"/>
<circle class="c25" cx="651.8" cy="289.1" r="1.9"/>
<circle class="c25" cx="612.7" cy="283.9" r="1.9"/>
<circle class="c25" cx="650.2" cy="291.5" r="1.9"/>
<circle class="c25" cx="661.6" cy="291.0" r="1.9"/>
<circle class="c25" cx="621.9" cy="309.8" r="1.9"/>
<circle class="c25" cx="648.3" cy="297.2" r="1.9"/>
<circle class="c25" cx="628.5" cy="288.0" r="1.9"/>
<circle class="c25" cx="661.9" cy="286.4" r="1.9"/>
<circle class="c25" cx="602.5" cy="252.5" r="1.9"/>
<circle class="c25" cx="612.5" cy="276.2" r="1.9"/>
<circle class="c25" cx="649.5" cy="285.8" r="1.9"/>
<circle class="c25" cx="658.0" cy="287.5" r="1.9"/>
<circle class="c25" cx="672.0" cy="301.2" r="1.9"/>
<circle class="c25" cx="640.0" cy="300.0" r="1.9"/>
<circle class="c25" cx="642.0" cy="295.0" r="1.9"/>
<circle class="c23" cx="612.0" cy="252.5" r="1.9"/>
<circle class="c23" cx="622.0" cy="259.5" r="1.9"/>
<circle class="c23" cx="613.9" cy="275.4" r="1.9"/>
<circle class="c23" cx="620.0" cy="291.2" r="1.9"/>
<circle class="c23" cx="627.0" cy="296.8" r="1.9"/>
<circle class="c23" cx="625.6" cy="302.9" r="1.9"/>
<circle class="c23" cx="626.0" cy="317.4" r="1.9"/>
<circle class="c23" cx="633.0" cy="318.6" r="1.9"/>
<circle class="c23" cx="613.9" cy="311.6" r="1.9"/>
<circle class="c23" cx="618.0" cy="296.0" r="1.9"/>
<circle class="c23" cx="629.0" cy="303.0" r="1.9"/>
<circle class="c23" cx="622.0" cy="305.0" r="1.9"/>
<circle class="c23" cx="630.5" cy="330.0" r="1.9"/>
<circle class="c23" cx="630.3" cy="334.0" r="1.9"/>
<circle class="c23" cx="632.8" cy="325.3" r="1.9"/>
<circle class="c23" cx="632.6" cy="333.7" r="1.9"/>
<circle class="c23" cx="631.7" cy="334.8" r="1.9"/>
<circle class="c23" cx="630.1" cy="320.9" r="1.9"/>
<circle class="c23" cx="630.0" cy="323.8" r="1.9"/>
<circle class="c23" cx="631.8" cy="323.7" r="1.9"/>
<circle class="c23" cx="633.0" cy="329.4" r="1.9"/>
<circle class="c23" cx="630.6" cy="328.4" r="1.9"/>
<circle class="c24" cx="630.9" cy="325.6" r="1.9"/>
<circle class="c24" cx="632.0" cy="328.0" r="1.9"/>
<circle class="c24" cx="631.0" cy="331.0" r="1.9"/>
<circle class="c23" cx="635.8" cy="326.5" r="1.9"/>
<circle class="c28" cx="615.1" cy="270.1" r="1.9"/>
<circle class="c28" cx="606.9" cy="297.6" r="1.9"/>
<circle class="c28" cx="635.8" cy="298.5" r="1.9"/>
<circle class="c28" cx="634.9" cy="313.4" r="1.9"/>
<circle class="c27" cx="614.8" cy="286.8" r="1.9"/>
<circle class="c27" cx="611.6" cy="309.4" r="1.9"/>
<circle class="c27" cx="636.0" cy="294.0" r="1.9"/>
<g transform="translate(548.0 368.5) rotate(-90)" font-size="11.8" fill="#111"><text x="0" y="0" textLength="90.5" lengthAdjust="spacingAndGlyphs">Real - predicted t</text><text x="91" y="1.8" font-size="8.8" textLength="15" lengthAdjust="spacingAndGlyphs">app</text><text x="110.5" y="0" textLength="12.5" lengthAdjust="spacingAndGlyphs">[h]</text></g>
<g font-size="11.8" fill="#111"><text x="592.2" y="394.8" textLength="34" lengthAdjust="spacingAndGlyphs">Mean t</text><text x="627.0" y="396.6" font-size="8.8" textLength="16" lengthAdjust="spacingAndGlyphs">app</text><text x="648.9" y="394.8" textLength="12.2" lengthAdjust="spacingAndGlyphs">[h]</text></g>
</svg>
</body></html>
